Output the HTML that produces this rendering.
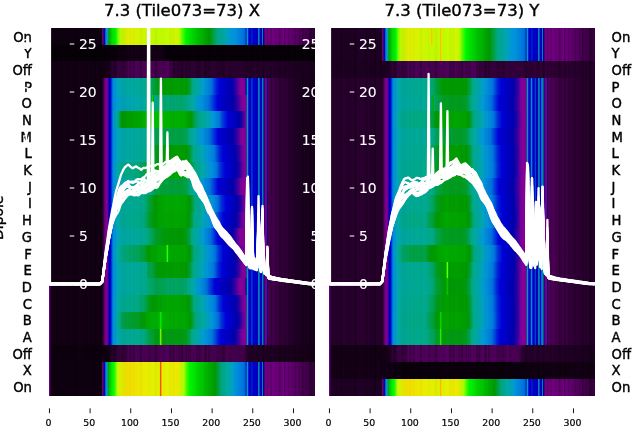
<!DOCTYPE html>
<html><head><meta charset="utf-8"><title>7.3 (Tile073=73)</title>
<style>
html,body{margin:0;padding:0;background:#fff;}
body{width:640px;height:440px;overflow:hidden;}
svg{display:block;will-change:transform;}
text{font-family:"DejaVu Sans","Liberation Sans",sans-serif;fill:#000;stroke:#000;stroke-width:.4px;}
text.w{fill:#fff;stroke:#fff;stroke-width:.1px;}
text.s{stroke-width:.2px;}
</style></head><body>
<svg width="640" height="440" viewBox="0 0 640 440">
<defs>
<linearGradient id="gL0"><stop offset=".0015" stop-color="#6c009c"/><stop offset=".0046" stop-color="#5f006d"/><stop offset=".0076" stop-color="#100012"/><stop offset=".1972" stop-color="#100012"/><stop offset=".2003" stop-color="#6b007a"/><stop offset=".2034" stop-color="#860097"/><stop offset=".2064" stop-color="#0900a9"/><stop offset=".2095" stop-color="#0000dd"/><stop offset=".2125" stop-color="#006fdd"/><stop offset=".2156" stop-color="#0092dd"/><stop offset=".2187" stop-color="#00a0c9"/><stop offset=".2217" stop-color="#00aa91"/><stop offset=".2248" stop-color="#009b12"/><stop offset=".2278" stop-color="#00b400"/><stop offset=".2401" stop-color="#00e400"/><stop offset=".2492" stop-color="#00f800"/><stop offset=".2523" stop-color="#06ff00"/><stop offset=".2584" stop-color="#5eff00"/><stop offset=".2676" stop-color="#b9ff00"/><stop offset=".2798" stop-color="#cff800"/><stop offset=".2982" stop-color="#e4f100"/><stop offset=".3746" stop-color="#c7fb00"/><stop offset=".4144" stop-color="#c0fd00"/><stop offset=".4541" stop-color="#c7fb00"/><stop offset=".4786" stop-color="#d4f700"/><stop offset=".4908" stop-color="#b9ff00"/><stop offset=".5122" stop-color="#04ff00"/><stop offset=".5153" stop-color="#00fb00"/><stop offset=".5398" stop-color="#00d600"/><stop offset=".6009" stop-color="#009c00"/><stop offset=".604" stop-color="#009a02"/><stop offset=".607" stop-color="#009b0e"/><stop offset=".6223" stop-color="#00a352"/><stop offset=".6315" stop-color="#00a980"/><stop offset=".6346" stop-color="#00aa8a"/><stop offset=".659" stop-color="#00aaa9"/><stop offset=".6835" stop-color="#009bd7"/><stop offset=".6896" stop-color="#0096dd"/><stop offset=".6927" stop-color="#0093dd"/><stop offset=".6957" stop-color="#0097dd"/><stop offset=".7324" stop-color="#0073dd"/><stop offset=".7355" stop-color="#006bdd"/><stop offset=".7416" stop-color="#0023dd"/><stop offset=".7446" stop-color="#00a0c9"/><stop offset=".7477" stop-color="#009fc9"/><stop offset=".7508" stop-color="#0000dc"/><stop offset=".7599" stop-color="#0000da"/><stop offset=".763" stop-color="#0040dd"/><stop offset=".7661" stop-color="#0000d9"/><stop offset=".7844" stop-color="#0000d6"/><stop offset=".7875" stop-color="#009ed0"/><stop offset=".7905" stop-color="#0079dd"/><stop offset=".7936" stop-color="#0000d5"/><stop offset=".7997" stop-color="#0000d4"/><stop offset=".8028" stop-color="#009cd2"/><stop offset=".8058" stop-color="#0000d3"/><stop offset=".8089" stop-color="#4200a2"/><stop offset=".8119" stop-color="#7b008c"/><stop offset=".8823" stop-color="#770088"/><stop offset=".9159" stop-color="#690078"/><stop offset=".9985" stop-color="#3a0043"/></linearGradient>
<linearGradient id="gL1"><stop offset=".0015" stop-color="#6c009c"/><stop offset=".0046" stop-color="#5f006d"/><stop offset=".0076" stop-color="#070008"/><stop offset=".2156" stop-color="#070008"/><stop offset=".292" stop-color="#150017"/><stop offset=".4266" stop-color="#150017"/><stop offset=".4388" stop-color="#070008"/><stop offset=".9985" stop-color="#070008"/></linearGradient>
<linearGradient id="gL2"><stop offset=".0015" stop-color="#6c009c"/><stop offset=".0046" stop-color="#5f006d"/><stop offset=".0076" stop-color="#150017"/><stop offset=".2156" stop-color="#150017"/><stop offset=".2339" stop-color="#29002f"/><stop offset=".2584" stop-color="#3e0048"/><stop offset=".292" stop-color="#51005c"/><stop offset=".4572" stop-color="#51005c"/><stop offset=".4694" stop-color="#33003a"/><stop offset=".8119" stop-color="#29002f"/><stop offset=".9985" stop-color="#1d0021"/></linearGradient>
<linearGradient id="gL3"><stop offset=".0015" stop-color="#6c009c"/><stop offset=".0046" stop-color="#5f006d"/><stop offset=".0076" stop-color="#150017"/><stop offset=".1972" stop-color="#150017"/><stop offset=".2003" stop-color="#18001b"/><stop offset=".2034" stop-color="#320038"/><stop offset=".2064" stop-color="#5f006d"/><stop offset=".2095" stop-color="#7a008b"/><stop offset=".2187" stop-color="#850099"/><stop offset=".2248" stop-color="#1b00a7"/><stop offset=".2278" stop-color="#0000b9"/><stop offset=".2309" stop-color="#0000d3"/><stop offset=".2339" stop-color="#0023dd"/><stop offset=".237" stop-color="#005fdd"/><stop offset=".2401" stop-color="#0081dd"/><stop offset=".2431" stop-color="#0091dd"/><stop offset=".2462" stop-color="#0098dd"/><stop offset=".2554" stop-color="#00a2c4"/><stop offset=".2768" stop-color="#00aaa9"/><stop offset=".3379" stop-color="#00aa9d"/><stop offset=".3593" stop-color="#00aa94"/><stop offset=".3716" stop-color="#00aa8a"/><stop offset=".3746" stop-color="#00aa85"/><stop offset=".3838" stop-color="#00a562"/><stop offset=".4083" stop-color="#009c18"/><stop offset=".4266" stop-color="#009a01"/><stop offset=".4908" stop-color="#00a000"/><stop offset=".5153" stop-color="#009c00"/><stop offset=".5183" stop-color="#009a02"/><stop offset=".5306" stop-color="#00a038"/><stop offset=".5398" stop-color="#00aa86"/><stop offset=".5612" stop-color="#00aaaa"/><stop offset=".5856" stop-color="#0099dc"/><stop offset=".6101" stop-color="#0076dd"/><stop offset=".6284" stop-color="#0023dd"/><stop offset=".6407" stop-color="#0002dd"/><stop offset=".6437" stop-color="#0000da"/><stop offset=".6896" stop-color="#0200ab"/><stop offset=".7018" stop-color="#2c00a4"/><stop offset=".7141" stop-color="#6f009c"/><stop offset=".7202" stop-color="#82009a"/><stop offset=".7263" stop-color="#860097"/><stop offset=".7355" stop-color="#830094"/><stop offset=".7385" stop-color="#4b00a0"/><stop offset=".7416" stop-color="#0000b4"/><stop offset=".7446" stop-color="#009dd1"/><stop offset=".7477" stop-color="#009dd1"/><stop offset=".7508" stop-color="#0000da"/><stop offset=".7599" stop-color="#0000da"/><stop offset=".763" stop-color="#0082dd"/><stop offset=".7661" stop-color="#0000da"/><stop offset=".7844" stop-color="#0000da"/><stop offset=".7875" stop-color="#009dd1"/><stop offset=".7905" stop-color="#0090dd"/><stop offset=".7936" stop-color="#0000da"/><stop offset=".7997" stop-color="#0000da"/><stop offset=".8028" stop-color="#009dd1"/><stop offset=".8058" stop-color="#007cdd"/><stop offset=".8089" stop-color="#1800a7"/><stop offset=".8119" stop-color="#830094"/><stop offset=".818" stop-color="#79008a"/><stop offset=".8211" stop-color="#0000b4"/><stop offset=".8242" stop-color="#4d0058"/><stop offset=".8272" stop-color="#4b0055"/><stop offset=".9343" stop-color="#220028"/><stop offset=".9985" stop-color="#19001c"/></linearGradient>
<linearGradient id="gL4"><stop offset=".0015" stop-color="#6c009c"/><stop offset=".0046" stop-color="#5f006d"/><stop offset=".0076" stop-color="#150017"/><stop offset=".1972" stop-color="#150017"/><stop offset=".2003" stop-color="#18001b"/><stop offset=".2034" stop-color="#320038"/><stop offset=".2064" stop-color="#5f006d"/><stop offset=".2095" stop-color="#7a008b"/><stop offset=".2187" stop-color="#850099"/><stop offset=".2248" stop-color="#1b00a7"/><stop offset=".2278" stop-color="#0000b9"/><stop offset=".2309" stop-color="#0000d3"/><stop offset=".2339" stop-color="#0023dd"/><stop offset=".237" stop-color="#005fdd"/><stop offset=".2401" stop-color="#0081dd"/><stop offset=".2431" stop-color="#0090dd"/><stop offset=".2462" stop-color="#0095dd"/><stop offset=".2492" stop-color="#009adb"/><stop offset=".2554" stop-color="#009fcd"/><stop offset=".2706" stop-color="#00a2c4"/><stop offset=".2768" stop-color="#00a4ba"/><stop offset=".3379" stop-color="#00aaaa"/><stop offset=".3838" stop-color="#00aa92"/><stop offset=".3869" stop-color="#00aa00"/><stop offset=".3899" stop-color="#00f200"/><stop offset=".393" stop-color="#009d1c"/><stop offset=".396" stop-color="#00aa8c"/><stop offset=".4021" stop-color="#00aa88"/><stop offset=".4083" stop-color="#00a97b"/><stop offset=".4388" stop-color="#00a66d"/><stop offset=".448" stop-color="#00a774"/><stop offset=".4908" stop-color="#00a66d"/><stop offset=".5153" stop-color="#00a87a"/><stop offset=".5183" stop-color="#00aa88"/><stop offset=".5306" stop-color="#00aa95"/><stop offset=".5398" stop-color="#00aaa6"/><stop offset=".5673" stop-color="#0098dd"/><stop offset=".5917" stop-color="#0080dd"/><stop offset=".6009" stop-color="#0073dd"/><stop offset=".6315" stop-color="#0006dd"/><stop offset=".6346" stop-color="#0000db"/><stop offset=".6621" stop-color="#0000c0"/><stop offset=".6927" stop-color="#0300aa"/><stop offset=".711" stop-color="#3900a3"/><stop offset=".7232" stop-color="#75009b"/><stop offset=".7324" stop-color="#860098"/><stop offset=".7416" stop-color="#830094"/><stop offset=".7446" stop-color="#009dd1"/><stop offset=".7477" stop-color="#009dd1"/><stop offset=".7508" stop-color="#0000da"/><stop offset=".7599" stop-color="#0000da"/><stop offset=".763" stop-color="#0082dd"/><stop offset=".7661" stop-color="#0000da"/><stop offset=".7844" stop-color="#0000da"/><stop offset=".7875" stop-color="#009dd1"/><stop offset=".7905" stop-color="#0090dd"/><stop offset=".7936" stop-color="#0000da"/><stop offset=".7997" stop-color="#0000da"/><stop offset=".8028" stop-color="#009dd1"/><stop offset=".8058" stop-color="#007cdd"/><stop offset=".8089" stop-color="#1800a7"/><stop offset=".8119" stop-color="#830094"/><stop offset=".818" stop-color="#79008a"/><stop offset=".8211" stop-color="#0000b4"/><stop offset=".8242" stop-color="#4d0058"/><stop offset=".8272" stop-color="#4b0055"/><stop offset=".9343" stop-color="#220028"/><stop offset=".9985" stop-color="#19001c"/></linearGradient>
<linearGradient id="gL5"><stop offset=".0015" stop-color="#6c009c"/><stop offset=".0046" stop-color="#5f006d"/><stop offset=".0076" stop-color="#150017"/><stop offset=".1972" stop-color="#150017"/><stop offset=".2003" stop-color="#18001b"/><stop offset=".2034" stop-color="#320038"/><stop offset=".2064" stop-color="#5f006d"/><stop offset=".2095" stop-color="#7a008b"/><stop offset=".2187" stop-color="#850099"/><stop offset=".2248" stop-color="#1b00a7"/><stop offset=".2278" stop-color="#0000b9"/><stop offset=".2309" stop-color="#0000d3"/><stop offset=".2339" stop-color="#0023dd"/><stop offset=".237" stop-color="#005fdd"/><stop offset=".2401" stop-color="#0081dd"/><stop offset=".2431" stop-color="#0098dd"/><stop offset=".2523" stop-color="#00aaa6"/><stop offset=".2615" stop-color="#00a982"/><stop offset=".2706" stop-color="#009b14"/><stop offset=".2768" stop-color="#009b00"/><stop offset=".3379" stop-color="#00a500"/><stop offset=".3593" stop-color="#00af00"/><stop offset=".3746" stop-color="#00be00"/><stop offset=".4083" stop-color="#00c100"/><stop offset=".448" stop-color="#00af00"/><stop offset=".4908" stop-color="#00b100"/><stop offset=".5153" stop-color="#00ad00"/><stop offset=".5336" stop-color="#009a00"/><stop offset=".5489" stop-color="#00a355"/><stop offset=".5612" stop-color="#00aa88"/><stop offset=".5948" stop-color="#00a9ac"/><stop offset=".6162" stop-color="#009ada"/><stop offset=".6193" stop-color="#0096dd"/><stop offset=".6407" stop-color="#0078dd"/><stop offset=".6529" stop-color="#003cdd"/><stop offset=".6713" stop-color="#0003dd"/><stop offset=".6743" stop-color="#0000da"/><stop offset=".7141" stop-color="#0000ad"/><stop offset=".7171" stop-color="#0400aa"/><stop offset=".7263" stop-color="#2700a5"/><stop offset=".7355" stop-color="#5c009f"/><stop offset=".7385" stop-color="#80009a"/><stop offset=".7416" stop-color="#850096"/><stop offset=".7446" stop-color="#009dd1"/><stop offset=".7477" stop-color="#009dd1"/><stop offset=".7508" stop-color="#0000da"/><stop offset=".7599" stop-color="#0000da"/><stop offset=".763" stop-color="#0082dd"/><stop offset=".7661" stop-color="#0000da"/><stop offset=".7844" stop-color="#0000da"/><stop offset=".7875" stop-color="#009dd1"/><stop offset=".7905" stop-color="#0090dd"/><stop offset=".7936" stop-color="#0000da"/><stop offset=".7997" stop-color="#0000da"/><stop offset=".8028" stop-color="#009dd1"/><stop offset=".8058" stop-color="#007cdd"/><stop offset=".8089" stop-color="#1800a7"/><stop offset=".8119" stop-color="#830094"/><stop offset=".818" stop-color="#79008a"/><stop offset=".8211" stop-color="#0000b4"/><stop offset=".8242" stop-color="#4d0058"/><stop offset=".8272" stop-color="#4b0055"/><stop offset=".9343" stop-color="#220028"/><stop offset=".9985" stop-color="#19001c"/></linearGradient>
<linearGradient id="gL6"><stop offset=".0015" stop-color="#6c009c"/><stop offset=".0046" stop-color="#5f006d"/><stop offset=".0076" stop-color="#150017"/><stop offset=".1972" stop-color="#150017"/><stop offset=".2003" stop-color="#18001b"/><stop offset=".2034" stop-color="#320038"/><stop offset=".2064" stop-color="#5f006d"/><stop offset=".2095" stop-color="#7a008b"/><stop offset=".2187" stop-color="#850099"/><stop offset=".2248" stop-color="#1b00a7"/><stop offset=".2278" stop-color="#0000b9"/><stop offset=".2309" stop-color="#0000d3"/><stop offset=".2339" stop-color="#0023dd"/><stop offset=".237" stop-color="#005fdd"/><stop offset=".2401" stop-color="#0081dd"/><stop offset=".2431" stop-color="#0091dd"/><stop offset=".2462" stop-color="#0098dd"/><stop offset=".2554" stop-color="#00a2c4"/><stop offset=".2768" stop-color="#00aaa9"/><stop offset=".3379" stop-color="#00aa9d"/><stop offset=".3746" stop-color="#00aa8b"/><stop offset=".3777" stop-color="#00aa89"/><stop offset=".4083" stop-color="#00a24b"/><stop offset=".4388" stop-color="#00a142"/><stop offset=".448" stop-color="#00a24b"/><stop offset=".4908" stop-color="#00a244"/><stop offset=".5153" stop-color="#00a352"/><stop offset=".5275" stop-color="#00aa88"/><stop offset=".5489" stop-color="#00a9ad"/><stop offset=".5703" stop-color="#009ad9"/><stop offset=".5826" stop-color="#008fdd"/><stop offset=".6009" stop-color="#0079dd"/><stop offset=".604" stop-color="#0071dd"/><stop offset=".6346" stop-color="#0000dc"/><stop offset=".6896" stop-color="#0100ac"/><stop offset=".6927" stop-color="#0600a9"/><stop offset=".708" stop-color="#3700a3"/><stop offset=".7202" stop-color="#74009b"/><stop offset=".7263" stop-color="#84009a"/><stop offset=".7294" stop-color="#870098"/><stop offset=".7416" stop-color="#830094"/><stop offset=".7446" stop-color="#009dd1"/><stop offset=".7477" stop-color="#009dd1"/><stop offset=".7508" stop-color="#0000da"/><stop offset=".7599" stop-color="#0000da"/><stop offset=".763" stop-color="#0082dd"/><stop offset=".7661" stop-color="#0000da"/><stop offset=".7844" stop-color="#0000da"/><stop offset=".7875" stop-color="#009dd1"/><stop offset=".7905" stop-color="#0090dd"/><stop offset=".7936" stop-color="#0000da"/><stop offset=".7997" stop-color="#0000da"/><stop offset=".8028" stop-color="#009dd1"/><stop offset=".8058" stop-color="#007cdd"/><stop offset=".8089" stop-color="#1800a7"/><stop offset=".8119" stop-color="#830094"/><stop offset=".818" stop-color="#79008a"/><stop offset=".8211" stop-color="#0000b4"/><stop offset=".8242" stop-color="#4d0058"/><stop offset=".8272" stop-color="#4b0055"/><stop offset=".9343" stop-color="#220028"/><stop offset=".9985" stop-color="#19001c"/></linearGradient>
<linearGradient id="gL7"><stop offset=".0015" stop-color="#6c009c"/><stop offset=".0046" stop-color="#5f006d"/><stop offset=".0076" stop-color="#150017"/><stop offset=".1972" stop-color="#150017"/><stop offset=".2003" stop-color="#18001b"/><stop offset=".2034" stop-color="#320038"/><stop offset=".2064" stop-color="#5f006d"/><stop offset=".2095" stop-color="#7a008b"/><stop offset=".2187" stop-color="#850099"/><stop offset=".2248" stop-color="#1b00a7"/><stop offset=".2278" stop-color="#0000b9"/><stop offset=".2309" stop-color="#0000d3"/><stop offset=".2339" stop-color="#0023dd"/><stop offset=".237" stop-color="#005fdd"/><stop offset=".2401" stop-color="#0081dd"/><stop offset=".2431" stop-color="#0092dd"/><stop offset=".2462" stop-color="#0098dd"/><stop offset=".2554" stop-color="#00a3c1"/><stop offset=".2737" stop-color="#00aaa8"/><stop offset=".3379" stop-color="#00aa9b"/><stop offset=".3685" stop-color="#00aa89"/><stop offset=".3838" stop-color="#00a457"/><stop offset=".4083" stop-color="#009b11"/><stop offset=".4235" stop-color="#009a01"/><stop offset=".4908" stop-color="#00a000"/><stop offset=".5153" stop-color="#009c00"/><stop offset=".5183" stop-color="#009a02"/><stop offset=".5306" stop-color="#009f35"/><stop offset=".5428" stop-color="#00aa89"/><stop offset=".5673" stop-color="#00aaaa"/><stop offset=".5979" stop-color="#0098dd"/><stop offset=".6223" stop-color="#0078dd"/><stop offset=".6407" stop-color="#0025dd"/><stop offset=".6529" stop-color="#0004dd"/><stop offset=".656" stop-color="#0000db"/><stop offset=".7018" stop-color="#0200ab"/><stop offset=".7141" stop-color="#2b00a4"/><stop offset=".7263" stop-color="#6e009c"/><stop offset=".7324" stop-color="#81009a"/><stop offset=".7385" stop-color="#860097"/><stop offset=".7416" stop-color="#840095"/><stop offset=".7446" stop-color="#009dd1"/><stop offset=".7477" stop-color="#009dd1"/><stop offset=".7508" stop-color="#0000da"/><stop offset=".7599" stop-color="#0000da"/><stop offset=".763" stop-color="#0082dd"/><stop offset=".7661" stop-color="#0000da"/><stop offset=".7844" stop-color="#0000da"/><stop offset=".7875" stop-color="#009dd1"/><stop offset=".7905" stop-color="#0090dd"/><stop offset=".7936" stop-color="#0000da"/><stop offset=".7997" stop-color="#0000da"/><stop offset=".8028" stop-color="#009dd1"/><stop offset=".8058" stop-color="#007cdd"/><stop offset=".8089" stop-color="#1800a7"/><stop offset=".8119" stop-color="#830094"/><stop offset=".818" stop-color="#79008a"/><stop offset=".8211" stop-color="#0000b4"/><stop offset=".8242" stop-color="#4d0058"/><stop offset=".8272" stop-color="#4b0055"/><stop offset=".9343" stop-color="#220028"/><stop offset=".9985" stop-color="#19001c"/></linearGradient>
<linearGradient id="gL8"><stop offset=".0015" stop-color="#6c009c"/><stop offset=".0046" stop-color="#5f006d"/><stop offset=".0076" stop-color="#150017"/><stop offset=".1972" stop-color="#150017"/><stop offset=".2003" stop-color="#18001b"/><stop offset=".2034" stop-color="#320038"/><stop offset=".2064" stop-color="#5f006d"/><stop offset=".2095" stop-color="#7a008b"/><stop offset=".2187" stop-color="#850099"/><stop offset=".2248" stop-color="#1b00a7"/><stop offset=".2278" stop-color="#0000b9"/><stop offset=".2309" stop-color="#0000d3"/><stop offset=".2339" stop-color="#0023dd"/><stop offset=".237" stop-color="#005fdd"/><stop offset=".2401" stop-color="#0081dd"/><stop offset=".2431" stop-color="#0094dd"/><stop offset=".2462" stop-color="#009bd7"/><stop offset=".2554" stop-color="#00a8af"/><stop offset=".2706" stop-color="#00aa94"/><stop offset=".2768" stop-color="#00aa8d"/><stop offset=".3012" stop-color="#00aa88"/><stop offset=".3379" stop-color="#00a773"/><stop offset=".3593" stop-color="#00a24c"/><stop offset=".3746" stop-color="#009b12"/><stop offset=".3807" stop-color="#009a03"/><stop offset=".4083" stop-color="#00a700"/><stop offset=".4388" stop-color="#00aa00"/><stop offset=".5153" stop-color="#00a700"/><stop offset=".5275" stop-color="#009a02"/><stop offset=".5306" stop-color="#009a0c"/><stop offset=".5459" stop-color="#00a771"/><stop offset=".552" stop-color="#00aa8a"/><stop offset=".5795" stop-color="#00aaab"/><stop offset=".607" stop-color="#0097dd"/><stop offset=".6284" stop-color="#0079dd"/><stop offset=".6315" stop-color="#0071dd"/><stop offset=".6437" stop-color="#0034dd"/><stop offset=".6621" stop-color="#0000dc"/><stop offset=".7018" stop-color="#0000b1"/><stop offset=".708" stop-color="#0500aa"/><stop offset=".7171" stop-color="#2800a5"/><stop offset=".7294" stop-color="#6c009c"/><stop offset=".7355" stop-color="#80009a"/><stop offset=".7385" stop-color="#860097"/><stop offset=".7416" stop-color="#840095"/><stop offset=".7446" stop-color="#009dd1"/><stop offset=".7477" stop-color="#009dd1"/><stop offset=".7508" stop-color="#0000da"/><stop offset=".7599" stop-color="#0000da"/><stop offset=".763" stop-color="#0082dd"/><stop offset=".7661" stop-color="#0000da"/><stop offset=".7844" stop-color="#0000da"/><stop offset=".7875" stop-color="#009dd1"/><stop offset=".7905" stop-color="#0090dd"/><stop offset=".7936" stop-color="#0000da"/><stop offset=".7997" stop-color="#0000da"/><stop offset=".8028" stop-color="#009dd1"/><stop offset=".8058" stop-color="#007cdd"/><stop offset=".8089" stop-color="#1800a7"/><stop offset=".8119" stop-color="#830094"/><stop offset=".818" stop-color="#79008a"/><stop offset=".8211" stop-color="#0000b4"/><stop offset=".8242" stop-color="#4d0058"/><stop offset=".8272" stop-color="#4b0055"/><stop offset=".9343" stop-color="#220028"/><stop offset=".9985" stop-color="#19001c"/></linearGradient>
<linearGradient id="gL9"><stop offset=".0015" stop-color="#6c009c"/><stop offset=".0046" stop-color="#5f006d"/><stop offset=".0076" stop-color="#150017"/><stop offset=".1972" stop-color="#150017"/><stop offset=".2003" stop-color="#18001b"/><stop offset=".2034" stop-color="#320038"/><stop offset=".2064" stop-color="#5f006d"/><stop offset=".2095" stop-color="#7a008b"/><stop offset=".2187" stop-color="#850099"/><stop offset=".2248" stop-color="#1b00a7"/><stop offset=".2278" stop-color="#0000b9"/><stop offset=".2309" stop-color="#0000d3"/><stop offset=".2339" stop-color="#0023dd"/><stop offset=".237" stop-color="#005fdd"/><stop offset=".2401" stop-color="#0081dd"/><stop offset=".2431" stop-color="#0091dd"/><stop offset=".2462" stop-color="#0098dd"/><stop offset=".2554" stop-color="#00a2c4"/><stop offset=".2768" stop-color="#00aaa9"/><stop offset=".3379" stop-color="#00aa9d"/><stop offset=".3746" stop-color="#00aa8a"/><stop offset=".3777" stop-color="#00aa88"/><stop offset=".3838" stop-color="#00a877"/><stop offset=".4083" stop-color="#00a243"/><stop offset=".4388" stop-color="#00a036"/><stop offset=".448" stop-color="#00a13d"/><stop offset=".4908" stop-color="#00a037"/><stop offset=".5153" stop-color="#00a244"/><stop offset=".5306" stop-color="#00aa88"/><stop offset=".5489" stop-color="#00aaa9"/><stop offset=".5734" stop-color="#009ad9"/><stop offset=".5856" stop-color="#008fdd"/><stop offset=".604" stop-color="#0078dd"/><stop offset=".6223" stop-color="#0034dd"/><stop offset=".6346" stop-color="#0002dd"/><stop offset=".6376" stop-color="#0000db"/><stop offset=".6865" stop-color="#0000af"/><stop offset=".6927" stop-color="#0300aa"/><stop offset=".708" stop-color="#3500a3"/><stop offset=".7202" stop-color="#73009b"/><stop offset=".7263" stop-color="#84009a"/><stop offset=".7294" stop-color="#870098"/><stop offset=".7416" stop-color="#830094"/><stop offset=".7446" stop-color="#009dd1"/><stop offset=".7477" stop-color="#009dd1"/><stop offset=".7508" stop-color="#0000da"/><stop offset=".7599" stop-color="#0000da"/><stop offset=".763" stop-color="#0082dd"/><stop offset=".7661" stop-color="#0000da"/><stop offset=".7844" stop-color="#0000da"/><stop offset=".7875" stop-color="#009dd1"/><stop offset=".7905" stop-color="#0090dd"/><stop offset=".7936" stop-color="#0000da"/><stop offset=".7997" stop-color="#0000da"/><stop offset=".8028" stop-color="#009dd1"/><stop offset=".8058" stop-color="#007cdd"/><stop offset=".8089" stop-color="#1800a7"/><stop offset=".8119" stop-color="#830094"/><stop offset=".818" stop-color="#79008a"/><stop offset=".8211" stop-color="#0000b4"/><stop offset=".8242" stop-color="#4d0058"/><stop offset=".8272" stop-color="#4b0055"/><stop offset=".9343" stop-color="#220028"/><stop offset=".9985" stop-color="#19001c"/></linearGradient>
<linearGradient id="gL10"><stop offset=".0015" stop-color="#6c009c"/><stop offset=".0046" stop-color="#5f006d"/><stop offset=".0076" stop-color="#150017"/><stop offset=".1972" stop-color="#150017"/><stop offset=".2003" stop-color="#18001b"/><stop offset=".2034" stop-color="#320038"/><stop offset=".2064" stop-color="#5f006d"/><stop offset=".2095" stop-color="#7a008b"/><stop offset=".2187" stop-color="#850099"/><stop offset=".2248" stop-color="#1b00a7"/><stop offset=".2278" stop-color="#0000b9"/><stop offset=".2309" stop-color="#0000d3"/><stop offset=".2339" stop-color="#0023dd"/><stop offset=".237" stop-color="#005fdd"/><stop offset=".2401" stop-color="#0081dd"/><stop offset=".2431" stop-color="#0093dd"/><stop offset=".2462" stop-color="#009adb"/><stop offset=".2554" stop-color="#00a5b9"/><stop offset=".2645" stop-color="#00aaa9"/><stop offset=".2768" stop-color="#00aa9b"/><stop offset=".3379" stop-color="#00aa90"/><stop offset=".3563" stop-color="#00aa88"/><stop offset=".3593" stop-color="#00a982"/><stop offset=".3838" stop-color="#009e29"/><stop offset=".3991" stop-color="#009a01"/><stop offset=".4388" stop-color="#00a900"/><stop offset=".4908" stop-color="#00aa00"/><stop offset=".5153" stop-color="#00a700"/><stop offset=".5275" stop-color="#009a02"/><stop offset=".5306" stop-color="#009a0b"/><stop offset=".5459" stop-color="#00a66c"/><stop offset=".552" stop-color="#00aa88"/><stop offset=".5826" stop-color="#00aaac"/><stop offset=".6101" stop-color="#0097dd"/><stop offset=".6315" stop-color="#0079dd"/><stop offset=".6346" stop-color="#0071dd"/><stop offset=".6468" stop-color="#0034dd"/><stop offset=".6651" stop-color="#0000dc"/><stop offset=".7049" stop-color="#0000b1"/><stop offset=".711" stop-color="#0600a9"/><stop offset=".7202" stop-color="#2800a5"/><stop offset=".7324" stop-color="#6c009c"/><stop offset=".7355" stop-color="#76009b"/><stop offset=".7385" stop-color="#870098"/><stop offset=".7416" stop-color="#850096"/><stop offset=".7446" stop-color="#009dd1"/><stop offset=".7477" stop-color="#009dd1"/><stop offset=".7508" stop-color="#0000da"/><stop offset=".7599" stop-color="#0000da"/><stop offset=".763" stop-color="#0082dd"/><stop offset=".7661" stop-color="#0000da"/><stop offset=".7844" stop-color="#0000da"/><stop offset=".7875" stop-color="#009dd1"/><stop offset=".7905" stop-color="#0090dd"/><stop offset=".7936" stop-color="#0000da"/><stop offset=".7997" stop-color="#0000da"/><stop offset=".8028" stop-color="#009dd1"/><stop offset=".8058" stop-color="#007cdd"/><stop offset=".8089" stop-color="#1800a7"/><stop offset=".8119" stop-color="#830094"/><stop offset=".818" stop-color="#79008a"/><stop offset=".8211" stop-color="#0000b4"/><stop offset=".8242" stop-color="#4d0058"/><stop offset=".8272" stop-color="#4b0055"/><stop offset=".9343" stop-color="#220028"/><stop offset=".9985" stop-color="#19001c"/></linearGradient>
<linearGradient id="gL11"><stop offset=".0015" stop-color="#6c009c"/><stop offset=".0046" stop-color="#5f006d"/><stop offset=".0076" stop-color="#150017"/><stop offset=".1972" stop-color="#150017"/><stop offset=".2003" stop-color="#18001b"/><stop offset=".2034" stop-color="#320038"/><stop offset=".2064" stop-color="#5f006d"/><stop offset=".2095" stop-color="#7a008b"/><stop offset=".2187" stop-color="#850099"/><stop offset=".2248" stop-color="#1b00a7"/><stop offset=".2278" stop-color="#0000b9"/><stop offset=".2309" stop-color="#0000d3"/><stop offset=".2339" stop-color="#0023dd"/><stop offset=".237" stop-color="#005fdd"/><stop offset=".2401" stop-color="#0081dd"/><stop offset=".2431" stop-color="#0093dd"/><stop offset=".2462" stop-color="#009ada"/><stop offset=".2554" stop-color="#00a6b6"/><stop offset=".2615" stop-color="#00aaaa"/><stop offset=".2768" stop-color="#00aa97"/><stop offset=".3471" stop-color="#00aa88"/><stop offset=".3593" stop-color="#00a773"/><stop offset=".3746" stop-color="#00a03a"/><stop offset=".3838" stop-color="#009d1e"/><stop offset=".393" stop-color="#009a08"/><stop offset=".3991" stop-color="#009b00"/><stop offset=".4083" stop-color="#00a000"/><stop offset=".4388" stop-color="#00a600"/><stop offset=".4908" stop-color="#00a700"/><stop offset=".5153" stop-color="#00a300"/><stop offset=".5214" stop-color="#009c00"/><stop offset=".5245" stop-color="#009a02"/><stop offset=".5306" stop-color="#009c1a"/><stop offset=".5459" stop-color="#00aa83"/><stop offset=".5489" stop-color="#00aa8b"/><stop offset=".5734" stop-color="#00aaaa"/><stop offset=".6009" stop-color="#0099dc"/><stop offset=".6254" stop-color="#0078dd"/><stop offset=".6407" stop-color="#0030dd"/><stop offset=".656" stop-color="#0003dd"/><stop offset=".659" stop-color="#0000da"/><stop offset=".7018" stop-color="#0100ac"/><stop offset=".7049" stop-color="#0700a9"/><stop offset=".7141" stop-color="#2900a5"/><stop offset=".7263" stop-color="#6c009c"/><stop offset=".7324" stop-color="#80009a"/><stop offset=".7385" stop-color="#860097"/><stop offset=".7416" stop-color="#840095"/><stop offset=".7446" stop-color="#009dd1"/><stop offset=".7477" stop-color="#009dd1"/><stop offset=".7508" stop-color="#0000da"/><stop offset=".7599" stop-color="#0000da"/><stop offset=".763" stop-color="#0082dd"/><stop offset=".7661" stop-color="#0000da"/><stop offset=".7844" stop-color="#0000da"/><stop offset=".7875" stop-color="#009dd1"/><stop offset=".7905" stop-color="#0090dd"/><stop offset=".7936" stop-color="#0000da"/><stop offset=".7997" stop-color="#0000da"/><stop offset=".8028" stop-color="#009dd1"/><stop offset=".8058" stop-color="#007cdd"/><stop offset=".8089" stop-color="#1800a7"/><stop offset=".8119" stop-color="#830094"/><stop offset=".818" stop-color="#79008a"/><stop offset=".8211" stop-color="#0000b4"/><stop offset=".8242" stop-color="#4d0058"/><stop offset=".8272" stop-color="#4b0055"/><stop offset=".9343" stop-color="#220028"/><stop offset=".9985" stop-color="#19001c"/></linearGradient>
<linearGradient id="gL12"><stop offset=".0015" stop-color="#6c009c"/><stop offset=".0046" stop-color="#5f006d"/><stop offset=".0076" stop-color="#150017"/><stop offset=".1972" stop-color="#150017"/><stop offset=".2003" stop-color="#18001b"/><stop offset=".2034" stop-color="#320038"/><stop offset=".2064" stop-color="#5f006d"/><stop offset=".2095" stop-color="#7a008b"/><stop offset=".2187" stop-color="#850099"/><stop offset=".2248" stop-color="#1b00a7"/><stop offset=".2278" stop-color="#0000b9"/><stop offset=".2309" stop-color="#0000d3"/><stop offset=".2339" stop-color="#0023dd"/><stop offset=".237" stop-color="#005fdd"/><stop offset=".2401" stop-color="#0081dd"/><stop offset=".2431" stop-color="#0092dd"/><stop offset=".2462" stop-color="#0098dd"/><stop offset=".2554" stop-color="#00a3c1"/><stop offset=".2737" stop-color="#00aaa8"/><stop offset=".3379" stop-color="#00aa9b"/><stop offset=".3593" stop-color="#00aa91"/><stop offset=".3716" stop-color="#00aa84"/><stop offset=".3838" stop-color="#00a55d"/><stop offset=".4083" stop-color="#009d1f"/><stop offset=".4388" stop-color="#009a05"/><stop offset=".4908" stop-color="#009a02"/><stop offset=".5153" stop-color="#009b0e"/><stop offset=".5306" stop-color="#00a354"/><stop offset=".5367" stop-color="#00aa87"/><stop offset=".5581" stop-color="#00a9ad"/><stop offset=".5826" stop-color="#0098dd"/><stop offset=".607" stop-color="#0073dd"/><stop offset=".6284" stop-color="#0017dd"/><stop offset=".6376" stop-color="#0000dd"/><stop offset=".6865" stop-color="#0100ac"/><stop offset=".6896" stop-color="#0600a9"/><stop offset=".7018" stop-color="#3000a4"/><stop offset=".7141" stop-color="#71009c"/><stop offset=".7202" stop-color="#83009a"/><stop offset=".7232" stop-color="#870098"/><stop offset=".7355" stop-color="#830094"/><stop offset=".7385" stop-color="#4b00a0"/><stop offset=".7416" stop-color="#0000b4"/><stop offset=".7446" stop-color="#009dd1"/><stop offset=".7477" stop-color="#009dd1"/><stop offset=".7508" stop-color="#0000da"/><stop offset=".7599" stop-color="#0000da"/><stop offset=".763" stop-color="#0082dd"/><stop offset=".7661" stop-color="#0000da"/><stop offset=".7844" stop-color="#0000da"/><stop offset=".7875" stop-color="#009dd1"/><stop offset=".7905" stop-color="#0090dd"/><stop offset=".7936" stop-color="#0000da"/><stop offset=".7997" stop-color="#0000da"/><stop offset=".8028" stop-color="#009dd1"/><stop offset=".8058" stop-color="#007cdd"/><stop offset=".8089" stop-color="#1800a7"/><stop offset=".8119" stop-color="#830094"/><stop offset=".818" stop-color="#79008a"/><stop offset=".8211" stop-color="#0000b4"/><stop offset=".8242" stop-color="#4d0058"/><stop offset=".8272" stop-color="#4b0055"/><stop offset=".9343" stop-color="#220028"/><stop offset=".9985" stop-color="#19001c"/></linearGradient>
<linearGradient id="gL13"><stop offset=".0015" stop-color="#6c009c"/><stop offset=".0046" stop-color="#5f006d"/><stop offset=".0076" stop-color="#150017"/><stop offset=".1972" stop-color="#150017"/><stop offset=".2003" stop-color="#18001b"/><stop offset=".2034" stop-color="#320038"/><stop offset=".2064" stop-color="#5f006d"/><stop offset=".2095" stop-color="#7a008b"/><stop offset=".2187" stop-color="#850099"/><stop offset=".2248" stop-color="#1b00a7"/><stop offset=".2278" stop-color="#0000b9"/><stop offset=".2309" stop-color="#0000d3"/><stop offset=".2339" stop-color="#0023dd"/><stop offset=".237" stop-color="#005fdd"/><stop offset=".2401" stop-color="#0081dd"/><stop offset=".2431" stop-color="#0095dd"/><stop offset=".2462" stop-color="#009cd5"/><stop offset=".2554" stop-color="#00aaaa"/><stop offset=".2706" stop-color="#00aa8d"/><stop offset=".2768" stop-color="#00a982"/><stop offset=".3073" stop-color="#00a667"/><stop offset=".3379" stop-color="#00a457"/><stop offset=".3593" stop-color="#009f31"/><stop offset=".3716" stop-color="#009a04"/><stop offset=".3746" stop-color="#009b00"/><stop offset=".4083" stop-color="#00ab00"/><stop offset=".4388" stop-color="#00ab00"/><stop offset=".4419" stop-color="#00d600"/><stop offset=".445" stop-color="#4aff00"/><stop offset=".448" stop-color="#00c200"/><stop offset=".4511" stop-color="#00a900"/><stop offset=".5153" stop-color="#00a700"/><stop offset=".5275" stop-color="#009a02"/><stop offset=".5306" stop-color="#009a0d"/><stop offset=".5428" stop-color="#00a668"/><stop offset=".5489" stop-color="#00aa89"/><stop offset=".5734" stop-color="#00aaa9"/><stop offset=".6009" stop-color="#0097dd"/><stop offset=".6223" stop-color="#0079dd"/><stop offset=".6254" stop-color="#0071dd"/><stop offset=".6376" stop-color="#0035dd"/><stop offset=".656" stop-color="#0000dc"/><stop offset=".6988" stop-color="#0000ad"/><stop offset=".7018" stop-color="#0500aa"/><stop offset=".711" stop-color="#2700a5"/><stop offset=".7232" stop-color="#6c009c"/><stop offset=".7294" stop-color="#80009a"/><stop offset=".7355" stop-color="#860097"/><stop offset=".7416" stop-color="#830094"/><stop offset=".7446" stop-color="#009dd1"/><stop offset=".7477" stop-color="#009dd1"/><stop offset=".7508" stop-color="#0000da"/><stop offset=".7599" stop-color="#0000da"/><stop offset=".763" stop-color="#0082dd"/><stop offset=".7661" stop-color="#0000da"/><stop offset=".7844" stop-color="#0000da"/><stop offset=".7875" stop-color="#009dd1"/><stop offset=".7905" stop-color="#0090dd"/><stop offset=".7936" stop-color="#0000da"/><stop offset=".7997" stop-color="#0000da"/><stop offset=".8028" stop-color="#009dd1"/><stop offset=".8058" stop-color="#007cdd"/><stop offset=".8089" stop-color="#1800a7"/><stop offset=".8119" stop-color="#830094"/><stop offset=".818" stop-color="#79008a"/><stop offset=".8211" stop-color="#0000b4"/><stop offset=".8242" stop-color="#4d0058"/><stop offset=".8272" stop-color="#4b0055"/><stop offset=".9343" stop-color="#220028"/><stop offset=".9985" stop-color="#19001c"/></linearGradient>
<linearGradient id="gL14"><stop offset=".0015" stop-color="#6c009c"/><stop offset=".0046" stop-color="#5f006d"/><stop offset=".0076" stop-color="#150017"/><stop offset=".1972" stop-color="#150017"/><stop offset=".2003" stop-color="#18001b"/><stop offset=".2034" stop-color="#320038"/><stop offset=".2064" stop-color="#5f006d"/><stop offset=".2095" stop-color="#7a008b"/><stop offset=".2187" stop-color="#850099"/><stop offset=".2248" stop-color="#1b00a7"/><stop offset=".2278" stop-color="#0000b9"/><stop offset=".2309" stop-color="#0000d3"/><stop offset=".2339" stop-color="#0023dd"/><stop offset=".237" stop-color="#005fdd"/><stop offset=".2401" stop-color="#0081dd"/><stop offset=".2431" stop-color="#0092dd"/><stop offset=".2462" stop-color="#0099dc"/><stop offset=".2554" stop-color="#00a3be"/><stop offset=".2706" stop-color="#00aaa8"/><stop offset=".2768" stop-color="#00aaa2"/><stop offset=".3379" stop-color="#00aa97"/><stop offset=".3654" stop-color="#00aa88"/><stop offset=".3685" stop-color="#00a97e"/><stop offset=".3746" stop-color="#00a037"/><stop offset=".3777" stop-color="#00a355"/><stop offset=".3807" stop-color="#00a355"/><stop offset=".4083" stop-color="#009a09"/><stop offset=".4174" stop-color="#009a02"/><stop offset=".4908" stop-color="#00a000"/><stop offset=".5153" stop-color="#009c00"/><stop offset=".5183" stop-color="#009a02"/><stop offset=".5306" stop-color="#00a036"/><stop offset=".5398" stop-color="#00a87a"/><stop offset=".5428" stop-color="#00aa8a"/><stop offset=".5673" stop-color="#00a9ad"/><stop offset=".5948" stop-color="#0098dd"/><stop offset=".6193" stop-color="#0077dd"/><stop offset=".6376" stop-color="#0025dd"/><stop offset=".6498" stop-color="#0003dd"/><stop offset=".6529" stop-color="#0000db"/><stop offset=".6988" stop-color="#0200ab"/><stop offset=".711" stop-color="#2b00a4"/><stop offset=".7232" stop-color="#6e009c"/><stop offset=".7294" stop-color="#81009a"/><stop offset=".7355" stop-color="#860097"/><stop offset=".7416" stop-color="#830094"/><stop offset=".7446" stop-color="#009dd1"/><stop offset=".7477" stop-color="#009dd1"/><stop offset=".7508" stop-color="#0000da"/><stop offset=".7599" stop-color="#0000da"/><stop offset=".763" stop-color="#0082dd"/><stop offset=".7661" stop-color="#0000da"/><stop offset=".7844" stop-color="#0000da"/><stop offset=".7875" stop-color="#009dd1"/><stop offset=".7905" stop-color="#0090dd"/><stop offset=".7936" stop-color="#0000da"/><stop offset=".7997" stop-color="#0000da"/><stop offset=".8028" stop-color="#009dd1"/><stop offset=".8058" stop-color="#007cdd"/><stop offset=".8089" stop-color="#1800a7"/><stop offset=".8119" stop-color="#830094"/><stop offset=".818" stop-color="#79008a"/><stop offset=".8211" stop-color="#0000b4"/><stop offset=".8242" stop-color="#4d0058"/><stop offset=".8272" stop-color="#4b0055"/><stop offset=".9343" stop-color="#220028"/><stop offset=".9985" stop-color="#19001c"/></linearGradient>
<linearGradient id="gL15"><stop offset=".0015" stop-color="#6c009c"/><stop offset=".0046" stop-color="#5f006d"/><stop offset=".0076" stop-color="#150017"/><stop offset=".1972" stop-color="#150017"/><stop offset=".2003" stop-color="#18001b"/><stop offset=".2034" stop-color="#320038"/><stop offset=".2064" stop-color="#5f006d"/><stop offset=".2095" stop-color="#7a008b"/><stop offset=".2187" stop-color="#850099"/><stop offset=".2248" stop-color="#1b00a7"/><stop offset=".2278" stop-color="#0000b9"/><stop offset=".2309" stop-color="#0000d3"/><stop offset=".2339" stop-color="#0023dd"/><stop offset=".237" stop-color="#005fdd"/><stop offset=".2401" stop-color="#0081dd"/><stop offset=".2431" stop-color="#0092dd"/><stop offset=".2462" stop-color="#0099dc"/><stop offset=".2554" stop-color="#00a3be"/><stop offset=".2706" stop-color="#00aaa8"/><stop offset=".2768" stop-color="#00aaa2"/><stop offset=".3379" stop-color="#00aa97"/><stop offset=".3654" stop-color="#00aa89"/><stop offset=".3838" stop-color="#00a669"/><stop offset=".4083" stop-color="#00a24b"/><stop offset=".4388" stop-color="#00a457"/><stop offset=".448" stop-color="#00a666"/><stop offset=".4908" stop-color="#00a55f"/><stop offset=".5153" stop-color="#00a66d"/><stop offset=".5214" stop-color="#00aa88"/><stop offset=".5306" stop-color="#00aa93"/><stop offset=".5428" stop-color="#00a9ad"/><stop offset=".5642" stop-color="#0099dc"/><stop offset=".5917" stop-color="#0074dd"/><stop offset=".5979" stop-color="#0059dd"/><stop offset=".6223" stop-color="#0002dd"/><stop offset=".6254" stop-color="#0000d9"/><stop offset=".6774" stop-color="#0000ad"/><stop offset=".6835" stop-color="#0500aa"/><stop offset=".7018" stop-color="#3e00a2"/><stop offset=".7141" stop-color="#7a009b"/><stop offset=".7171" stop-color="#82009a"/><stop offset=".7232" stop-color="#870098"/><stop offset=".7355" stop-color="#830094"/><stop offset=".7385" stop-color="#4b00a0"/><stop offset=".7416" stop-color="#0000b4"/><stop offset=".7446" stop-color="#009dd1"/><stop offset=".7477" stop-color="#009dd1"/><stop offset=".7508" stop-color="#0000da"/><stop offset=".7599" stop-color="#0000da"/><stop offset=".763" stop-color="#0082dd"/><stop offset=".7661" stop-color="#0000da"/><stop offset=".7844" stop-color="#0000da"/><stop offset=".7875" stop-color="#009dd1"/><stop offset=".7905" stop-color="#0090dd"/><stop offset=".7936" stop-color="#0000da"/><stop offset=".7997" stop-color="#0000da"/><stop offset=".8028" stop-color="#009dd1"/><stop offset=".8058" stop-color="#007cdd"/><stop offset=".8089" stop-color="#1800a7"/><stop offset=".8119" stop-color="#830094"/><stop offset=".818" stop-color="#79008a"/><stop offset=".8211" stop-color="#0000b4"/><stop offset=".8242" stop-color="#4d0058"/><stop offset=".8272" stop-color="#4b0055"/><stop offset=".9343" stop-color="#220028"/><stop offset=".9985" stop-color="#19001c"/></linearGradient>
<linearGradient id="gL16"><stop offset=".0015" stop-color="#6c009c"/><stop offset=".0046" stop-color="#5f006d"/><stop offset=".0076" stop-color="#150017"/><stop offset=".1972" stop-color="#150017"/><stop offset=".2003" stop-color="#18001b"/><stop offset=".2034" stop-color="#320038"/><stop offset=".2064" stop-color="#5f006d"/><stop offset=".2095" stop-color="#7a008b"/><stop offset=".2187" stop-color="#850099"/><stop offset=".2248" stop-color="#1b00a7"/><stop offset=".2278" stop-color="#0000b9"/><stop offset=".2309" stop-color="#0000d3"/><stop offset=".2339" stop-color="#0023dd"/><stop offset=".237" stop-color="#005fdd"/><stop offset=".2401" stop-color="#0081dd"/><stop offset=".2431" stop-color="#0094dd"/><stop offset=".2462" stop-color="#009bd8"/><stop offset=".2554" stop-color="#00a7b2"/><stop offset=".2584" stop-color="#00aaab"/><stop offset=".2768" stop-color="#00aa91"/><stop offset=".3226" stop-color="#00aa88"/><stop offset=".3379" stop-color="#00a980"/><stop offset=".3593" stop-color="#00a45a"/><stop offset=".3746" stop-color="#009d21"/><stop offset=".3838" stop-color="#009a09"/><stop offset=".3899" stop-color="#009a00"/><stop offset=".4144" stop-color="#00a400"/><stop offset=".4174" stop-color="#009c00"/><stop offset=".4205" stop-color="#009d1b"/><stop offset=".4235" stop-color="#00a100"/><stop offset=".4266" stop-color="#00a500"/><stop offset=".4388" stop-color="#00a700"/><stop offset=".4908" stop-color="#00a700"/><stop offset=".5153" stop-color="#00a300"/><stop offset=".5214" stop-color="#009c00"/><stop offset=".5245" stop-color="#009a02"/><stop offset=".5306" stop-color="#009c1a"/><stop offset=".5459" stop-color="#00aa83"/><stop offset=".5489" stop-color="#00aa8b"/><stop offset=".5734" stop-color="#00aaaa"/><stop offset=".6009" stop-color="#0099dc"/><stop offset=".6254" stop-color="#0078dd"/><stop offset=".6407" stop-color="#0030dd"/><stop offset=".656" stop-color="#0003dd"/><stop offset=".659" stop-color="#0000da"/><stop offset=".7018" stop-color="#0100ac"/><stop offset=".7049" stop-color="#0700a9"/><stop offset=".7141" stop-color="#2900a5"/><stop offset=".7263" stop-color="#6c009c"/><stop offset=".7324" stop-color="#80009a"/><stop offset=".7385" stop-color="#860097"/><stop offset=".7416" stop-color="#840095"/><stop offset=".7446" stop-color="#009dd1"/><stop offset=".7477" stop-color="#009dd1"/><stop offset=".7508" stop-color="#0000da"/><stop offset=".7599" stop-color="#0000da"/><stop offset=".763" stop-color="#0082dd"/><stop offset=".7661" stop-color="#0000da"/><stop offset=".7844" stop-color="#0000da"/><stop offset=".7875" stop-color="#009dd1"/><stop offset=".7905" stop-color="#0090dd"/><stop offset=".7936" stop-color="#0000da"/><stop offset=".7997" stop-color="#0000da"/><stop offset=".8028" stop-color="#009dd1"/><stop offset=".8058" stop-color="#007cdd"/><stop offset=".8089" stop-color="#1800a7"/><stop offset=".8119" stop-color="#830094"/><stop offset=".818" stop-color="#79008a"/><stop offset=".8211" stop-color="#0000b4"/><stop offset=".8242" stop-color="#4d0058"/><stop offset=".8272" stop-color="#4b0055"/><stop offset=".9343" stop-color="#220028"/><stop offset=".9985" stop-color="#19001c"/></linearGradient>
<linearGradient id="gL17"><stop offset=".0015" stop-color="#6c009c"/><stop offset=".0046" stop-color="#5f006d"/><stop offset=".0076" stop-color="#150017"/><stop offset=".1972" stop-color="#150017"/><stop offset=".2003" stop-color="#18001b"/><stop offset=".2034" stop-color="#320038"/><stop offset=".2064" stop-color="#5f006d"/><stop offset=".2095" stop-color="#7a008b"/><stop offset=".2187" stop-color="#850099"/><stop offset=".2248" stop-color="#1b00a7"/><stop offset=".2278" stop-color="#0000b9"/><stop offset=".2309" stop-color="#0000d3"/><stop offset=".2339" stop-color="#0023dd"/><stop offset=".237" stop-color="#005fdd"/><stop offset=".2401" stop-color="#0081dd"/><stop offset=".2431" stop-color="#0096dd"/><stop offset=".2554" stop-color="#00aaa3"/><stop offset=".2645" stop-color="#00aa8d"/><stop offset=".2676" stop-color="#00a982"/><stop offset=".2706" stop-color="#00a665"/><stop offset=".2768" stop-color="#00a24c"/><stop offset=".3073" stop-color="#009f31"/><stop offset=".3379" stop-color="#009d20"/><stop offset=".3532" stop-color="#009a06"/><stop offset=".3593" stop-color="#009b00"/><stop offset=".3746" stop-color="#00aa00"/><stop offset=".4144" stop-color="#00b300"/><stop offset=".4174" stop-color="#00d500"/><stop offset=".4205" stop-color="#00ff00"/><stop offset=".4235" stop-color="#00c500"/><stop offset=".4266" stop-color="#00b200"/><stop offset=".448" stop-color="#00ac00"/><stop offset=".5153" stop-color="#00aa00"/><stop offset=".5306" stop-color="#009a00"/><stop offset=".5336" stop-color="#009b10"/><stop offset=".5459" stop-color="#00a55e"/><stop offset=".555" stop-color="#00aa88"/><stop offset=".5856" stop-color="#00a9ac"/><stop offset=".5979" stop-color="#00a3c1"/><stop offset=".6101" stop-color="#0099dc"/><stop offset=".6131" stop-color="#0094dd"/><stop offset=".6346" stop-color="#0075dd"/><stop offset=".6468" stop-color="#0039dd"/><stop offset=".6651" stop-color="#0001dd"/><stop offset=".708" stop-color="#0000ad"/><stop offset=".711" stop-color="#0400aa"/><stop offset=".7202" stop-color="#2700a5"/><stop offset=".7324" stop-color="#6c009c"/><stop offset=".7355" stop-color="#76009b"/><stop offset=".7385" stop-color="#870098"/><stop offset=".7416" stop-color="#850096"/><stop offset=".7446" stop-color="#009dd1"/><stop offset=".7477" stop-color="#009dd1"/><stop offset=".7508" stop-color="#0000da"/><stop offset=".7599" stop-color="#0000da"/><stop offset=".763" stop-color="#0082dd"/><stop offset=".7661" stop-color="#0000da"/><stop offset=".7844" stop-color="#0000da"/><stop offset=".7875" stop-color="#009dd1"/><stop offset=".7905" stop-color="#0090dd"/><stop offset=".7936" stop-color="#0000da"/><stop offset=".7997" stop-color="#0000da"/><stop offset=".8028" stop-color="#009dd1"/><stop offset=".8058" stop-color="#007cdd"/><stop offset=".8089" stop-color="#1800a7"/><stop offset=".8119" stop-color="#830094"/><stop offset=".818" stop-color="#79008a"/><stop offset=".8211" stop-color="#0000b4"/><stop offset=".8242" stop-color="#4d0058"/><stop offset=".8272" stop-color="#4b0055"/><stop offset=".9343" stop-color="#220028"/><stop offset=".9985" stop-color="#19001c"/></linearGradient>
<linearGradient id="gL18"><stop offset=".0015" stop-color="#6c009c"/><stop offset=".0046" stop-color="#5f006d"/><stop offset=".0076" stop-color="#150017"/><stop offset=".1972" stop-color="#150017"/><stop offset=".2003" stop-color="#18001b"/><stop offset=".2034" stop-color="#320038"/><stop offset=".2064" stop-color="#5f006d"/><stop offset=".2095" stop-color="#7a008b"/><stop offset=".2187" stop-color="#850099"/><stop offset=".2248" stop-color="#1b00a7"/><stop offset=".2278" stop-color="#0000b9"/><stop offset=".2309" stop-color="#0000d3"/><stop offset=".2339" stop-color="#0023dd"/><stop offset=".237" stop-color="#005fdd"/><stop offset=".2401" stop-color="#0081dd"/><stop offset=".2431" stop-color="#0093dd"/><stop offset=".2462" stop-color="#009adb"/><stop offset=".2554" stop-color="#00a5b8"/><stop offset=".2645" stop-color="#00aaa8"/><stop offset=".2768" stop-color="#00aa9a"/><stop offset=".3379" stop-color="#00aa8f"/><stop offset=".3532" stop-color="#00aa88"/><stop offset=".3593" stop-color="#00a97d"/><stop offset=".3746" stop-color="#00a34f"/><stop offset=".3838" stop-color="#00a038"/><stop offset=".4083" stop-color="#009a0d"/><stop offset=".4144" stop-color="#009a0d"/><stop offset=".4174" stop-color="#00e400"/><stop offset=".4205" stop-color="#eeee00"/><stop offset=".4235" stop-color="#00c200"/><stop offset=".4266" stop-color="#009a0c"/><stop offset=".4388" stop-color="#009a0a"/><stop offset=".448" stop-color="#009b15"/><stop offset=".4908" stop-color="#009b0e"/><stop offset=".5153" stop-color="#009d1b"/><stop offset=".5306" stop-color="#00a55e"/><stop offset=".5367" stop-color="#00aa89"/><stop offset=".5581" stop-color="#00aaaa"/><stop offset=".5703" stop-color="#00a2c1"/><stop offset=".5887" stop-color="#0098dd"/><stop offset=".6131" stop-color="#0079dd"/><stop offset=".6254" stop-color="#004bdd"/><stop offset=".6376" stop-color="#0015dd"/><stop offset=".6468" stop-color="#0000dc"/><stop offset=".6957" stop-color="#0100ac"/><stop offset=".6988" stop-color="#0600a9"/><stop offset=".711" stop-color="#2f00a4"/><stop offset=".7232" stop-color="#70009c"/><stop offset=".7294" stop-color="#82009a"/><stop offset=".7355" stop-color="#860097"/><stop offset=".7416" stop-color="#830094"/><stop offset=".7446" stop-color="#009dd1"/><stop offset=".7477" stop-color="#009dd1"/><stop offset=".7508" stop-color="#0000da"/><stop offset=".7599" stop-color="#0000da"/><stop offset=".763" stop-color="#0082dd"/><stop offset=".7661" stop-color="#0000da"/><stop offset=".7844" stop-color="#0000da"/><stop offset=".7875" stop-color="#009dd1"/><stop offset=".7905" stop-color="#0090dd"/><stop offset=".7936" stop-color="#0000da"/><stop offset=".7997" stop-color="#0000da"/><stop offset=".8028" stop-color="#009dd1"/><stop offset=".8058" stop-color="#007cdd"/><stop offset=".8089" stop-color="#1800a7"/><stop offset=".8119" stop-color="#830094"/><stop offset=".818" stop-color="#79008a"/><stop offset=".8211" stop-color="#0000b4"/><stop offset=".8242" stop-color="#4d0058"/><stop offset=".8272" stop-color="#4b0055"/><stop offset=".9343" stop-color="#220028"/><stop offset=".9985" stop-color="#19001c"/></linearGradient>
<linearGradient id="gL19"><stop offset=".0015" stop-color="#6c009c"/><stop offset=".0046" stop-color="#5f006d"/><stop offset=".0076" stop-color="#0e0010"/><stop offset=".2156" stop-color="#0e0010"/><stop offset=".2339" stop-color="#24002a"/><stop offset=".2584" stop-color="#3b0044"/><stop offset=".292" stop-color="#4f005a"/><stop offset=".6131" stop-color="#4f005a"/><stop offset=".7385" stop-color="#460050"/><stop offset=".7508" stop-color="#27002d"/><stop offset=".9985" stop-color="#170019"/></linearGradient>
<linearGradient id="gL20"><stop offset=".0015" stop-color="#6c009c"/><stop offset=".0046" stop-color="#5f006d"/><stop offset=".0076" stop-color="#100012"/><stop offset=".1972" stop-color="#100012"/><stop offset=".2003" stop-color="#6b007a"/><stop offset=".2034" stop-color="#860097"/><stop offset=".2064" stop-color="#0900a9"/><stop offset=".2095" stop-color="#0000dd"/><stop offset=".2125" stop-color="#006fdd"/><stop offset=".2156" stop-color="#0092dd"/><stop offset=".2187" stop-color="#00aaa9"/><stop offset=".2217" stop-color="#00a355"/><stop offset=".2248" stop-color="#00aa00"/><stop offset=".2278" stop-color="#00ca00"/><stop offset=".2401" stop-color="#00fa00"/><stop offset=".2431" stop-color="#08ff00"/><stop offset=".2492" stop-color="#52ff00"/><stop offset=".2554" stop-color="#a9ff00"/><stop offset=".2584" stop-color="#c2fc00"/><stop offset=".2676" stop-color="#dcf400"/><stop offset=".2768" stop-color="#ebef00"/><stop offset=".2982" stop-color="#f5df00"/><stop offset=".3654" stop-color="#ecef00"/><stop offset=".4144" stop-color="#e1f300"/><stop offset=".4174" stop-color="#ffbd00"/><stop offset=".4205" stop-color="#f80000"/><stop offset=".4235" stop-color="#f9d800"/><stop offset=".4266" stop-color="#e3f200"/><stop offset=".4602" stop-color="#ebef00"/><stop offset=".4786" stop-color="#f0e900"/><stop offset=".4908" stop-color="#dcf400"/><stop offset=".5031" stop-color="#bffd00"/><stop offset=".5061" stop-color="#b0ff00"/><stop offset=".5214" stop-color="#2dff00"/><stop offset=".5275" stop-color="#00fe00"/><stop offset=".5398" stop-color="#00ec00"/><stop offset=".6223" stop-color="#009b00"/><stop offset=".6254" stop-color="#009a0a"/><stop offset=".6498" stop-color="#00aa86"/><stop offset=".6774" stop-color="#00aaab"/><stop offset=".6927" stop-color="#00a1c5"/><stop offset=".6957" stop-color="#0097dd"/><stop offset=".7324" stop-color="#0073dd"/><stop offset=".7355" stop-color="#006bdd"/><stop offset=".7416" stop-color="#0023dd"/><stop offset=".7446" stop-color="#00a0c9"/><stop offset=".7477" stop-color="#009fc9"/><stop offset=".7508" stop-color="#0000dc"/><stop offset=".7599" stop-color="#0000da"/><stop offset=".763" stop-color="#0040dd"/><stop offset=".7661" stop-color="#0000d9"/><stop offset=".7844" stop-color="#0000d6"/><stop offset=".7875" stop-color="#009ed0"/><stop offset=".7905" stop-color="#0079dd"/><stop offset=".7936" stop-color="#0000d5"/><stop offset=".7997" stop-color="#0000d4"/><stop offset=".8028" stop-color="#009cd2"/><stop offset=".8058" stop-color="#0000d3"/><stop offset=".8089" stop-color="#4200a2"/><stop offset=".8119" stop-color="#7b008c"/><stop offset=".8823" stop-color="#770088"/><stop offset=".9159" stop-color="#690078"/><stop offset=".9985" stop-color="#3a0043"/></linearGradient>
<linearGradient id="gL21"><stop offset=".0015" stop-color="#6c009c"/><stop offset=".0046" stop-color="#5f006d"/><stop offset=".0076" stop-color="#100012"/><stop offset=".1972" stop-color="#100012"/><stop offset=".2003" stop-color="#6b007a"/><stop offset=".2034" stop-color="#860097"/><stop offset=".2064" stop-color="#0900a9"/><stop offset=".2095" stop-color="#0000dd"/><stop offset=".2125" stop-color="#006fdd"/><stop offset=".2156" stop-color="#0092dd"/><stop offset=".2187" stop-color="#00aaa9"/><stop offset=".2217" stop-color="#00a355"/><stop offset=".2248" stop-color="#00aa00"/><stop offset=".2278" stop-color="#00ca00"/><stop offset=".2401" stop-color="#00fa00"/><stop offset=".2431" stop-color="#08ff00"/><stop offset=".2492" stop-color="#52ff00"/><stop offset=".2554" stop-color="#a9ff00"/><stop offset=".2584" stop-color="#c2fc00"/><stop offset=".2676" stop-color="#dcf400"/><stop offset=".2768" stop-color="#ebef00"/><stop offset=".2982" stop-color="#f5df00"/><stop offset=".3654" stop-color="#ecef00"/><stop offset=".4144" stop-color="#e1f300"/><stop offset=".4174" stop-color="#ffbd00"/><stop offset=".4205" stop-color="#f80000"/><stop offset=".4235" stop-color="#f9d800"/><stop offset=".4266" stop-color="#e3f200"/><stop offset=".4602" stop-color="#ebef00"/><stop offset=".4786" stop-color="#f0e900"/><stop offset=".4908" stop-color="#dcf400"/><stop offset=".5031" stop-color="#bffd00"/><stop offset=".5061" stop-color="#b0ff00"/><stop offset=".5214" stop-color="#2dff00"/><stop offset=".5275" stop-color="#00fe00"/><stop offset=".5398" stop-color="#00ec00"/><stop offset=".6223" stop-color="#009b00"/><stop offset=".6254" stop-color="#009a0a"/><stop offset=".6498" stop-color="#00aa86"/><stop offset=".6774" stop-color="#00aaab"/><stop offset=".6927" stop-color="#00a1c5"/><stop offset=".6957" stop-color="#0097dd"/><stop offset=".7324" stop-color="#0073dd"/><stop offset=".7355" stop-color="#006bdd"/><stop offset=".7416" stop-color="#0023dd"/><stop offset=".7446" stop-color="#00a0c9"/><stop offset=".7477" stop-color="#009fc9"/><stop offset=".7508" stop-color="#0000dc"/><stop offset=".7599" stop-color="#0000da"/><stop offset=".763" stop-color="#0040dd"/><stop offset=".7661" stop-color="#0000d9"/><stop offset=".7844" stop-color="#0000d6"/><stop offset=".7875" stop-color="#009ed0"/><stop offset=".7905" stop-color="#0079dd"/><stop offset=".7936" stop-color="#0000d5"/><stop offset=".7997" stop-color="#0000d4"/><stop offset=".8028" stop-color="#009cd2"/><stop offset=".8058" stop-color="#0000d3"/><stop offset=".8089" stop-color="#4200a2"/><stop offset=".8119" stop-color="#7b008c"/><stop offset=".8823" stop-color="#770088"/><stop offset=".9159" stop-color="#690078"/><stop offset=".9985" stop-color="#3a0043"/></linearGradient>
<linearGradient id="gR0"><stop offset=".0015" stop-color="#6c009c"/><stop offset=".0046" stop-color="#5f006d"/><stop offset=".0076" stop-color="#230029"/><stop offset=".1972" stop-color="#230029"/><stop offset=".2003" stop-color="#6b007a"/><stop offset=".2034" stop-color="#860097"/><stop offset=".2064" stop-color="#0900a9"/><stop offset=".2095" stop-color="#0000dd"/><stop offset=".2125" stop-color="#006fdd"/><stop offset=".2156" stop-color="#0092dd"/><stop offset=".2187" stop-color="#00a0c9"/><stop offset=".2217" stop-color="#00aa91"/><stop offset=".2248" stop-color="#009b12"/><stop offset=".2278" stop-color="#00b400"/><stop offset=".2401" stop-color="#00e400"/><stop offset=".2492" stop-color="#00f800"/><stop offset=".2523" stop-color="#06ff00"/><stop offset=".2584" stop-color="#5eff00"/><stop offset=".2645" stop-color="#9cff00"/><stop offset=".2676" stop-color="#b9ff00"/><stop offset=".2706" stop-color="#c0fd00"/><stop offset=".2798" stop-color="#cff800"/><stop offset=".2982" stop-color="#e4f100"/><stop offset=".3807" stop-color="#c6fb00"/><stop offset=".3838" stop-color="#f3e500"/><stop offset=".3869" stop-color="#ffad00"/><stop offset=".3899" stop-color="#e3f100"/><stop offset=".393" stop-color="#c4fc00"/><stop offset=".4144" stop-color="#c0fd00"/><stop offset=".4174" stop-color="#f2e600"/><stop offset=".4205" stop-color="#ffad00"/><stop offset=".4235" stop-color="#e1f200"/><stop offset=".4266" stop-color="#c2fc00"/><stop offset=".4541" stop-color="#c7fb00"/><stop offset=".4786" stop-color="#d4f700"/><stop offset=".4908" stop-color="#b9ff00"/><stop offset=".5122" stop-color="#04ff00"/><stop offset=".5153" stop-color="#00fb00"/><stop offset=".5398" stop-color="#00d600"/><stop offset=".604" stop-color="#009a02"/><stop offset=".6193" stop-color="#00a244"/><stop offset=".6315" stop-color="#00a980"/><stop offset=".6346" stop-color="#00aa8a"/><stop offset=".659" stop-color="#00aaa9"/><stop offset=".6835" stop-color="#009bd7"/><stop offset=".6896" stop-color="#0096dd"/><stop offset=".6927" stop-color="#0093dd"/><stop offset=".6957" stop-color="#0097dd"/><stop offset=".7324" stop-color="#0073dd"/><stop offset=".7355" stop-color="#006bdd"/><stop offset=".7416" stop-color="#0023dd"/><stop offset=".7446" stop-color="#00a0c9"/><stop offset=".7477" stop-color="#009fc9"/><stop offset=".7508" stop-color="#0000dc"/><stop offset=".7599" stop-color="#0000da"/><stop offset=".763" stop-color="#0040dd"/><stop offset=".7661" stop-color="#0000d9"/><stop offset=".7844" stop-color="#0000d6"/><stop offset=".7875" stop-color="#009ed0"/><stop offset=".7905" stop-color="#0079dd"/><stop offset=".7936" stop-color="#0000d5"/><stop offset=".7997" stop-color="#0000d4"/><stop offset=".8028" stop-color="#009cd2"/><stop offset=".8058" stop-color="#0000d3"/><stop offset=".8089" stop-color="#4200a2"/><stop offset=".8119" stop-color="#7b008c"/><stop offset=".8823" stop-color="#770088"/><stop offset=".9159" stop-color="#690078"/><stop offset=".9618" stop-color="#4d0058"/><stop offset=".9985" stop-color="#3b0044"/></linearGradient>
<linearGradient id="gR1"><stop offset=".0015" stop-color="#6c009c"/><stop offset=".0046" stop-color="#5f006d"/><stop offset=".0076" stop-color="#230029"/><stop offset=".1972" stop-color="#230029"/><stop offset=".2003" stop-color="#6b007a"/><stop offset=".2034" stop-color="#860097"/><stop offset=".2064" stop-color="#0900a9"/><stop offset=".2095" stop-color="#0000dd"/><stop offset=".2125" stop-color="#006fdd"/><stop offset=".2156" stop-color="#0092dd"/><stop offset=".2187" stop-color="#00a0c9"/><stop offset=".2217" stop-color="#00aa91"/><stop offset=".2248" stop-color="#009b12"/><stop offset=".2278" stop-color="#00b400"/><stop offset=".2401" stop-color="#00e400"/><stop offset=".2492" stop-color="#00f800"/><stop offset=".2523" stop-color="#06ff00"/><stop offset=".2584" stop-color="#5eff00"/><stop offset=".2676" stop-color="#b9ff00"/><stop offset=".2798" stop-color="#cff800"/><stop offset=".2982" stop-color="#e4f100"/><stop offset=".3746" stop-color="#c7fb00"/><stop offset=".4144" stop-color="#c0fd00"/><stop offset=".4174" stop-color="#f2e600"/><stop offset=".4205" stop-color="#ffad00"/><stop offset=".4235" stop-color="#e1f200"/><stop offset=".4266" stop-color="#c2fc00"/><stop offset=".4541" stop-color="#c7fb00"/><stop offset=".4786" stop-color="#d4f700"/><stop offset=".4878" stop-color="#c1fd00"/><stop offset=".4908" stop-color="#b9ff00"/><stop offset=".5122" stop-color="#04ff00"/><stop offset=".5153" stop-color="#00fb00"/><stop offset=".5398" stop-color="#00d600"/><stop offset=".604" stop-color="#009a02"/><stop offset=".6193" stop-color="#00a244"/><stop offset=".6315" stop-color="#00a980"/><stop offset=".6346" stop-color="#00aa8a"/><stop offset=".659" stop-color="#00aaa9"/><stop offset=".6835" stop-color="#009bd7"/><stop offset=".6896" stop-color="#0096dd"/><stop offset=".6927" stop-color="#0093dd"/><stop offset=".6957" stop-color="#0097dd"/><stop offset=".7324" stop-color="#0073dd"/><stop offset=".7355" stop-color="#006bdd"/><stop offset=".7416" stop-color="#0023dd"/><stop offset=".7446" stop-color="#00a0c9"/><stop offset=".7477" stop-color="#009fc9"/><stop offset=".7508" stop-color="#0000dc"/><stop offset=".7599" stop-color="#0000da"/><stop offset=".763" stop-color="#0040dd"/><stop offset=".7661" stop-color="#0000d9"/><stop offset=".7844" stop-color="#0000d6"/><stop offset=".7875" stop-color="#009ed0"/><stop offset=".7905" stop-color="#0079dd"/><stop offset=".7936" stop-color="#0000d5"/><stop offset=".7997" stop-color="#0000d4"/><stop offset=".8028" stop-color="#009cd2"/><stop offset=".8058" stop-color="#0000d3"/><stop offset=".8089" stop-color="#4200a2"/><stop offset=".8119" stop-color="#7b008c"/><stop offset=".8823" stop-color="#770088"/><stop offset=".9159" stop-color="#690078"/><stop offset=".9618" stop-color="#4d0058"/><stop offset=".9985" stop-color="#3b0044"/></linearGradient>
<linearGradient id="gR2"><stop offset=".0015" stop-color="#6c009c"/><stop offset=".0046" stop-color="#5f006d"/><stop offset=".0076" stop-color="#210026"/><stop offset=".2156" stop-color="#210026"/><stop offset=".2584" stop-color="#42004c"/><stop offset=".292" stop-color="#51005c"/><stop offset=".5612" stop-color="#51005c"/><stop offset=".5734" stop-color="#3b0044"/><stop offset=".8119" stop-color="#34003b"/><stop offset=".9985" stop-color="#29002f"/></linearGradient>
<linearGradient id="gR3"><stop offset=".0015" stop-color="#6c009c"/><stop offset=".0046" stop-color="#5f006d"/><stop offset=".0076" stop-color="#2c0032"/><stop offset=".2003" stop-color="#2d0033"/><stop offset=".2034" stop-color="#380040"/><stop offset=".2064" stop-color="#5f006d"/><stop offset=".2095" stop-color="#7a008b"/><stop offset=".2187" stop-color="#850099"/><stop offset=".2248" stop-color="#1b00a7"/><stop offset=".2278" stop-color="#0000b9"/><stop offset=".2309" stop-color="#0000d3"/><stop offset=".2339" stop-color="#0023dd"/><stop offset=".237" stop-color="#005fdd"/><stop offset=".2401" stop-color="#0081dd"/><stop offset=".2431" stop-color="#0092dd"/><stop offset=".2462" stop-color="#009adb"/><stop offset=".2554" stop-color="#00a4bb"/><stop offset=".2645" stop-color="#00aaab"/><stop offset=".2768" stop-color="#00aa9d"/><stop offset=".3318" stop-color="#00aa93"/><stop offset=".3593" stop-color="#00aa96"/><stop offset=".3777" stop-color="#00aa89"/><stop offset=".393" stop-color="#00a664"/><stop offset=".4083" stop-color="#009e2d"/><stop offset=".4266" stop-color="#009a08"/><stop offset=".4327" stop-color="#009a00"/><stop offset=".5153" stop-color="#009a02"/><stop offset=".5306" stop-color="#00a244"/><stop offset=".5398" stop-color="#00aa89"/><stop offset=".5612" stop-color="#00aaa9"/><stop offset=".5887" stop-color="#0099dc"/><stop offset=".5917" stop-color="#0095dd"/><stop offset=".6131" stop-color="#0079dd"/><stop offset=".6193" stop-color="#0064dd"/><stop offset=".6346" stop-color="#001fdd"/><stop offset=".6468" stop-color="#0000dc"/><stop offset=".6957" stop-color="#0300aa"/><stop offset=".708" stop-color="#2d00a4"/><stop offset=".7202" stop-color="#6f009c"/><stop offset=".7263" stop-color="#82009a"/><stop offset=".7324" stop-color="#860097"/><stop offset=".7416" stop-color="#830094"/><stop offset=".7446" stop-color="#009dd1"/><stop offset=".7477" stop-color="#009dd1"/><stop offset=".7508" stop-color="#0000da"/><stop offset=".7569" stop-color="#0000da"/><stop offset=".7599" stop-color="#0097dd"/><stop offset=".763" stop-color="#0097dd"/><stop offset=".7661" stop-color="#0000da"/><stop offset=".7722" stop-color="#0000da"/><stop offset=".7752" stop-color="#0070dd"/><stop offset=".7783" stop-color="#0000da"/><stop offset=".7844" stop-color="#0000da"/><stop offset=".7875" stop-color="#009dd1"/><stop offset=".7905" stop-color="#009dd1"/><stop offset=".7936" stop-color="#0000da"/><stop offset=".7966" stop-color="#0000da"/><stop offset=".7997" stop-color="#0097dd"/><stop offset=".8028" stop-color="#009dd1"/><stop offset=".8058" stop-color="#0097dd"/><stop offset=".8089" stop-color="#1800a7"/><stop offset=".8119" stop-color="#830094"/><stop offset=".818" stop-color="#79008a"/><stop offset=".8211" stop-color="#0000b4"/><stop offset=".8242" stop-color="#580064"/><stop offset=".8731" stop-color="#42004c"/><stop offset=".9343" stop-color="#320039"/><stop offset=".9985" stop-color="#28002e"/></linearGradient>
<linearGradient id="gR4"><stop offset=".0015" stop-color="#6c009c"/><stop offset=".0046" stop-color="#5f006d"/><stop offset=".0076" stop-color="#2c0032"/><stop offset=".2003" stop-color="#2d0033"/><stop offset=".2034" stop-color="#380040"/><stop offset=".2064" stop-color="#5f006d"/><stop offset=".2095" stop-color="#7a008b"/><stop offset=".2187" stop-color="#850099"/><stop offset=".2248" stop-color="#1b00a7"/><stop offset=".2278" stop-color="#0000b9"/><stop offset=".2309" stop-color="#0000d3"/><stop offset=".2339" stop-color="#0023dd"/><stop offset=".237" stop-color="#005fdd"/><stop offset=".2401" stop-color="#0081dd"/><stop offset=".2431" stop-color="#0092dd"/><stop offset=".2462" stop-color="#0099dc"/><stop offset=".2554" stop-color="#00a3bd"/><stop offset=".2768" stop-color="#00aaa1"/><stop offset=".3318" stop-color="#00aa96"/><stop offset=".3593" stop-color="#00aa9a"/><stop offset=".3838" stop-color="#00aa8a"/><stop offset=".3869" stop-color="#009b0f"/><stop offset=".3899" stop-color="#00bb00"/><stop offset=".393" stop-color="#00a13c"/><stop offset=".396" stop-color="#00a773"/><stop offset=".4083" stop-color="#00a24a"/><stop offset=".4358" stop-color="#009d1b"/><stop offset=".448" stop-color="#009d22"/><stop offset=".4939" stop-color="#009d1d"/><stop offset=".5153" stop-color="#009e29"/><stop offset=".5306" stop-color="#00a66d"/><stop offset=".5336" stop-color="#00aa84"/><stop offset=".5367" stop-color="#00aa8d"/><stop offset=".555" stop-color="#00aaab"/><stop offset=".5795" stop-color="#009ad9"/><stop offset=".5856" stop-color="#0095dd"/><stop offset=".6101" stop-color="#0072dd"/><stop offset=".6346" stop-color="#000edd"/><stop offset=".6407" stop-color="#0000dd"/><stop offset=".6927" stop-color="#0200ab"/><stop offset=".708" stop-color="#3200a4"/><stop offset=".7202" stop-color="#72009c"/><stop offset=".7263" stop-color="#83009a"/><stop offset=".7294" stop-color="#860098"/><stop offset=".7416" stop-color="#830094"/><stop offset=".7446" stop-color="#009dd1"/><stop offset=".7477" stop-color="#009dd1"/><stop offset=".7508" stop-color="#0000da"/><stop offset=".7569" stop-color="#0000da"/><stop offset=".7599" stop-color="#0097dd"/><stop offset=".763" stop-color="#0097dd"/><stop offset=".7661" stop-color="#0000da"/><stop offset=".7722" stop-color="#0000da"/><stop offset=".7752" stop-color="#0070dd"/><stop offset=".7783" stop-color="#0000da"/><stop offset=".7844" stop-color="#0000da"/><stop offset=".7875" stop-color="#009dd1"/><stop offset=".7905" stop-color="#009dd1"/><stop offset=".7936" stop-color="#0000da"/><stop offset=".7966" stop-color="#0000da"/><stop offset=".7997" stop-color="#0097dd"/><stop offset=".8028" stop-color="#009dd1"/><stop offset=".8058" stop-color="#0097dd"/><stop offset=".8089" stop-color="#1800a7"/><stop offset=".8119" stop-color="#830094"/><stop offset=".818" stop-color="#79008a"/><stop offset=".8211" stop-color="#0000b4"/><stop offset=".8242" stop-color="#580064"/><stop offset=".8731" stop-color="#42004c"/><stop offset=".9343" stop-color="#320039"/><stop offset=".9985" stop-color="#28002e"/></linearGradient>
<linearGradient id="gR5"><stop offset=".0015" stop-color="#6c009c"/><stop offset=".0046" stop-color="#5f006d"/><stop offset=".0076" stop-color="#2c0032"/><stop offset=".2003" stop-color="#2d0033"/><stop offset=".2034" stop-color="#380040"/><stop offset=".2064" stop-color="#5f006d"/><stop offset=".2095" stop-color="#7a008b"/><stop offset=".2187" stop-color="#850099"/><stop offset=".2248" stop-color="#1b00a7"/><stop offset=".2278" stop-color="#0000b9"/><stop offset=".2309" stop-color="#0000d3"/><stop offset=".2339" stop-color="#0023dd"/><stop offset=".237" stop-color="#005fdd"/><stop offset=".2401" stop-color="#0081dd"/><stop offset=".2431" stop-color="#0094dd"/><stop offset=".2462" stop-color="#009bd7"/><stop offset=".2554" stop-color="#00a8b1"/><stop offset=".2584" stop-color="#00aaaa"/><stop offset=".2768" stop-color="#00aa8f"/><stop offset=".3135" stop-color="#00aa87"/><stop offset=".3318" stop-color="#00a97d"/><stop offset=".3379" stop-color="#00aa86"/><stop offset=".3593" stop-color="#00aa89"/><stop offset=".3624" stop-color="#00aa85"/><stop offset=".3746" stop-color="#00a458"/><stop offset=".3838" stop-color="#00a13f"/><stop offset=".393" stop-color="#009e2d"/><stop offset=".4052" stop-color="#009a05"/><stop offset=".4083" stop-color="#009b00"/><stop offset=".4358" stop-color="#00a700"/><stop offset=".4908" stop-color="#00a700"/><stop offset=".5153" stop-color="#00a300"/><stop offset=".5245" stop-color="#009a02"/><stop offset=".5306" stop-color="#009d1b"/><stop offset=".5428" stop-color="#00a87a"/><stop offset=".5459" stop-color="#00aa89"/><stop offset=".5703" stop-color="#00aaab"/><stop offset=".5948" stop-color="#0099dc"/><stop offset=".5979" stop-color="#0094dd"/><stop offset=".6193" stop-color="#0078dd"/><stop offset=".6346" stop-color="#0030dd"/><stop offset=".6498" stop-color="#0003dd"/><stop offset=".6529" stop-color="#0000da"/><stop offset=".6957" stop-color="#0100ac"/><stop offset=".6988" stop-color="#0700a9"/><stop offset=".708" stop-color="#2900a5"/><stop offset=".7202" stop-color="#6c009c"/><stop offset=".7263" stop-color="#80009a"/><stop offset=".7324" stop-color="#860097"/><stop offset=".7416" stop-color="#830094"/><stop offset=".7446" stop-color="#009dd1"/><stop offset=".7477" stop-color="#009dd1"/><stop offset=".7508" stop-color="#0000da"/><stop offset=".7569" stop-color="#0000da"/><stop offset=".7599" stop-color="#0097dd"/><stop offset=".763" stop-color="#0097dd"/><stop offset=".7661" stop-color="#0000da"/><stop offset=".7722" stop-color="#0000da"/><stop offset=".7752" stop-color="#0070dd"/><stop offset=".7783" stop-color="#0000da"/><stop offset=".7844" stop-color="#0000da"/><stop offset=".7875" stop-color="#009dd1"/><stop offset=".7905" stop-color="#009dd1"/><stop offset=".7936" stop-color="#0000da"/><stop offset=".7966" stop-color="#0000da"/><stop offset=".7997" stop-color="#0097dd"/><stop offset=".8028" stop-color="#009dd1"/><stop offset=".8058" stop-color="#0097dd"/><stop offset=".8089" stop-color="#1800a7"/><stop offset=".8119" stop-color="#830094"/><stop offset=".818" stop-color="#79008a"/><stop offset=".8211" stop-color="#0000b4"/><stop offset=".8242" stop-color="#580064"/><stop offset=".8731" stop-color="#42004c"/><stop offset=".9343" stop-color="#320039"/><stop offset=".9985" stop-color="#28002e"/></linearGradient>
<linearGradient id="gR6"><stop offset=".0015" stop-color="#6c009c"/><stop offset=".0046" stop-color="#5f006d"/><stop offset=".0076" stop-color="#2c0032"/><stop offset=".2003" stop-color="#2d0033"/><stop offset=".2034" stop-color="#380040"/><stop offset=".2064" stop-color="#5f006d"/><stop offset=".2095" stop-color="#7a008b"/><stop offset=".2187" stop-color="#850099"/><stop offset=".2248" stop-color="#1b00a7"/><stop offset=".2278" stop-color="#0000b9"/><stop offset=".2309" stop-color="#0000d3"/><stop offset=".2339" stop-color="#0023dd"/><stop offset=".237" stop-color="#005fdd"/><stop offset=".2401" stop-color="#0081dd"/><stop offset=".2431" stop-color="#0092dd"/><stop offset=".2462" stop-color="#0099dc"/><stop offset=".2554" stop-color="#00a3bd"/><stop offset=".2676" stop-color="#00aaaa"/><stop offset=".2768" stop-color="#00aaa1"/><stop offset=".3073" stop-color="#00aa9a"/><stop offset=".3624" stop-color="#00aa98"/><stop offset=".3899" stop-color="#00aa88"/><stop offset=".393" stop-color="#00a982"/><stop offset=".4083" stop-color="#00a351"/><stop offset=".4358" stop-color="#009e26"/><stop offset=".448" stop-color="#009f30"/><stop offset=".4908" stop-color="#009e29"/><stop offset=".5153" stop-color="#00a036"/><stop offset=".5336" stop-color="#00aa8b"/><stop offset=".552" stop-color="#00aaaa"/><stop offset=".5703" stop-color="#009ecf"/><stop offset=".5795" stop-color="#0099dc"/><stop offset=".607" stop-color="#0075dd"/><stop offset=".6346" stop-color="#0008dd"/><stop offset=".6407" stop-color="#0000db"/><stop offset=".6927" stop-color="#0200ab"/><stop offset=".708" stop-color="#3300a3"/><stop offset=".7202" stop-color="#73009b"/><stop offset=".7263" stop-color="#83009a"/><stop offset=".7294" stop-color="#870098"/><stop offset=".7416" stop-color="#830094"/><stop offset=".7446" stop-color="#009dd1"/><stop offset=".7477" stop-color="#009dd1"/><stop offset=".7508" stop-color="#0000da"/><stop offset=".7569" stop-color="#0000da"/><stop offset=".7599" stop-color="#0097dd"/><stop offset=".763" stop-color="#0097dd"/><stop offset=".7661" stop-color="#0000da"/><stop offset=".7722" stop-color="#0000da"/><stop offset=".7752" stop-color="#0070dd"/><stop offset=".7783" stop-color="#0000da"/><stop offset=".7844" stop-color="#0000da"/><stop offset=".7875" stop-color="#009dd1"/><stop offset=".7905" stop-color="#009dd1"/><stop offset=".7936" stop-color="#0000da"/><stop offset=".7966" stop-color="#0000da"/><stop offset=".7997" stop-color="#0097dd"/><stop offset=".8028" stop-color="#009dd1"/><stop offset=".8058" stop-color="#0097dd"/><stop offset=".8089" stop-color="#1800a7"/><stop offset=".8119" stop-color="#830094"/><stop offset=".818" stop-color="#79008a"/><stop offset=".8211" stop-color="#0000b4"/><stop offset=".8242" stop-color="#580064"/><stop offset=".8731" stop-color="#42004c"/><stop offset=".9343" stop-color="#320039"/><stop offset=".9985" stop-color="#28002e"/></linearGradient>
<linearGradient id="gR7"><stop offset=".0015" stop-color="#6c009c"/><stop offset=".0046" stop-color="#5f006d"/><stop offset=".0076" stop-color="#2c0032"/><stop offset=".2003" stop-color="#2d0033"/><stop offset=".2034" stop-color="#380040"/><stop offset=".2064" stop-color="#5f006d"/><stop offset=".2095" stop-color="#7a008b"/><stop offset=".2187" stop-color="#850099"/><stop offset=".2248" stop-color="#1b00a7"/><stop offset=".2278" stop-color="#0000b9"/><stop offset=".2309" stop-color="#0000d3"/><stop offset=".2339" stop-color="#0023dd"/><stop offset=".237" stop-color="#005fdd"/><stop offset=".2401" stop-color="#0081dd"/><stop offset=".2431" stop-color="#0093dd"/><stop offset=".2462" stop-color="#009adb"/><stop offset=".2554" stop-color="#00a5b8"/><stop offset=".2645" stop-color="#00aaa8"/><stop offset=".2768" stop-color="#00aa9a"/><stop offset=".3318" stop-color="#00aa90"/><stop offset=".3593" stop-color="#00aa93"/><stop offset=".3716" stop-color="#00aa8a"/><stop offset=".393" stop-color="#00a456"/><stop offset=".4083" stop-color="#009d1e"/><stop offset=".4235" stop-color="#009a02"/><stop offset=".4388" stop-color="#00a000"/><stop offset=".5153" stop-color="#009c00"/><stop offset=".5183" stop-color="#009a02"/><stop offset=".5306" stop-color="#00a036"/><stop offset=".5398" stop-color="#00a97d"/><stop offset=".5428" stop-color="#00aa8c"/><stop offset=".5642" stop-color="#00aaaa"/><stop offset=".5917" stop-color="#0098dd"/><stop offset=".6162" stop-color="#0077dd"/><stop offset=".6346" stop-color="#0024dd"/><stop offset=".6468" stop-color="#0003dd"/><stop offset=".6498" stop-color="#0000db"/><stop offset=".6957" stop-color="#0200ab"/><stop offset=".708" stop-color="#2c00a4"/><stop offset=".7202" stop-color="#6e009c"/><stop offset=".7263" stop-color="#82009a"/><stop offset=".7324" stop-color="#860097"/><stop offset=".7416" stop-color="#830094"/><stop offset=".7446" stop-color="#009dd1"/><stop offset=".7477" stop-color="#009dd1"/><stop offset=".7508" stop-color="#0000da"/><stop offset=".7569" stop-color="#0000da"/><stop offset=".7599" stop-color="#0097dd"/><stop offset=".763" stop-color="#0097dd"/><stop offset=".7661" stop-color="#0000da"/><stop offset=".7722" stop-color="#0000da"/><stop offset=".7752" stop-color="#0070dd"/><stop offset=".7783" stop-color="#0000da"/><stop offset=".7844" stop-color="#0000da"/><stop offset=".7875" stop-color="#009dd1"/><stop offset=".7905" stop-color="#009dd1"/><stop offset=".7936" stop-color="#0000da"/><stop offset=".7966" stop-color="#0000da"/><stop offset=".7997" stop-color="#0097dd"/><stop offset=".8028" stop-color="#009dd1"/><stop offset=".8058" stop-color="#0097dd"/><stop offset=".8089" stop-color="#1800a7"/><stop offset=".8119" stop-color="#830094"/><stop offset=".818" stop-color="#79008a"/><stop offset=".8211" stop-color="#0000b4"/><stop offset=".8242" stop-color="#580064"/><stop offset=".8731" stop-color="#42004c"/><stop offset=".9343" stop-color="#320039"/><stop offset=".9985" stop-color="#28002e"/></linearGradient>
<linearGradient id="gR8"><stop offset=".0015" stop-color="#6c009c"/><stop offset=".0046" stop-color="#5f006d"/><stop offset=".0076" stop-color="#2c0032"/><stop offset=".2003" stop-color="#2d0033"/><stop offset=".2034" stop-color="#380040"/><stop offset=".2064" stop-color="#5f006d"/><stop offset=".2095" stop-color="#7a008b"/><stop offset=".2187" stop-color="#850099"/><stop offset=".2248" stop-color="#1b00a7"/><stop offset=".2278" stop-color="#0000b9"/><stop offset=".2309" stop-color="#0000d3"/><stop offset=".2339" stop-color="#0023dd"/><stop offset=".237" stop-color="#005fdd"/><stop offset=".2401" stop-color="#0081dd"/><stop offset=".2431" stop-color="#0093dd"/><stop offset=".2462" stop-color="#009ada"/><stop offset=".2554" stop-color="#00a6b6"/><stop offset=".2615" stop-color="#00aaa9"/><stop offset=".2768" stop-color="#00aa96"/><stop offset=".3318" stop-color="#00aa8c"/><stop offset=".3593" stop-color="#00aa8f"/><stop offset=".3685" stop-color="#00aa89"/><stop offset=".3838" stop-color="#00a55b"/><stop offset=".393" stop-color="#00a246"/><stop offset=".4083" stop-color="#009b0f"/><stop offset=".4174" stop-color="#009a00"/><stop offset=".4358" stop-color="#00a300"/><stop offset=".4908" stop-color="#00a300"/><stop offset=".5153" stop-color="#00a000"/><stop offset=".5214" stop-color="#009a02"/><stop offset=".5306" stop-color="#009e29"/><stop offset=".5428" stop-color="#00aa88"/><stop offset=".5673" stop-color="#00aaab"/><stop offset=".5948" stop-color="#0096dd"/><stop offset=".6162" stop-color="#0079dd"/><stop offset=".6193" stop-color="#0072dd"/><stop offset=".6346" stop-color="#002add"/><stop offset=".6498" stop-color="#0000dc"/><stop offset=".6957" stop-color="#0200ab"/><stop offset=".708" stop-color="#2a00a5"/><stop offset=".7202" stop-color="#6d009c"/><stop offset=".7263" stop-color="#81009a"/><stop offset=".7324" stop-color="#860097"/><stop offset=".7416" stop-color="#830094"/><stop offset=".7446" stop-color="#009dd1"/><stop offset=".7477" stop-color="#009dd1"/><stop offset=".7508" stop-color="#0000da"/><stop offset=".7569" stop-color="#0000da"/><stop offset=".7599" stop-color="#0097dd"/><stop offset=".763" stop-color="#0097dd"/><stop offset=".7661" stop-color="#0000da"/><stop offset=".7722" stop-color="#0000da"/><stop offset=".7752" stop-color="#0070dd"/><stop offset=".7783" stop-color="#0000da"/><stop offset=".7844" stop-color="#0000da"/><stop offset=".7875" stop-color="#009dd1"/><stop offset=".7905" stop-color="#009dd1"/><stop offset=".7936" stop-color="#0000da"/><stop offset=".7966" stop-color="#0000da"/><stop offset=".7997" stop-color="#0097dd"/><stop offset=".8028" stop-color="#009dd1"/><stop offset=".8058" stop-color="#0097dd"/><stop offset=".8089" stop-color="#1800a7"/><stop offset=".8119" stop-color="#830094"/><stop offset=".818" stop-color="#79008a"/><stop offset=".8211" stop-color="#0000b4"/><stop offset=".8242" stop-color="#580064"/><stop offset=".8731" stop-color="#42004c"/><stop offset=".9343" stop-color="#320039"/><stop offset=".9985" stop-color="#28002e"/></linearGradient>
<linearGradient id="gR9"><stop offset=".0015" stop-color="#6c009c"/><stop offset=".0046" stop-color="#5f006d"/><stop offset=".0076" stop-color="#2c0032"/><stop offset=".2003" stop-color="#2d0033"/><stop offset=".2034" stop-color="#380040"/><stop offset=".2064" stop-color="#5f006d"/><stop offset=".2095" stop-color="#7a008b"/><stop offset=".2187" stop-color="#850099"/><stop offset=".2248" stop-color="#1b00a7"/><stop offset=".2278" stop-color="#0000b9"/><stop offset=".2309" stop-color="#0000d3"/><stop offset=".2339" stop-color="#0023dd"/><stop offset=".237" stop-color="#005fdd"/><stop offset=".2401" stop-color="#0081dd"/><stop offset=".2431" stop-color="#0092dd"/><stop offset=".2462" stop-color="#0099dc"/><stop offset=".2554" stop-color="#00a3bd"/><stop offset=".2676" stop-color="#00aaaa"/><stop offset=".2768" stop-color="#00aaa1"/><stop offset=".3073" stop-color="#00aa9a"/><stop offset=".3624" stop-color="#00aa98"/><stop offset=".3899" stop-color="#00aa83"/><stop offset=".393" stop-color="#00a97d"/><stop offset=".4083" stop-color="#00a24a"/><stop offset=".4358" stop-color="#009d1b"/><stop offset=".448" stop-color="#009d22"/><stop offset=".4908" stop-color="#009d1b"/><stop offset=".5153" stop-color="#009e29"/><stop offset=".5306" stop-color="#00a66d"/><stop offset=".5336" stop-color="#00aa84"/><stop offset=".5367" stop-color="#00aa8d"/><stop offset=".555" stop-color="#00aaab"/><stop offset=".5703" stop-color="#009fca"/><stop offset=".5826" stop-color="#0098dd"/><stop offset=".6101" stop-color="#0072dd"/><stop offset=".6346" stop-color="#000edd"/><stop offset=".6407" stop-color="#0000dd"/><stop offset=".6927" stop-color="#0200ab"/><stop offset=".708" stop-color="#3200a4"/><stop offset=".7202" stop-color="#72009c"/><stop offset=".7263" stop-color="#83009a"/><stop offset=".7294" stop-color="#860098"/><stop offset=".7416" stop-color="#830094"/><stop offset=".7446" stop-color="#009dd1"/><stop offset=".7477" stop-color="#009dd1"/><stop offset=".7508" stop-color="#0000da"/><stop offset=".7569" stop-color="#0000da"/><stop offset=".7599" stop-color="#0097dd"/><stop offset=".763" stop-color="#0097dd"/><stop offset=".7661" stop-color="#0000da"/><stop offset=".7722" stop-color="#0000da"/><stop offset=".7752" stop-color="#0070dd"/><stop offset=".7783" stop-color="#0000da"/><stop offset=".7844" stop-color="#0000da"/><stop offset=".7875" stop-color="#009dd1"/><stop offset=".7905" stop-color="#009dd1"/><stop offset=".7936" stop-color="#0000da"/><stop offset=".7966" stop-color="#0000da"/><stop offset=".7997" stop-color="#0097dd"/><stop offset=".8028" stop-color="#009dd1"/><stop offset=".8058" stop-color="#0097dd"/><stop offset=".8089" stop-color="#1800a7"/><stop offset=".8119" stop-color="#830094"/><stop offset=".818" stop-color="#79008a"/><stop offset=".8211" stop-color="#0000b4"/><stop offset=".8242" stop-color="#580064"/><stop offset=".8731" stop-color="#42004c"/><stop offset=".9343" stop-color="#320039"/><stop offset=".9985" stop-color="#28002e"/></linearGradient>
<linearGradient id="gR10"><stop offset=".0015" stop-color="#6c009c"/><stop offset=".0046" stop-color="#5f006d"/><stop offset=".0076" stop-color="#2c0032"/><stop offset=".2003" stop-color="#2d0033"/><stop offset=".2034" stop-color="#380040"/><stop offset=".2064" stop-color="#5f006d"/><stop offset=".2095" stop-color="#7a008b"/><stop offset=".2187" stop-color="#850099"/><stop offset=".2248" stop-color="#1b00a7"/><stop offset=".2278" stop-color="#0000b9"/><stop offset=".2309" stop-color="#0000d3"/><stop offset=".2339" stop-color="#0023dd"/><stop offset=".237" stop-color="#005fdd"/><stop offset=".2401" stop-color="#0081dd"/><stop offset=".2431" stop-color="#0093dd"/><stop offset=".2462" stop-color="#009adb"/><stop offset=".2554" stop-color="#00a5b8"/><stop offset=".2645" stop-color="#00aaa8"/><stop offset=".2768" stop-color="#00aa9a"/><stop offset=".3318" stop-color="#00aa90"/><stop offset=".3593" stop-color="#00aa93"/><stop offset=".3716" stop-color="#00aa8a"/><stop offset=".393" stop-color="#00a456"/><stop offset=".4083" stop-color="#009d1e"/><stop offset=".4235" stop-color="#009a02"/><stop offset=".4388" stop-color="#00a000"/><stop offset=".5153" stop-color="#009c00"/><stop offset=".5183" stop-color="#009a02"/><stop offset=".5306" stop-color="#00a036"/><stop offset=".5398" stop-color="#00a97d"/><stop offset=".5428" stop-color="#00aa8c"/><stop offset=".5642" stop-color="#00aaaa"/><stop offset=".5917" stop-color="#0098dd"/><stop offset=".6162" stop-color="#0077dd"/><stop offset=".6346" stop-color="#0024dd"/><stop offset=".6468" stop-color="#0003dd"/><stop offset=".6498" stop-color="#0000db"/><stop offset=".6957" stop-color="#0200ab"/><stop offset=".708" stop-color="#2c00a4"/><stop offset=".7202" stop-color="#6e009c"/><stop offset=".7263" stop-color="#82009a"/><stop offset=".7324" stop-color="#860097"/><stop offset=".7416" stop-color="#830094"/><stop offset=".7446" stop-color="#009dd1"/><stop offset=".7477" stop-color="#009dd1"/><stop offset=".7508" stop-color="#0000da"/><stop offset=".7569" stop-color="#0000da"/><stop offset=".7599" stop-color="#0097dd"/><stop offset=".763" stop-color="#0097dd"/><stop offset=".7661" stop-color="#0000da"/><stop offset=".7722" stop-color="#0000da"/><stop offset=".7752" stop-color="#0070dd"/><stop offset=".7783" stop-color="#0000da"/><stop offset=".7844" stop-color="#0000da"/><stop offset=".7875" stop-color="#009dd1"/><stop offset=".7905" stop-color="#009dd1"/><stop offset=".7936" stop-color="#0000da"/><stop offset=".7966" stop-color="#0000da"/><stop offset=".7997" stop-color="#0097dd"/><stop offset=".8028" stop-color="#009dd1"/><stop offset=".8058" stop-color="#0097dd"/><stop offset=".8089" stop-color="#1800a7"/><stop offset=".8119" stop-color="#830094"/><stop offset=".818" stop-color="#79008a"/><stop offset=".8211" stop-color="#0000b4"/><stop offset=".8242" stop-color="#580064"/><stop offset=".8731" stop-color="#42004c"/><stop offset=".9343" stop-color="#320039"/><stop offset=".9985" stop-color="#28002e"/></linearGradient>
<linearGradient id="gR11"><stop offset=".0015" stop-color="#6c009c"/><stop offset=".0046" stop-color="#5f006d"/><stop offset=".0076" stop-color="#2c0032"/><stop offset=".2003" stop-color="#2d0033"/><stop offset=".2034" stop-color="#380040"/><stop offset=".2064" stop-color="#5f006d"/><stop offset=".2095" stop-color="#7a008b"/><stop offset=".2187" stop-color="#850099"/><stop offset=".2248" stop-color="#1b00a7"/><stop offset=".2278" stop-color="#0000b9"/><stop offset=".2309" stop-color="#0000d3"/><stop offset=".2339" stop-color="#0023dd"/><stop offset=".237" stop-color="#005fdd"/><stop offset=".2401" stop-color="#0081dd"/><stop offset=".2431" stop-color="#0094dd"/><stop offset=".2462" stop-color="#009bd8"/><stop offset=".2554" stop-color="#00a7b2"/><stop offset=".2584" stop-color="#00aaab"/><stop offset=".2768" stop-color="#00aa91"/><stop offset=".3318" stop-color="#00aa83"/><stop offset=".3379" stop-color="#00aa89"/><stop offset=".3624" stop-color="#00aa89"/><stop offset=".3746" stop-color="#00a55d"/><stop offset=".3838" stop-color="#00a244"/><stop offset=".393" stop-color="#009f32"/><stop offset=".4083" stop-color="#009a00"/><stop offset=".4388" stop-color="#00a700"/><stop offset=".5153" stop-color="#00a300"/><stop offset=".5245" stop-color="#009a02"/><stop offset=".5306" stop-color="#009d1b"/><stop offset=".5428" stop-color="#00a87a"/><stop offset=".5459" stop-color="#00aa89"/><stop offset=".5703" stop-color="#00aaab"/><stop offset=".5948" stop-color="#0099dc"/><stop offset=".5979" stop-color="#0094dd"/><stop offset=".6193" stop-color="#0078dd"/><stop offset=".6346" stop-color="#0030dd"/><stop offset=".6498" stop-color="#0003dd"/><stop offset=".6529" stop-color="#0000da"/><stop offset=".6957" stop-color="#0100ac"/><stop offset=".6988" stop-color="#0700a9"/><stop offset=".708" stop-color="#2900a5"/><stop offset=".7202" stop-color="#6c009c"/><stop offset=".7263" stop-color="#80009a"/><stop offset=".7324" stop-color="#860097"/><stop offset=".7416" stop-color="#830094"/><stop offset=".7446" stop-color="#009dd1"/><stop offset=".7477" stop-color="#009dd1"/><stop offset=".7508" stop-color="#0000da"/><stop offset=".7569" stop-color="#0000da"/><stop offset=".7599" stop-color="#0097dd"/><stop offset=".763" stop-color="#0097dd"/><stop offset=".7661" stop-color="#0000da"/><stop offset=".7722" stop-color="#0000da"/><stop offset=".7752" stop-color="#0070dd"/><stop offset=".7783" stop-color="#0000da"/><stop offset=".7844" stop-color="#0000da"/><stop offset=".7875" stop-color="#009dd1"/><stop offset=".7905" stop-color="#009dd1"/><stop offset=".7936" stop-color="#0000da"/><stop offset=".7966" stop-color="#0000da"/><stop offset=".7997" stop-color="#0097dd"/><stop offset=".8028" stop-color="#009dd1"/><stop offset=".8058" stop-color="#0097dd"/><stop offset=".8089" stop-color="#1800a7"/><stop offset=".8119" stop-color="#830094"/><stop offset=".818" stop-color="#79008a"/><stop offset=".8211" stop-color="#0000b4"/><stop offset=".8242" stop-color="#580064"/><stop offset=".8731" stop-color="#42004c"/><stop offset=".9343" stop-color="#320039"/><stop offset=".9985" stop-color="#28002e"/></linearGradient>
<linearGradient id="gR12"><stop offset=".0015" stop-color="#6c009c"/><stop offset=".0046" stop-color="#5f006d"/><stop offset=".0076" stop-color="#2c0032"/><stop offset=".2003" stop-color="#2d0033"/><stop offset=".2034" stop-color="#380040"/><stop offset=".2064" stop-color="#5f006d"/><stop offset=".2095" stop-color="#7a008b"/><stop offset=".2187" stop-color="#850099"/><stop offset=".2248" stop-color="#1b00a7"/><stop offset=".2278" stop-color="#0000b9"/><stop offset=".2309" stop-color="#0000d3"/><stop offset=".2339" stop-color="#0023dd"/><stop offset=".237" stop-color="#005fdd"/><stop offset=".2401" stop-color="#0081dd"/><stop offset=".2431" stop-color="#0092dd"/><stop offset=".2462" stop-color="#0099dc"/><stop offset=".2554" stop-color="#00a3bd"/><stop offset=".2676" stop-color="#00aaaa"/><stop offset=".2768" stop-color="#00aaa1"/><stop offset=".3073" stop-color="#00aa9a"/><stop offset=".3624" stop-color="#00aa98"/><stop offset=".3899" stop-color="#00aa83"/><stop offset=".393" stop-color="#00a97d"/><stop offset=".4083" stop-color="#00a24a"/><stop offset=".4358" stop-color="#009d1b"/><stop offset=".448" stop-color="#009d22"/><stop offset=".4908" stop-color="#009d1b"/><stop offset=".5153" stop-color="#009e29"/><stop offset=".5306" stop-color="#00a66d"/><stop offset=".5336" stop-color="#00aa84"/><stop offset=".5367" stop-color="#00aa8d"/><stop offset=".555" stop-color="#00aaab"/><stop offset=".5703" stop-color="#009fca"/><stop offset=".5826" stop-color="#0098dd"/><stop offset=".6101" stop-color="#0072dd"/><stop offset=".6346" stop-color="#000edd"/><stop offset=".6407" stop-color="#0000dd"/><stop offset=".6927" stop-color="#0200ab"/><stop offset=".708" stop-color="#3200a4"/><stop offset=".7202" stop-color="#72009c"/><stop offset=".7263" stop-color="#83009a"/><stop offset=".7294" stop-color="#860098"/><stop offset=".7416" stop-color="#830094"/><stop offset=".7446" stop-color="#009dd1"/><stop offset=".7477" stop-color="#009dd1"/><stop offset=".7508" stop-color="#0000da"/><stop offset=".7569" stop-color="#0000da"/><stop offset=".7599" stop-color="#0097dd"/><stop offset=".763" stop-color="#0097dd"/><stop offset=".7661" stop-color="#0000da"/><stop offset=".7722" stop-color="#0000da"/><stop offset=".7752" stop-color="#0070dd"/><stop offset=".7783" stop-color="#0000da"/><stop offset=".7844" stop-color="#0000da"/><stop offset=".7875" stop-color="#009dd1"/><stop offset=".7905" stop-color="#009dd1"/><stop offset=".7936" stop-color="#0000da"/><stop offset=".7966" stop-color="#0000da"/><stop offset=".7997" stop-color="#0097dd"/><stop offset=".8028" stop-color="#009dd1"/><stop offset=".8058" stop-color="#0097dd"/><stop offset=".8089" stop-color="#1800a7"/><stop offset=".8119" stop-color="#830094"/><stop offset=".818" stop-color="#79008a"/><stop offset=".8211" stop-color="#0000b4"/><stop offset=".8242" stop-color="#580064"/><stop offset=".8731" stop-color="#42004c"/><stop offset=".9343" stop-color="#320039"/><stop offset=".9985" stop-color="#28002e"/></linearGradient>
<linearGradient id="gR13"><stop offset=".0015" stop-color="#6c009c"/><stop offset=".0046" stop-color="#5f006d"/><stop offset=".0076" stop-color="#2c0032"/><stop offset=".2003" stop-color="#2d0033"/><stop offset=".2034" stop-color="#380040"/><stop offset=".2064" stop-color="#5f006d"/><stop offset=".2095" stop-color="#7a008b"/><stop offset=".2187" stop-color="#850099"/><stop offset=".2248" stop-color="#1b00a7"/><stop offset=".2278" stop-color="#0000b9"/><stop offset=".2309" stop-color="#0000d3"/><stop offset=".2339" stop-color="#0023dd"/><stop offset=".237" stop-color="#005fdd"/><stop offset=".2401" stop-color="#0081dd"/><stop offset=".2431" stop-color="#0096dd"/><stop offset=".2462" stop-color="#009cd3"/><stop offset=".2554" stop-color="#00aaa6"/><stop offset=".2676" stop-color="#00aa8c"/><stop offset=".2768" stop-color="#00a667"/><stop offset=".3073" stop-color="#00a24c"/><stop offset=".3318" stop-color="#00a13f"/><stop offset=".3379" stop-color="#00a248"/><stop offset=".3593" stop-color="#00a24c"/><stop offset=".3624" stop-color="#00a246"/><stop offset=".3746" stop-color="#009c18"/><stop offset=".3838" stop-color="#009a06"/><stop offset=".3899" stop-color="#009a00"/><stop offset=".4083" stop-color="#00a500"/><stop offset=".4358" stop-color="#00ac00"/><stop offset=".5153" stop-color="#00a700"/><stop offset=".5275" stop-color="#009a02"/><stop offset=".5306" stop-color="#009b0e"/><stop offset=".5428" stop-color="#00a66d"/><stop offset=".5489" stop-color="#00aa8a"/><stop offset=".5734" stop-color="#00a9ac"/><stop offset=".5979" stop-color="#0097dd"/><stop offset=".6193" stop-color="#0079dd"/><stop offset=".6223" stop-color="#0072dd"/><stop offset=".6346" stop-color="#0035dd"/><stop offset=".6529" stop-color="#0000dc"/><stop offset=".6957" stop-color="#0000ad"/><stop offset=".6988" stop-color="#0500aa"/><stop offset=".708" stop-color="#2700a5"/><stop offset=".7202" stop-color="#6c009c"/><stop offset=".7263" stop-color="#80009a"/><stop offset=".7324" stop-color="#860097"/><stop offset=".7416" stop-color="#830094"/><stop offset=".7446" stop-color="#009dd1"/><stop offset=".7477" stop-color="#009dd1"/><stop offset=".7508" stop-color="#0000da"/><stop offset=".7569" stop-color="#0000da"/><stop offset=".7599" stop-color="#0097dd"/><stop offset=".763" stop-color="#0097dd"/><stop offset=".7661" stop-color="#0000da"/><stop offset=".7722" stop-color="#0000da"/><stop offset=".7752" stop-color="#0070dd"/><stop offset=".7783" stop-color="#0000da"/><stop offset=".7844" stop-color="#0000da"/><stop offset=".7875" stop-color="#009dd1"/><stop offset=".7905" stop-color="#009dd1"/><stop offset=".7936" stop-color="#0000da"/><stop offset=".7966" stop-color="#0000da"/><stop offset=".7997" stop-color="#0097dd"/><stop offset=".8028" stop-color="#009dd1"/><stop offset=".8058" stop-color="#0097dd"/><stop offset=".8089" stop-color="#1800a7"/><stop offset=".8119" stop-color="#830094"/><stop offset=".818" stop-color="#79008a"/><stop offset=".8211" stop-color="#0000b4"/><stop offset=".8242" stop-color="#580064"/><stop offset=".8731" stop-color="#42004c"/><stop offset=".9343" stop-color="#320039"/><stop offset=".9985" stop-color="#28002e"/></linearGradient>
<linearGradient id="gR14"><stop offset=".0015" stop-color="#6c009c"/><stop offset=".0046" stop-color="#5f006d"/><stop offset=".0076" stop-color="#2c0032"/><stop offset=".2003" stop-color="#2d0033"/><stop offset=".2034" stop-color="#380040"/><stop offset=".2064" stop-color="#5f006d"/><stop offset=".2095" stop-color="#7a008b"/><stop offset=".2187" stop-color="#850099"/><stop offset=".2248" stop-color="#1b00a7"/><stop offset=".2278" stop-color="#0000b9"/><stop offset=".2309" stop-color="#0000d3"/><stop offset=".2339" stop-color="#0023dd"/><stop offset=".237" stop-color="#005fdd"/><stop offset=".2401" stop-color="#0081dd"/><stop offset=".2431" stop-color="#0093dd"/><stop offset=".2462" stop-color="#009adb"/><stop offset=".2554" stop-color="#00a5b8"/><stop offset=".2645" stop-color="#00aaa8"/><stop offset=".2768" stop-color="#00aa9a"/><stop offset=".3318" stop-color="#00aa90"/><stop offset=".3593" stop-color="#00aa93"/><stop offset=".3716" stop-color="#00aa8a"/><stop offset=".393" stop-color="#00a456"/><stop offset=".4083" stop-color="#009d1e"/><stop offset=".4235" stop-color="#009a02"/><stop offset=".4388" stop-color="#00a000"/><stop offset=".4419" stop-color="#00d600"/><stop offset=".445" stop-color="#96ff00"/><stop offset=".448" stop-color="#00bd00"/><stop offset=".4511" stop-color="#009e00"/><stop offset=".4908" stop-color="#00a000"/><stop offset=".5183" stop-color="#009a02"/><stop offset=".5306" stop-color="#00a036"/><stop offset=".5398" stop-color="#00a97d"/><stop offset=".5428" stop-color="#00aa8c"/><stop offset=".5642" stop-color="#00aaaa"/><stop offset=".5917" stop-color="#0098dd"/><stop offset=".6162" stop-color="#0077dd"/><stop offset=".6346" stop-color="#0024dd"/><stop offset=".6468" stop-color="#0003dd"/><stop offset=".6498" stop-color="#0000db"/><stop offset=".6957" stop-color="#0200ab"/><stop offset=".708" stop-color="#2c00a4"/><stop offset=".7202" stop-color="#6e009c"/><stop offset=".7263" stop-color="#82009a"/><stop offset=".7324" stop-color="#860097"/><stop offset=".7416" stop-color="#830094"/><stop offset=".7446" stop-color="#009dd1"/><stop offset=".7477" stop-color="#009dd1"/><stop offset=".7508" stop-color="#0000da"/><stop offset=".7569" stop-color="#0000da"/><stop offset=".7599" stop-color="#0097dd"/><stop offset=".763" stop-color="#0097dd"/><stop offset=".7661" stop-color="#0000da"/><stop offset=".7722" stop-color="#0000da"/><stop offset=".7752" stop-color="#0070dd"/><stop offset=".7783" stop-color="#0000da"/><stop offset=".7844" stop-color="#0000da"/><stop offset=".7875" stop-color="#009dd1"/><stop offset=".7905" stop-color="#009dd1"/><stop offset=".7936" stop-color="#0000da"/><stop offset=".7966" stop-color="#0000da"/><stop offset=".7997" stop-color="#0097dd"/><stop offset=".8028" stop-color="#009dd1"/><stop offset=".8058" stop-color="#0097dd"/><stop offset=".8089" stop-color="#1800a7"/><stop offset=".8119" stop-color="#830094"/><stop offset=".818" stop-color="#79008a"/><stop offset=".8211" stop-color="#0000b4"/><stop offset=".8242" stop-color="#580064"/><stop offset=".8731" stop-color="#42004c"/><stop offset=".9343" stop-color="#320039"/><stop offset=".9985" stop-color="#28002e"/></linearGradient>
<linearGradient id="gR15"><stop offset=".0015" stop-color="#6c009c"/><stop offset=".0046" stop-color="#5f006d"/><stop offset=".0076" stop-color="#2c0032"/><stop offset=".2003" stop-color="#2d0033"/><stop offset=".2034" stop-color="#380040"/><stop offset=".2064" stop-color="#5f006d"/><stop offset=".2095" stop-color="#7a008b"/><stop offset=".2187" stop-color="#850099"/><stop offset=".2248" stop-color="#1b00a7"/><stop offset=".2278" stop-color="#0000b9"/><stop offset=".2309" stop-color="#0000d3"/><stop offset=".2339" stop-color="#0023dd"/><stop offset=".237" stop-color="#005fdd"/><stop offset=".2401" stop-color="#0081dd"/><stop offset=".2431" stop-color="#0092dd"/><stop offset=".2462" stop-color="#009adb"/><stop offset=".2554" stop-color="#00a4bb"/><stop offset=".2645" stop-color="#00aaab"/><stop offset=".2768" stop-color="#00aa9d"/><stop offset=".3318" stop-color="#00aa93"/><stop offset=".3593" stop-color="#00aa96"/><stop offset=".3777" stop-color="#00aa8a"/><stop offset=".393" stop-color="#00a669"/><stop offset=".4083" stop-color="#009f34"/><stop offset=".4327" stop-color="#009a07"/><stop offset=".4388" stop-color="#009a02"/><stop offset=".4419" stop-color="#00ae00"/><stop offset=".445" stop-color="#00c900"/><stop offset=".448" stop-color="#00a300"/><stop offset=".4511" stop-color="#009a07"/><stop offset=".4908" stop-color="#009a02"/><stop offset=".5153" stop-color="#009b0e"/><stop offset=".5306" stop-color="#00a352"/><stop offset=".5367" stop-color="#00a981"/><stop offset=".5398" stop-color="#00aa8c"/><stop offset=".5581" stop-color="#00aaa8"/><stop offset=".5887" stop-color="#0097dd"/><stop offset=".6131" stop-color="#0075dd"/><stop offset=".6346" stop-color="#0019dd"/><stop offset=".6437" stop-color="#0002dd"/><stop offset=".6468" stop-color="#0000da"/><stop offset=".6896" stop-color="#0000b0"/><stop offset=".6957" stop-color="#0500aa"/><stop offset=".708" stop-color="#2f00a4"/><stop offset=".7202" stop-color="#70009c"/><stop offset=".7263" stop-color="#83009a"/><stop offset=".7324" stop-color="#860097"/><stop offset=".7416" stop-color="#830094"/><stop offset=".7446" stop-color="#009dd1"/><stop offset=".7477" stop-color="#009dd1"/><stop offset=".7508" stop-color="#0000da"/><stop offset=".7569" stop-color="#0000da"/><stop offset=".7599" stop-color="#0097dd"/><stop offset=".763" stop-color="#0097dd"/><stop offset=".7661" stop-color="#0000da"/><stop offset=".7722" stop-color="#0000da"/><stop offset=".7752" stop-color="#0070dd"/><stop offset=".7783" stop-color="#0000da"/><stop offset=".7844" stop-color="#0000da"/><stop offset=".7875" stop-color="#009dd1"/><stop offset=".7905" stop-color="#009dd1"/><stop offset=".7936" stop-color="#0000da"/><stop offset=".7966" stop-color="#0000da"/><stop offset=".7997" stop-color="#0097dd"/><stop offset=".8028" stop-color="#009dd1"/><stop offset=".8058" stop-color="#0097dd"/><stop offset=".8089" stop-color="#1800a7"/><stop offset=".8119" stop-color="#830094"/><stop offset=".818" stop-color="#79008a"/><stop offset=".8211" stop-color="#0000b4"/><stop offset=".8242" stop-color="#580064"/><stop offset=".8731" stop-color="#42004c"/><stop offset=".9343" stop-color="#320039"/><stop offset=".9985" stop-color="#28002e"/></linearGradient>
<linearGradient id="gR16"><stop offset=".0015" stop-color="#6c009c"/><stop offset=".0046" stop-color="#5f006d"/><stop offset=".0076" stop-color="#2c0032"/><stop offset=".2003" stop-color="#2d0033"/><stop offset=".2034" stop-color="#380040"/><stop offset=".2064" stop-color="#5f006d"/><stop offset=".2095" stop-color="#7a008b"/><stop offset=".2187" stop-color="#850099"/><stop offset=".2248" stop-color="#1b00a7"/><stop offset=".2278" stop-color="#0000b9"/><stop offset=".2309" stop-color="#0000d3"/><stop offset=".2339" stop-color="#0023dd"/><stop offset=".237" stop-color="#005fdd"/><stop offset=".2401" stop-color="#0081dd"/><stop offset=".2431" stop-color="#0093dd"/><stop offset=".2462" stop-color="#009ada"/><stop offset=".2554" stop-color="#00a6b6"/><stop offset=".2615" stop-color="#00aaa9"/><stop offset=".2768" stop-color="#00aa96"/><stop offset=".3318" stop-color="#00aa8c"/><stop offset=".3593" stop-color="#00aa8f"/><stop offset=".3685" stop-color="#00aa89"/><stop offset=".3838" stop-color="#00a55e"/><stop offset=".393" stop-color="#00a24b"/><stop offset=".4083" stop-color="#009c17"/><stop offset=".4144" stop-color="#009a0c"/><stop offset=".4174" stop-color="#009b10"/><stop offset=".4205" stop-color="#009d1b"/><stop offset=".4235" stop-color="#009a04"/><stop offset=".4266" stop-color="#009b00"/><stop offset=".4388" stop-color="#00a000"/><stop offset=".5153" stop-color="#009c00"/><stop offset=".5183" stop-color="#009a02"/><stop offset=".5306" stop-color="#00a036"/><stop offset=".5398" stop-color="#00a97d"/><stop offset=".5428" stop-color="#00aa8c"/><stop offset=".5642" stop-color="#00aaaa"/><stop offset=".5917" stop-color="#0098dd"/><stop offset=".6162" stop-color="#0077dd"/><stop offset=".6346" stop-color="#0024dd"/><stop offset=".6468" stop-color="#0003dd"/><stop offset=".6498" stop-color="#0000db"/><stop offset=".6957" stop-color="#0200ab"/><stop offset=".708" stop-color="#2c00a4"/><stop offset=".7202" stop-color="#6e009c"/><stop offset=".7263" stop-color="#82009a"/><stop offset=".7324" stop-color="#860097"/><stop offset=".7416" stop-color="#830094"/><stop offset=".7446" stop-color="#009dd1"/><stop offset=".7477" stop-color="#009dd1"/><stop offset=".7508" stop-color="#0000da"/><stop offset=".7569" stop-color="#0000da"/><stop offset=".7599" stop-color="#0097dd"/><stop offset=".763" stop-color="#0097dd"/><stop offset=".7661" stop-color="#0000da"/><stop offset=".7722" stop-color="#0000da"/><stop offset=".7752" stop-color="#0070dd"/><stop offset=".7783" stop-color="#0000da"/><stop offset=".7844" stop-color="#0000da"/><stop offset=".7875" stop-color="#009dd1"/><stop offset=".7905" stop-color="#009dd1"/><stop offset=".7936" stop-color="#0000da"/><stop offset=".7966" stop-color="#0000da"/><stop offset=".7997" stop-color="#0097dd"/><stop offset=".8028" stop-color="#009dd1"/><stop offset=".8058" stop-color="#0097dd"/><stop offset=".8089" stop-color="#1800a7"/><stop offset=".8119" stop-color="#830094"/><stop offset=".818" stop-color="#79008a"/><stop offset=".8211" stop-color="#0000b4"/><stop offset=".8242" stop-color="#580064"/><stop offset=".8731" stop-color="#42004c"/><stop offset=".9343" stop-color="#320039"/><stop offset=".9985" stop-color="#28002e"/></linearGradient>
<linearGradient id="gR17"><stop offset=".0015" stop-color="#6c009c"/><stop offset=".0046" stop-color="#5f006d"/><stop offset=".0076" stop-color="#2c0032"/><stop offset=".2003" stop-color="#2d0033"/><stop offset=".2034" stop-color="#380040"/><stop offset=".2064" stop-color="#5f006d"/><stop offset=".2095" stop-color="#7a008b"/><stop offset=".2187" stop-color="#850099"/><stop offset=".2248" stop-color="#1b00a7"/><stop offset=".2278" stop-color="#0000b9"/><stop offset=".2309" stop-color="#0000d3"/><stop offset=".2339" stop-color="#0023dd"/><stop offset=".237" stop-color="#005fdd"/><stop offset=".2401" stop-color="#0081dd"/><stop offset=".2431" stop-color="#0094dd"/><stop offset=".2462" stop-color="#009bd8"/><stop offset=".2554" stop-color="#00a7b2"/><stop offset=".2584" stop-color="#00aaab"/><stop offset=".2768" stop-color="#00aa91"/><stop offset=".3318" stop-color="#00aa83"/><stop offset=".3379" stop-color="#00aa89"/><stop offset=".3624" stop-color="#00aa89"/><stop offset=".3746" stop-color="#00a55f"/><stop offset=".393" stop-color="#00a036"/><stop offset=".4083" stop-color="#009a05"/><stop offset=".4144" stop-color="#009b00"/><stop offset=".4174" stop-color="#00bf00"/><stop offset=".4205" stop-color="#00eb00"/><stop offset=".4235" stop-color="#00b200"/><stop offset=".4266" stop-color="#00a000"/><stop offset=".4358" stop-color="#00a300"/><stop offset=".4908" stop-color="#00a300"/><stop offset=".5153" stop-color="#00a000"/><stop offset=".5214" stop-color="#009a02"/><stop offset=".5306" stop-color="#009e29"/><stop offset=".5428" stop-color="#00aa88"/><stop offset=".5673" stop-color="#00aaab"/><stop offset=".5948" stop-color="#0096dd"/><stop offset=".6162" stop-color="#0079dd"/><stop offset=".6193" stop-color="#0072dd"/><stop offset=".6346" stop-color="#002add"/><stop offset=".6498" stop-color="#0000dc"/><stop offset=".6957" stop-color="#0200ab"/><stop offset=".708" stop-color="#2a00a5"/><stop offset=".7202" stop-color="#6d009c"/><stop offset=".7263" stop-color="#81009a"/><stop offset=".7324" stop-color="#860097"/><stop offset=".7416" stop-color="#830094"/><stop offset=".7446" stop-color="#009dd1"/><stop offset=".7477" stop-color="#009dd1"/><stop offset=".7508" stop-color="#0000da"/><stop offset=".7569" stop-color="#0000da"/><stop offset=".7599" stop-color="#0097dd"/><stop offset=".763" stop-color="#0097dd"/><stop offset=".7661" stop-color="#0000da"/><stop offset=".7722" stop-color="#0000da"/><stop offset=".7752" stop-color="#0070dd"/><stop offset=".7783" stop-color="#0000da"/><stop offset=".7844" stop-color="#0000da"/><stop offset=".7875" stop-color="#009dd1"/><stop offset=".7905" stop-color="#009dd1"/><stop offset=".7936" stop-color="#0000da"/><stop offset=".7966" stop-color="#0000da"/><stop offset=".7997" stop-color="#0097dd"/><stop offset=".8028" stop-color="#009dd1"/><stop offset=".8058" stop-color="#0097dd"/><stop offset=".8089" stop-color="#1800a7"/><stop offset=".8119" stop-color="#830094"/><stop offset=".818" stop-color="#79008a"/><stop offset=".8211" stop-color="#0000b4"/><stop offset=".8242" stop-color="#580064"/><stop offset=".8731" stop-color="#42004c"/><stop offset=".9343" stop-color="#320039"/><stop offset=".9985" stop-color="#28002e"/></linearGradient>
<linearGradient id="gR18"><stop offset=".0015" stop-color="#6c009c"/><stop offset=".0046" stop-color="#5f006d"/><stop offset=".0076" stop-color="#2c0032"/><stop offset=".2003" stop-color="#2d0033"/><stop offset=".2034" stop-color="#380040"/><stop offset=".2064" stop-color="#5f006d"/><stop offset=".2095" stop-color="#7a008b"/><stop offset=".2187" stop-color="#850099"/><stop offset=".2248" stop-color="#1b00a7"/><stop offset=".2278" stop-color="#0000b9"/><stop offset=".2309" stop-color="#0000d3"/><stop offset=".2339" stop-color="#0023dd"/><stop offset=".237" stop-color="#005fdd"/><stop offset=".2401" stop-color="#0081dd"/><stop offset=".2431" stop-color="#0093dd"/><stop offset=".2462" stop-color="#009bd9"/><stop offset=".2554" stop-color="#00a7b4"/><stop offset=".2584" stop-color="#00a9ad"/><stop offset=".2768" stop-color="#00aa94"/><stop offset=".3073" stop-color="#00aa8d"/><stop offset=".3654" stop-color="#00aa8a"/><stop offset=".3685" stop-color="#00aa86"/><stop offset=".3838" stop-color="#00a561"/><stop offset=".393" stop-color="#00a354"/><stop offset=".4083" stop-color="#009e28"/><stop offset=".4144" stop-color="#009d20"/><stop offset=".4174" stop-color="#00c900"/><stop offset=".4205" stop-color="#4aff00"/><stop offset=".4235" stop-color="#00b200"/><stop offset=".4266" stop-color="#009b12"/><stop offset=".4358" stop-color="#009a07"/><stop offset=".448" stop-color="#009b15"/><stop offset=".4908" stop-color="#009b0e"/><stop offset=".5153" stop-color="#009d1b"/><stop offset=".5306" stop-color="#00a55f"/><stop offset=".5367" stop-color="#00aa8a"/><stop offset=".5581" stop-color="#00a9ac"/><stop offset=".5703" stop-color="#00a1c5"/><stop offset=".5856" stop-color="#0098dd"/><stop offset=".6101" stop-color="#0078dd"/><stop offset=".6223" stop-color="#0049dd"/><stop offset=".6346" stop-color="#0014dd"/><stop offset=".6437" stop-color="#0000dc"/><stop offset=".6927" stop-color="#0100ac"/><stop offset=".6957" stop-color="#0700a9"/><stop offset=".708" stop-color="#3000a4"/><stop offset=".7202" stop-color="#71009c"/><stop offset=".7263" stop-color="#83009a"/><stop offset=".7324" stop-color="#860097"/><stop offset=".7416" stop-color="#830094"/><stop offset=".7446" stop-color="#009dd1"/><stop offset=".7477" stop-color="#009dd1"/><stop offset=".7508" stop-color="#0000da"/><stop offset=".7569" stop-color="#0000da"/><stop offset=".7599" stop-color="#0097dd"/><stop offset=".763" stop-color="#0097dd"/><stop offset=".7661" stop-color="#0000da"/><stop offset=".7722" stop-color="#0000da"/><stop offset=".7752" stop-color="#0070dd"/><stop offset=".7783" stop-color="#0000da"/><stop offset=".7844" stop-color="#0000da"/><stop offset=".7875" stop-color="#009dd1"/><stop offset=".7905" stop-color="#009dd1"/><stop offset=".7936" stop-color="#0000da"/><stop offset=".7966" stop-color="#0000da"/><stop offset=".7997" stop-color="#0097dd"/><stop offset=".8028" stop-color="#009dd1"/><stop offset=".8058" stop-color="#0097dd"/><stop offset=".8089" stop-color="#1800a7"/><stop offset=".8119" stop-color="#830094"/><stop offset=".818" stop-color="#79008a"/><stop offset=".8211" stop-color="#0000b4"/><stop offset=".8242" stop-color="#580064"/><stop offset=".8731" stop-color="#42004c"/><stop offset=".9343" stop-color="#320039"/><stop offset=".9985" stop-color="#28002e"/></linearGradient>
<linearGradient id="gR19"><stop offset=".0015" stop-color="#6c009c"/><stop offset=".0046" stop-color="#5f006d"/><stop offset=".0076" stop-color="#160018"/><stop offset=".2156" stop-color="#160018"/><stop offset=".2339" stop-color="#2c0032"/><stop offset=".2584" stop-color="#42004c"/><stop offset=".292" stop-color="#560062"/><stop offset=".6131" stop-color="#560062"/><stop offset=".7141" stop-color="#4f005a"/><stop offset=".7263" stop-color="#2f0035"/><stop offset=".9985" stop-color="#1d0022"/></linearGradient>
<linearGradient id="gR20"><stop offset=".0015" stop-color="#6c009c"/><stop offset=".0046" stop-color="#5f006d"/><stop offset=".0076" stop-color="#17001a"/><stop offset=".2156" stop-color="#17001a"/><stop offset=".292" stop-color="#0a000c"/><stop offset=".7294" stop-color="#0c000e"/><stop offset=".7416" stop-color="#110013"/><stop offset=".9985" stop-color="#150017"/></linearGradient>
<linearGradient id="gR21"><stop offset=".0015" stop-color="#6c009c"/><stop offset=".0046" stop-color="#5f006d"/><stop offset=".0076" stop-color="#230029"/><stop offset=".1972" stop-color="#230029"/><stop offset=".2003" stop-color="#6b007a"/><stop offset=".2034" stop-color="#860097"/><stop offset=".2064" stop-color="#0900a9"/><stop offset=".2095" stop-color="#0000dd"/><stop offset=".2125" stop-color="#006fdd"/><stop offset=".2156" stop-color="#0092dd"/><stop offset=".2187" stop-color="#00aaaa"/><stop offset=".2217" stop-color="#00a45a"/><stop offset=".2248" stop-color="#00a900"/><stop offset=".2278" stop-color="#00c900"/><stop offset=".2401" stop-color="#00f800"/><stop offset=".2431" stop-color="#00ff00"/><stop offset=".2492" stop-color="#4aff00"/><stop offset=".2554" stop-color="#a2ff00"/><stop offset=".2584" stop-color="#c0fd00"/><stop offset=".2676" stop-color="#daf500"/><stop offset=".2798" stop-color="#eeee00"/><stop offset=".2982" stop-color="#f5e000"/><stop offset=".3593" stop-color="#ecef00"/><stop offset=".4144" stop-color="#dff300"/><stop offset=".4174" stop-color="#f9d800"/><stop offset=".4205" stop-color="#ffa300"/><stop offset=".4235" stop-color="#f2e600"/><stop offset=".4266" stop-color="#e1f300"/><stop offset=".4786" stop-color="#f0eb00"/><stop offset=".4847" stop-color="#e6f000"/><stop offset=".5031" stop-color="#bdfe00"/><stop offset=".5061" stop-color="#a8ff00"/><stop offset=".5245" stop-color="#0dff00"/><stop offset=".5275" stop-color="#00fc00"/><stop offset=".5459" stop-color="#00e400"/><stop offset=".6223" stop-color="#009a02"/><stop offset=".6498" stop-color="#00aa89"/><stop offset=".6743" stop-color="#00aaa8"/><stop offset=".6927" stop-color="#00a0c7"/><stop offset=".6957" stop-color="#0097dd"/><stop offset=".7324" stop-color="#0073dd"/><stop offset=".7355" stop-color="#006bdd"/><stop offset=".7416" stop-color="#0023dd"/><stop offset=".7446" stop-color="#00a0c9"/><stop offset=".7477" stop-color="#009fc9"/><stop offset=".7508" stop-color="#0000dc"/><stop offset=".7599" stop-color="#0000da"/><stop offset=".763" stop-color="#0040dd"/><stop offset=".7661" stop-color="#0000d9"/><stop offset=".7844" stop-color="#0000d6"/><stop offset=".7875" stop-color="#009ed0"/><stop offset=".7905" stop-color="#0079dd"/><stop offset=".7936" stop-color="#0000d5"/><stop offset=".7997" stop-color="#0000d4"/><stop offset=".8028" stop-color="#009cd2"/><stop offset=".8058" stop-color="#0000d3"/><stop offset=".8089" stop-color="#4200a2"/><stop offset=".8119" stop-color="#7b008c"/><stop offset=".8823" stop-color="#770088"/><stop offset=".9159" stop-color="#690078"/><stop offset=".9618" stop-color="#4d0058"/><stop offset=".9985" stop-color="#3b0044"/></linearGradient>
<linearGradient id="nA"><stop offset=".0015" stop-opacity="0.11"/><stop offset=".0046" stop-opacity="0.24"/><stop offset=".0076" stop-opacity="0.17"/><stop offset=".0107" stop-opacity="0.24"/><stop offset=".0138" stop-opacity="0.17"/><stop offset=".0168" stop-opacity="0.13"/><stop offset=".0199" stop-opacity="0.11"/><stop offset=".0229" stop-opacity="0.08"/><stop offset=".026" stop-opacity="0.39"/><stop offset=".0291" stop-opacity="0.26"/><stop offset=".0321" stop-opacity="0.14"/><stop offset=".0352" stop-opacity="0.16"/><stop offset=".0382" stop-opacity="0.11"/><stop offset=".0413" stop-opacity="0.25"/><stop offset=".0443" stop-opacity="0.33"/><stop offset=".0474" stop-opacity="0.24"/><stop offset=".0505" stop-opacity="0.11"/><stop offset=".0535" stop-opacity="0.10"/><stop offset=".0566" stop-opacity="0.18"/><stop offset=".0596" stop-opacity="0.15"/><stop offset=".0627" stop-opacity="0.11"/><stop offset=".0657" stop-opacity="0.22"/><stop offset=".0688" stop-opacity="0.17"/><stop offset=".0719" stop-opacity="0.16"/><stop offset=".0749" stop-opacity="0.26"/><stop offset=".078" stop-opacity="0.17"/><stop offset=".081" stop-opacity="0.23"/><stop offset=".0841" stop-opacity="0.17"/><stop offset=".0872" stop-opacity="0.08"/><stop offset=".0902" stop-opacity="0.15"/><stop offset=".0933" stop-opacity="0.21"/><stop offset=".0963" stop-opacity="0.18"/><stop offset=".0994" stop-opacity="0.42"/><stop offset=".1024" stop-opacity="0.30"/><stop offset=".1055" stop-opacity="0.09"/><stop offset=".1086" stop-opacity="0.09"/><stop offset=".1116" stop-opacity="0.09"/><stop offset=".1147" stop-opacity="0.08"/><stop offset=".1177" stop-opacity="0.08"/><stop offset=".1208" stop-opacity="0.08"/><stop offset=".1239" stop-opacity="0.09"/><stop offset=".1269" stop-opacity="0.08"/><stop offset=".13" stop-opacity="0.11"/><stop offset=".133" stop-opacity="0.09"/><stop offset=".1361" stop-opacity="0.11"/><stop offset=".1391" stop-opacity="0.38"/><stop offset=".1422" stop-opacity="0.25"/><stop offset=".1453" stop-opacity="0.14"/><stop offset=".1483" stop-opacity="0.13"/><stop offset=".1514" stop-opacity="0.12"/><stop offset=".1544" stop-opacity="0.07"/><stop offset=".1575" stop-opacity="0.40"/><stop offset=".1606" stop-opacity="0.27"/><stop offset=".1636" stop-opacity="0.13"/><stop offset=".1667" stop-opacity="0.23"/><stop offset=".1697" stop-opacity="0.18"/><stop offset=".1728" stop-opacity="0.49"/><stop offset=".1758" stop-opacity="0.34"/><stop offset=".1789" stop-opacity="0.12"/><stop offset=".182" stop-opacity="0.17"/><stop offset=".185" stop-opacity="0.12"/><stop offset=".1881" stop-opacity="0.15"/><stop offset=".1911" stop-opacity="0.13"/><stop offset=".1942" stop-opacity="0.39"/><stop offset=".1972" stop-opacity="0.29"/><stop offset=".2003" stop-opacity="0.13"/><stop offset=".2034" stop-opacity="0.10"/><stop offset=".2064" stop-opacity="0.22"/><stop offset=".2095" stop-opacity="0.12"/><stop offset=".2125" stop-opacity="0.07"/><stop offset=".2156" stop-opacity="0.03"/><stop offset=".2187" stop-opacity="0.01"/><stop offset=".2217" stop-opacity="0.04"/><stop offset=".2248" stop-opacity="0.03"/><stop offset=".2278" stop-opacity="0.03"/><stop offset=".2309" stop-opacity="0.02"/><stop offset=".2339" stop-opacity="0.01"/><stop offset=".237" stop-opacity="0.01"/><stop offset=".2401" stop-opacity="0.01"/><stop offset=".2431" stop-opacity="0.02"/><stop offset=".2462" stop-opacity="0.04"/><stop offset=".2492" stop-opacity="0.05"/><stop offset=".2523" stop-opacity="0.03"/><stop offset=".2554" stop-opacity="0.01"/><stop offset=".2584" stop-opacity="0.01"/><stop offset=".2615" stop-opacity="0.01"/><stop offset=".2645" stop-opacity="0.02"/><stop offset=".2676" stop-opacity="0.02"/><stop offset=".2706" stop-opacity="0.02"/><stop offset=".2737" stop-opacity="0.04"/><stop offset=".2768" stop-opacity="0.04"/><stop offset=".2798" stop-opacity="0.04"/><stop offset=".2829" stop-opacity="0.04"/><stop offset=".2859" stop-opacity="0.04"/><stop offset=".289" stop-opacity="0.03"/><stop offset=".292" stop-opacity="0.03"/><stop offset=".2951" stop-opacity="0.02"/><stop offset=".2982" stop-opacity="0.01"/><stop offset=".3012" stop-opacity="0.01"/><stop offset=".3043" stop-opacity="0.04"/><stop offset=".3073" stop-opacity="0.03"/><stop offset=".3104" stop-opacity="0.01"/><stop offset=".3135" stop-opacity="0.01"/><stop offset=".3165" stop-opacity="0.03"/><stop offset=".3196" stop-opacity="0.02"/><stop offset=".3226" stop-opacity="0.02"/><stop offset=".3257" stop-opacity="0.01"/><stop offset=".3287" stop-opacity="0.01"/><stop offset=".3318" stop-opacity="0.01"/><stop offset=".3349" stop-opacity="0.01"/><stop offset=".3379" stop-opacity="0.01"/><stop offset=".341" stop-opacity="0.01"/><stop offset=".344" stop-opacity="0.04"/><stop offset=".3471" stop-opacity="0.03"/><stop offset=".3502" stop-opacity="0.02"/><stop offset=".3532" stop-opacity="0.01"/><stop offset=".3563" stop-opacity="0.01"/><stop offset=".3593" stop-opacity="0.01"/><stop offset=".3624" stop-opacity="0.01"/><stop offset=".3654" stop-opacity="0.01"/><stop offset=".3685" stop-opacity="0.01"/><stop offset=".3716" stop-opacity="0.01"/><stop offset=".3746" stop-opacity="0.03"/><stop offset=".3777" stop-opacity="0.02"/><stop offset=".3807" stop-opacity="0.01"/><stop offset=".3838" stop-opacity="0.01"/><stop offset=".3869" stop-opacity="0.01"/><stop offset=".3899" stop-opacity="0.01"/><stop offset=".393" stop-opacity="0.01"/><stop offset=".396" stop-opacity="0.01"/><stop offset=".3991" stop-opacity="0.05"/><stop offset=".4021" stop-opacity="0.03"/><stop offset=".4052" stop-opacity="0.03"/><stop offset=".4083" stop-opacity="0.02"/><stop offset=".4113" stop-opacity="0.01"/><stop offset=".4144" stop-opacity="0.01"/><stop offset=".4174" stop-opacity="0.01"/><stop offset=".4205" stop-opacity="0.01"/><stop offset=".4235" stop-opacity="0.01"/><stop offset=".4266" stop-opacity="0.01"/><stop offset=".4297" stop-opacity="0.02"/><stop offset=".4327" stop-opacity="0.01"/><stop offset=".4358" stop-opacity="0.01"/><stop offset=".4388" stop-opacity="0.01"/><stop offset=".4419" stop-opacity="0.00"/><stop offset=".445" stop-opacity="0.00"/><stop offset=".448" stop-opacity="0.00"/><stop offset=".4511" stop-opacity="0.00"/><stop offset=".4541" stop-opacity="0.04"/><stop offset=".4572" stop-opacity="0.03"/><stop offset=".4602" stop-opacity="0.02"/><stop offset=".4633" stop-opacity="0.01"/><stop offset=".4664" stop-opacity="0.04"/><stop offset=".4694" stop-opacity="0.03"/><stop offset=".4725" stop-opacity="0.01"/><stop offset=".4755" stop-opacity="0.01"/><stop offset=".4786" stop-opacity="0.01"/><stop offset=".4817" stop-opacity="0.01"/><stop offset=".4847" stop-opacity="0.02"/><stop offset=".4878" stop-opacity="0.01"/><stop offset=".4908" stop-opacity="0.03"/><stop offset=".4939" stop-opacity="0.02"/><stop offset=".4969" stop-opacity="0.02"/><stop offset=".5" stop-opacity="0.05"/><stop offset=".5031" stop-opacity="0.03"/><stop offset=".5061" stop-opacity="0.01"/><stop offset=".5092" stop-opacity="0.01"/><stop offset=".5122" stop-opacity="0.01"/><stop offset=".5153" stop-opacity="0.04"/><stop offset=".5183" stop-opacity="0.03"/><stop offset=".5214" stop-opacity="0.01"/><stop offset=".5245" stop-opacity="0.03"/><stop offset=".5275" stop-opacity="0.02"/><stop offset=".5306" stop-opacity="0.02"/><stop offset=".5336" stop-opacity="0.02"/><stop offset=".5367" stop-opacity="0.01"/><stop offset=".5398" stop-opacity="0.01"/><stop offset=".5428" stop-opacity="0.01"/><stop offset=".5459" stop-opacity="0.01"/><stop offset=".5489" stop-opacity="0.01"/><stop offset=".552" stop-opacity="0.01"/><stop offset=".555" stop-opacity="0.04"/><stop offset=".5581" stop-opacity="0.03"/><stop offset=".5612" stop-opacity="0.02"/><stop offset=".5642" stop-opacity="0.04"/><stop offset=".5673" stop-opacity="0.03"/><stop offset=".5703" stop-opacity="0.02"/><stop offset=".5734" stop-opacity="0.01"/><stop offset=".5765" stop-opacity="0.01"/><stop offset=".5795" stop-opacity="0.01"/><stop offset=".5826" stop-opacity="0.00"/><stop offset=".5856" stop-opacity="0.04"/><stop offset=".5887" stop-opacity="0.04"/><stop offset=".5917" stop-opacity="0.03"/><stop offset=".5948" stop-opacity="0.01"/><stop offset=".5979" stop-opacity="0.02"/><stop offset=".6009" stop-opacity="0.04"/><stop offset=".604" stop-opacity="0.03"/><stop offset=".607" stop-opacity="0.01"/><stop offset=".6101" stop-opacity="0.01"/><stop offset=".6131" stop-opacity="0.01"/><stop offset=".6162" stop-opacity="0.01"/><stop offset=".6193" stop-opacity="0.01"/><stop offset=".6223" stop-opacity="0.01"/><stop offset=".6254" stop-opacity="0.01"/><stop offset=".6284" stop-opacity="0.02"/><stop offset=".6315" stop-opacity="0.02"/><stop offset=".6346" stop-opacity="0.03"/><stop offset=".6376" stop-opacity="0.02"/><stop offset=".6407" stop-opacity="0.01"/><stop offset=".6437" stop-opacity="0.03"/><stop offset=".6468" stop-opacity="0.03"/><stop offset=".6498" stop-opacity="0.01"/><stop offset=".6529" stop-opacity="0.04"/><stop offset=".656" stop-opacity="0.03"/><stop offset=".659" stop-opacity="0.03"/><stop offset=".6621" stop-opacity="0.02"/><stop offset=".6651" stop-opacity="0.01"/><stop offset=".6682" stop-opacity="0.01"/><stop offset=".6713" stop-opacity="0.01"/><stop offset=".6743" stop-opacity="0.01"/><stop offset=".6774" stop-opacity="0.01"/><stop offset=".6804" stop-opacity="0.03"/><stop offset=".6835" stop-opacity="0.02"/><stop offset=".6865" stop-opacity="0.01"/><stop offset=".6896" stop-opacity="0.01"/><stop offset=".6927" stop-opacity="0.01"/><stop offset=".6957" stop-opacity="0.01"/><stop offset=".6988" stop-opacity="0.01"/><stop offset=".7018" stop-opacity="0.01"/><stop offset=".7049" stop-opacity="0.01"/><stop offset=".708" stop-opacity="0.01"/><stop offset=".711" stop-opacity="0.01"/><stop offset=".7141" stop-opacity="0.01"/><stop offset=".7171" stop-opacity="0.01"/><stop offset=".7202" stop-opacity="0.01"/><stop offset=".7232" stop-opacity="0.01"/><stop offset=".7263" stop-opacity="0.01"/><stop offset=".7294" stop-opacity="0.01"/><stop offset=".7324" stop-opacity="0.01"/><stop offset=".7355" stop-opacity="0.04"/><stop offset=".7385" stop-opacity="0.03"/><stop offset=".7416" stop-opacity="0.09"/><stop offset=".7446" stop-opacity="0.07"/><stop offset=".7477" stop-opacity="0.02"/><stop offset=".7508" stop-opacity="0.05"/><stop offset=".7538" stop-opacity="0.06"/><stop offset=".7569" stop-opacity="0.11"/><stop offset=".7599" stop-opacity="0.08"/><stop offset=".763" stop-opacity="0.08"/><stop offset=".7661" stop-opacity="0.12"/><stop offset=".7691" stop-opacity="0.08"/><stop offset=".7722" stop-opacity="0.05"/><stop offset=".7752" stop-opacity="0.07"/><stop offset=".7783" stop-opacity="0.07"/><stop offset=".7813" stop-opacity="0.20"/><stop offset=".7844" stop-opacity="0.14"/><stop offset=".7875" stop-opacity="0.18"/><stop offset=".7905" stop-opacity="0.13"/><stop offset=".7936" stop-opacity="0.06"/><stop offset=".7966" stop-opacity="0.06"/><stop offset=".7997" stop-opacity="0.05"/><stop offset=".8028" stop-opacity="0.13"/><stop offset=".8058" stop-opacity="0.37"/><stop offset=".8089" stop-opacity="0.26"/><stop offset=".8119" stop-opacity="0.09"/><stop offset=".815" stop-opacity="0.08"/><stop offset=".818" stop-opacity="0.07"/><stop offset=".8211" stop-opacity="0.22"/><stop offset=".8242" stop-opacity="0.15"/><stop offset=".8272" stop-opacity="0.07"/><stop offset=".8303" stop-opacity="0.07"/><stop offset=".8333" stop-opacity="0.25"/><stop offset=".8364" stop-opacity="0.18"/><stop offset=".8394" stop-opacity="0.07"/><stop offset=".8425" stop-opacity="0.08"/><stop offset=".8456" stop-opacity="0.10"/><stop offset=".8486" stop-opacity="0.10"/><stop offset=".8517" stop-opacity="0.18"/><stop offset=".8547" stop-opacity="0.16"/><stop offset=".8578" stop-opacity="0.12"/><stop offset=".8609" stop-opacity="0.12"/><stop offset=".8639" stop-opacity="0.22"/><stop offset=".867" stop-opacity="0.32"/><stop offset=".87" stop-opacity="0.23"/><stop offset=".8731" stop-opacity="0.19"/><stop offset=".8761" stop-opacity="0.12"/><stop offset=".8792" stop-opacity="0.08"/><stop offset=".8823" stop-opacity="0.04"/><stop offset=".8853" stop-opacity="0.34"/><stop offset=".8884" stop-opacity="0.22"/><stop offset=".8914" stop-opacity="0.07"/><stop offset=".8945" stop-opacity="0.10"/><stop offset=".8976" stop-opacity="0.08"/><stop offset=".9006" stop-opacity="0.23"/><stop offset=".9037" stop-opacity="0.17"/><stop offset=".9067" stop-opacity="0.09"/><stop offset=".9098" stop-opacity="0.12"/><stop offset=".9128" stop-opacity="0.13"/><stop offset=".9159" stop-opacity="0.14"/><stop offset=".919" stop-opacity="0.15"/><stop offset=".922" stop-opacity="0.15"/><stop offset=".9251" stop-opacity="0.29"/><stop offset=".9281" stop-opacity="0.23"/><stop offset=".9312" stop-opacity="0.10"/><stop offset=".9343" stop-opacity="0.11"/><stop offset=".9373" stop-opacity="0.13"/><stop offset=".9404" stop-opacity="0.14"/><stop offset=".9434" stop-opacity="0.21"/><stop offset=".9465" stop-opacity="0.17"/><stop offset=".9495" stop-opacity="0.11"/><stop offset=".9526" stop-opacity="0.39"/><stop offset=".9557" stop-opacity="0.27"/><stop offset=".9587" stop-opacity="0.17"/><stop offset=".9618" stop-opacity="0.08"/><stop offset=".9648" stop-opacity="0.22"/><stop offset=".9679" stop-opacity="0.18"/><stop offset=".9709" stop-opacity="0.11"/><stop offset=".974" stop-opacity="0.11"/><stop offset=".9771" stop-opacity="0.27"/><stop offset=".9801" stop-opacity="0.19"/><stop offset=".9832" stop-opacity="0.46"/><stop offset=".9862" stop-opacity="0.29"/><stop offset=".9893" stop-opacity="0.09"/><stop offset=".9924" stop-opacity="0.19"/><stop offset=".9954" stop-opacity="0.16"/><stop offset=".9985" stop-opacity="0.09"/></linearGradient>
<linearGradient id="nB"><stop offset=".0015" stop-opacity="0.00"/><stop offset=".0046" stop-opacity="0.00"/><stop offset=".0076" stop-opacity="0.00"/><stop offset=".0107" stop-opacity="0.00"/><stop offset=".0138" stop-opacity="0.00"/><stop offset=".0168" stop-opacity="0.00"/><stop offset=".0199" stop-opacity="0.00"/><stop offset=".0229" stop-opacity="0.00"/><stop offset=".026" stop-opacity="0.00"/><stop offset=".0291" stop-opacity="0.00"/><stop offset=".0321" stop-opacity="0.00"/><stop offset=".0352" stop-opacity="0.00"/><stop offset=".0382" stop-opacity="0.00"/><stop offset=".0413" stop-opacity="0.00"/><stop offset=".0443" stop-opacity="0.00"/><stop offset=".0474" stop-opacity="0.00"/><stop offset=".0505" stop-opacity="0.00"/><stop offset=".0535" stop-opacity="0.00"/><stop offset=".0566" stop-opacity="0.00"/><stop offset=".0596" stop-opacity="0.00"/><stop offset=".0627" stop-opacity="0.00"/><stop offset=".0657" stop-opacity="0.00"/><stop offset=".0688" stop-opacity="0.00"/><stop offset=".0719" stop-opacity="0.00"/><stop offset=".0749" stop-opacity="0.00"/><stop offset=".078" stop-opacity="0.00"/><stop offset=".081" stop-opacity="0.00"/><stop offset=".0841" stop-opacity="0.00"/><stop offset=".0872" stop-opacity="0.00"/><stop offset=".0902" stop-opacity="0.00"/><stop offset=".0933" stop-opacity="0.00"/><stop offset=".0963" stop-opacity="0.00"/><stop offset=".0994" stop-opacity="0.00"/><stop offset=".1024" stop-opacity="0.00"/><stop offset=".1055" stop-opacity="0.00"/><stop offset=".1086" stop-opacity="0.00"/><stop offset=".1116" stop-opacity="0.00"/><stop offset=".1147" stop-opacity="0.00"/><stop offset=".1177" stop-opacity="0.00"/><stop offset=".1208" stop-opacity="0.00"/><stop offset=".1239" stop-opacity="0.00"/><stop offset=".1269" stop-opacity="0.00"/><stop offset=".13" stop-opacity="0.00"/><stop offset=".133" stop-opacity="0.00"/><stop offset=".1361" stop-opacity="0.00"/><stop offset=".1391" stop-opacity="0.00"/><stop offset=".1422" stop-opacity="0.00"/><stop offset=".1453" stop-opacity="0.00"/><stop offset=".1483" stop-opacity="0.00"/><stop offset=".1514" stop-opacity="0.00"/><stop offset=".1544" stop-opacity="0.00"/><stop offset=".1575" stop-opacity="0.00"/><stop offset=".1606" stop-opacity="0.00"/><stop offset=".1636" stop-opacity="0.00"/><stop offset=".1667" stop-opacity="0.00"/><stop offset=".1697" stop-opacity="0.00"/><stop offset=".1728" stop-opacity="0.00"/><stop offset=".1758" stop-opacity="0.00"/><stop offset=".1789" stop-opacity="0.00"/><stop offset=".182" stop-opacity="0.00"/><stop offset=".185" stop-opacity="0.00"/><stop offset=".1881" stop-opacity="0.00"/><stop offset=".1911" stop-opacity="0.00"/><stop offset=".1942" stop-opacity="0.00"/><stop offset=".1972" stop-opacity="0.00"/><stop offset=".2003" stop-opacity="0.02"/><stop offset=".2034" stop-opacity="0.03"/><stop offset=".2064" stop-opacity="0.15"/><stop offset=".2095" stop-opacity="0.12"/><stop offset=".2125" stop-opacity="0.10"/><stop offset=".2156" stop-opacity="0.06"/><stop offset=".2187" stop-opacity="0.05"/><stop offset=".2217" stop-opacity="0.40"/><stop offset=".2248" stop-opacity="0.26"/><stop offset=".2278" stop-opacity="0.26"/><stop offset=".2309" stop-opacity="0.21"/><stop offset=".2339" stop-opacity="0.14"/><stop offset=".237" stop-opacity="0.05"/><stop offset=".2401" stop-opacity="0.08"/><stop offset=".2431" stop-opacity="0.20"/><stop offset=".2462" stop-opacity="0.37"/><stop offset=".2492" stop-opacity="0.46"/><stop offset=".2523" stop-opacity="0.32"/><stop offset=".2554" stop-opacity="0.12"/><stop offset=".2584" stop-opacity="0.12"/><stop offset=".2615" stop-opacity="0.13"/><stop offset=".2645" stop-opacity="0.17"/><stop offset=".2676" stop-opacity="0.14"/><stop offset=".2706" stop-opacity="0.16"/><stop offset=".2737" stop-opacity="0.35"/><stop offset=".2768" stop-opacity="0.33"/><stop offset=".2798" stop-opacity="0.37"/><stop offset=".2829" stop-opacity="0.33"/><stop offset=".2859" stop-opacity="0.40"/><stop offset=".289" stop-opacity="0.26"/><stop offset=".292" stop-opacity="0.32"/><stop offset=".2951" stop-opacity="0.21"/><stop offset=".2982" stop-opacity="0.07"/><stop offset=".3012" stop-opacity="0.07"/><stop offset=".3043" stop-opacity="0.38"/><stop offset=".3073" stop-opacity="0.26"/><stop offset=".3104" stop-opacity="0.12"/><stop offset=".3135" stop-opacity="0.12"/><stop offset=".3165" stop-opacity="0.32"/><stop offset=".3196" stop-opacity="0.23"/><stop offset=".3226" stop-opacity="0.17"/><stop offset=".3257" stop-opacity="0.06"/><stop offset=".3287" stop-opacity="0.06"/><stop offset=".3318" stop-opacity="0.05"/><stop offset=".3349" stop-opacity="0.10"/><stop offset=".3379" stop-opacity="0.10"/><stop offset=".341" stop-opacity="0.10"/><stop offset=".344" stop-opacity="0.36"/><stop offset=".3471" stop-opacity="0.25"/><stop offset=".3502" stop-opacity="0.17"/><stop offset=".3532" stop-opacity="0.06"/><stop offset=".3563" stop-opacity="0.05"/><stop offset=".3593" stop-opacity="0.09"/><stop offset=".3624" stop-opacity="0.09"/><stop offset=".3654" stop-opacity="0.07"/><stop offset=".3685" stop-opacity="0.07"/><stop offset=".3716" stop-opacity="0.08"/><stop offset=".3746" stop-opacity="0.26"/><stop offset=".3777" stop-opacity="0.22"/><stop offset=".3807" stop-opacity="0.13"/><stop offset=".3838" stop-opacity="0.13"/><stop offset=".3869" stop-opacity="0.14"/><stop offset=".3899" stop-opacity="0.12"/><stop offset=".393" stop-opacity="0.10"/><stop offset=".396" stop-opacity="0.08"/><stop offset=".3991" stop-opacity="0.44"/><stop offset=".4021" stop-opacity="0.32"/><stop offset=".4052" stop-opacity="0.23"/><stop offset=".4083" stop-opacity="0.16"/><stop offset=".4113" stop-opacity="0.11"/><stop offset=".4144" stop-opacity="0.11"/><stop offset=".4174" stop-opacity="0.09"/><stop offset=".4205" stop-opacity="0.06"/><stop offset=".4235" stop-opacity="0.06"/><stop offset=".4266" stop-opacity="0.07"/><stop offset=".4297" stop-opacity="0.16"/><stop offset=".4327" stop-opacity="0.09"/><stop offset=".4358" stop-opacity="0.09"/><stop offset=".4388" stop-opacity="0.07"/><stop offset=".4419" stop-opacity="0.03"/><stop offset=".445" stop-opacity="0.00"/><stop offset=".448" stop-opacity="0.02"/><stop offset=".4511" stop-opacity="0.04"/><stop offset=".4541" stop-opacity="0.35"/><stop offset=".4572" stop-opacity="0.26"/><stop offset=".4602" stop-opacity="0.18"/><stop offset=".4633" stop-opacity="0.07"/><stop offset=".4664" stop-opacity="0.39"/><stop offset=".4694" stop-opacity="0.28"/><stop offset=".4725" stop-opacity="0.10"/><stop offset=".4755" stop-opacity="0.09"/><stop offset=".4786" stop-opacity="0.10"/><stop offset=".4817" stop-opacity="0.13"/><stop offset=".4847" stop-opacity="0.17"/><stop offset=".4878" stop-opacity="0.13"/><stop offset=".4908" stop-opacity="0.24"/><stop offset=".4939" stop-opacity="0.21"/><stop offset=".4969" stop-opacity="0.16"/><stop offset=".5" stop-opacity="0.46"/><stop offset=".5031" stop-opacity="0.30"/><stop offset=".5061" stop-opacity="0.09"/><stop offset=".5092" stop-opacity="0.09"/><stop offset=".5122" stop-opacity="0.08"/><stop offset=".5153" stop-opacity="0.35"/><stop offset=".5183" stop-opacity="0.24"/><stop offset=".5214" stop-opacity="0.06"/><stop offset=".5245" stop-opacity="0.27"/><stop offset=".5275" stop-opacity="0.19"/><stop offset=".5306" stop-opacity="0.22"/><stop offset=".5336" stop-opacity="0.16"/><stop offset=".5367" stop-opacity="0.05"/><stop offset=".5398" stop-opacity="0.07"/><stop offset=".5428" stop-opacity="0.08"/><stop offset=".5459" stop-opacity="0.06"/><stop offset=".5489" stop-opacity="0.06"/><stop offset=".552" stop-opacity="0.06"/><stop offset=".555" stop-opacity="0.35"/><stop offset=".5581" stop-opacity="0.29"/><stop offset=".5612" stop-opacity="0.20"/><stop offset=".5642" stop-opacity="0.34"/><stop offset=".5673" stop-opacity="0.25"/><stop offset=".5703" stop-opacity="0.18"/><stop offset=".5734" stop-opacity="0.07"/><stop offset=".5765" stop-opacity="0.10"/><stop offset=".5795" stop-opacity="0.07"/><stop offset=".5826" stop-opacity="0.04"/><stop offset=".5856" stop-opacity="0.41"/><stop offset=".5887" stop-opacity="0.39"/><stop offset=".5917" stop-opacity="0.28"/><stop offset=".5948" stop-opacity="0.12"/><stop offset=".5979" stop-opacity="0.15"/><stop offset=".6009" stop-opacity="0.35"/><stop offset=".604" stop-opacity="0.24"/><stop offset=".607" stop-opacity="0.13"/><stop offset=".6101" stop-opacity="0.12"/><stop offset=".6131" stop-opacity="0.09"/><stop offset=".6162" stop-opacity="0.10"/><stop offset=".6193" stop-opacity="0.12"/><stop offset=".6223" stop-opacity="0.11"/><stop offset=".6254" stop-opacity="0.08"/><stop offset=".6284" stop-opacity="0.18"/><stop offset=".6315" stop-opacity="0.17"/><stop offset=".6346" stop-opacity="0.29"/><stop offset=".6376" stop-opacity="0.21"/><stop offset=".6407" stop-opacity="0.13"/><stop offset=".6437" stop-opacity="0.32"/><stop offset=".6468" stop-opacity="0.23"/><stop offset=".6498" stop-opacity="0.09"/><stop offset=".6529" stop-opacity="0.34"/><stop offset=".656" stop-opacity="0.32"/><stop offset=".659" stop-opacity="0.24"/><stop offset=".6621" stop-opacity="0.18"/><stop offset=".6651" stop-opacity="0.13"/><stop offset=".6682" stop-opacity="0.05"/><stop offset=".6713" stop-opacity="0.06"/><stop offset=".6743" stop-opacity="0.07"/><stop offset=".6774" stop-opacity="0.07"/><stop offset=".6804" stop-opacity="0.30"/><stop offset=".6835" stop-opacity="0.21"/><stop offset=".6865" stop-opacity="0.09"/><stop offset=".6896" stop-opacity="0.08"/><stop offset=".6927" stop-opacity="0.08"/><stop offset=".6957" stop-opacity="0.09"/><stop offset=".6988" stop-opacity="0.09"/><stop offset=".7018" stop-opacity="0.10"/><stop offset=".7049" stop-opacity="0.09"/><stop offset=".708" stop-opacity="0.08"/><stop offset=".711" stop-opacity="0.08"/><stop offset=".7141" stop-opacity="0.12"/><stop offset=".7171" stop-opacity="0.11"/><stop offset=".7202" stop-opacity="0.08"/><stop offset=".7232" stop-opacity="0.09"/><stop offset=".7263" stop-opacity="0.10"/><stop offset=".7294" stop-opacity="0.11"/><stop offset=".7324" stop-opacity="0.09"/><stop offset=".7355" stop-opacity="0.20"/><stop offset=".7385" stop-opacity="0.14"/><stop offset=".7416" stop-opacity="0.36"/><stop offset=".7446" stop-opacity="0.23"/><stop offset=".7477" stop-opacity="0.06"/><stop offset=".7508" stop-opacity="0.13"/><stop offset=".7538" stop-opacity="0.12"/><stop offset=".7569" stop-opacity="0.22"/><stop offset=".7599" stop-opacity="0.14"/><stop offset=".763" stop-opacity="0.11"/><stop offset=".7661" stop-opacity="0.16"/><stop offset=".7691" stop-opacity="0.10"/><stop offset=".7722" stop-opacity="0.05"/><stop offset=".7752" stop-opacity="0.06"/><stop offset=".7783" stop-opacity="0.05"/><stop offset=".7813" stop-opacity="0.16"/><stop offset=".7844" stop-opacity="0.09"/><stop offset=".7875" stop-opacity="0.11"/><stop offset=".7905" stop-opacity="0.07"/><stop offset=".7936" stop-opacity="0.02"/><stop offset=".7966" stop-opacity="0.02"/><stop offset=".7997" stop-opacity="0.02"/><stop offset=".8028" stop-opacity="0.03"/><stop offset=".8058" stop-opacity="0.10"/><stop offset=".8089" stop-opacity="0.05"/><stop offset=".8119" stop-opacity="0.01"/><stop offset=".815" stop-opacity="0.01"/><stop offset=".818" stop-opacity="0.00"/><stop offset=".8211" stop-opacity="0.00"/><stop offset=".8242" stop-opacity="0.00"/><stop offset=".8272" stop-opacity="0.00"/><stop offset=".8303" stop-opacity="0.00"/><stop offset=".8333" stop-opacity="0.00"/><stop offset=".8364" stop-opacity="0.00"/><stop offset=".8394" stop-opacity="0.00"/><stop offset=".8425" stop-opacity="0.00"/><stop offset=".8456" stop-opacity="0.00"/><stop offset=".8486" stop-opacity="0.00"/><stop offset=".8517" stop-opacity="0.00"/><stop offset=".8547" stop-opacity="0.00"/><stop offset=".8578" stop-opacity="0.00"/><stop offset=".8609" stop-opacity="0.00"/><stop offset=".8639" stop-opacity="0.00"/><stop offset=".867" stop-opacity="0.00"/><stop offset=".87" stop-opacity="0.00"/><stop offset=".8731" stop-opacity="0.00"/><stop offset=".8761" stop-opacity="0.00"/><stop offset=".8792" stop-opacity="0.00"/><stop offset=".8823" stop-opacity="0.00"/><stop offset=".8853" stop-opacity="0.00"/><stop offset=".8884" stop-opacity="0.00"/><stop offset=".8914" stop-opacity="0.00"/><stop offset=".8945" stop-opacity="0.00"/><stop offset=".8976" stop-opacity="0.00"/><stop offset=".9006" stop-opacity="0.00"/><stop offset=".9037" stop-opacity="0.00"/><stop offset=".9067" stop-opacity="0.00"/><stop offset=".9098" stop-opacity="0.00"/><stop offset=".9128" stop-opacity="0.00"/><stop offset=".9159" stop-opacity="0.00"/><stop offset=".919" stop-opacity="0.00"/><stop offset=".922" stop-opacity="0.00"/><stop offset=".9251" stop-opacity="0.00"/><stop offset=".9281" stop-opacity="0.00"/><stop offset=".9312" stop-opacity="0.00"/><stop offset=".9343" stop-opacity="0.00"/><stop offset=".9373" stop-opacity="0.00"/><stop offset=".9404" stop-opacity="0.00"/><stop offset=".9434" stop-opacity="0.00"/><stop offset=".9465" stop-opacity="0.00"/><stop offset=".9495" stop-opacity="0.00"/><stop offset=".9526" stop-opacity="0.00"/><stop offset=".9557" stop-opacity="0.00"/><stop offset=".9587" stop-opacity="0.00"/><stop offset=".9618" stop-opacity="0.00"/><stop offset=".9648" stop-opacity="0.00"/><stop offset=".9679" stop-opacity="0.00"/><stop offset=".9709" stop-opacity="0.00"/><stop offset=".974" stop-opacity="0.00"/><stop offset=".9771" stop-opacity="0.00"/><stop offset=".9801" stop-opacity="0.00"/><stop offset=".9832" stop-opacity="0.00"/><stop offset=".9862" stop-opacity="0.00"/><stop offset=".9893" stop-opacity="0.00"/><stop offset=".9924" stop-opacity="0.00"/><stop offset=".9954" stop-opacity="0.00"/><stop offset=".9985" stop-opacity="0.00"/></linearGradient>
<clipPath id="cL"><rect x="46" y="0" width="269" height="395.6"/></clipPath>
<clipPath id="cR"><rect x="326" y="0" width="269" height="395.6"/></clipPath>
</defs>
<rect width="640" height="440" fill="#fff"/>
<g shape-rendering="crispEdges">
<rect x="49" y="27.85" width="266" height="17.01" fill="url(#gL0)"/>
<rect x="49" y="44.56" width="266" height="17.01" fill="url(#gL1)"/>
<rect x="49" y="61.27" width="266" height="17.01" fill="url(#gL2)"/>
<rect x="49" y="77.98" width="266" height="17.01" fill="url(#gL3)"/>
<rect x="49" y="94.69" width="266" height="17.01" fill="url(#gL4)"/>
<rect x="49" y="111.40" width="266" height="17.01" fill="url(#gL5)"/>
<rect x="49" y="128.10" width="266" height="17.01" fill="url(#gL6)"/>
<rect x="49" y="144.81" width="266" height="17.01" fill="url(#gL7)"/>
<rect x="49" y="161.52" width="266" height="17.01" fill="url(#gL8)"/>
<rect x="49" y="178.23" width="266" height="17.01" fill="url(#gL9)"/>
<rect x="49" y="194.94" width="266" height="17.01" fill="url(#gL10)"/>
<rect x="49" y="211.65" width="266" height="17.01" fill="url(#gL11)"/>
<rect x="49" y="228.36" width="266" height="17.01" fill="url(#gL12)"/>
<rect x="49" y="245.07" width="266" height="17.01" fill="url(#gL13)"/>
<rect x="49" y="261.78" width="266" height="17.01" fill="url(#gL14)"/>
<rect x="49" y="278.49" width="266" height="17.01" fill="url(#gL15)"/>
<rect x="49" y="295.20" width="266" height="17.01" fill="url(#gL16)"/>
<rect x="49" y="311.90" width="266" height="17.01" fill="url(#gL17)"/>
<rect x="49" y="328.61" width="266" height="17.01" fill="url(#gL18)"/>
<rect x="49" y="345.32" width="266" height="17.01" fill="url(#gL19)"/>
<rect x="49" y="362.03" width="266" height="17.01" fill="url(#gL20)"/>
<rect x="49" y="378.74" width="266" height="17.01" fill="url(#gL21)"/>
<rect x="329" y="27.85" width="266" height="17.01" fill="url(#gR0)"/>
<rect x="329" y="44.56" width="266" height="17.01" fill="url(#gR1)"/>
<rect x="329" y="61.27" width="266" height="17.01" fill="url(#gR2)"/>
<rect x="329" y="77.98" width="266" height="17.01" fill="url(#gR3)"/>
<rect x="329" y="94.69" width="266" height="17.01" fill="url(#gR4)"/>
<rect x="329" y="111.40" width="266" height="17.01" fill="url(#gR5)"/>
<rect x="329" y="128.10" width="266" height="17.01" fill="url(#gR6)"/>
<rect x="329" y="144.81" width="266" height="17.01" fill="url(#gR7)"/>
<rect x="329" y="161.52" width="266" height="17.01" fill="url(#gR8)"/>
<rect x="329" y="178.23" width="266" height="17.01" fill="url(#gR9)"/>
<rect x="329" y="194.94" width="266" height="17.01" fill="url(#gR10)"/>
<rect x="329" y="211.65" width="266" height="17.01" fill="url(#gR11)"/>
<rect x="329" y="228.36" width="266" height="17.01" fill="url(#gR12)"/>
<rect x="329" y="245.07" width="266" height="17.01" fill="url(#gR13)"/>
<rect x="329" y="261.78" width="266" height="17.01" fill="url(#gR14)"/>
<rect x="329" y="278.49" width="266" height="17.01" fill="url(#gR15)"/>
<rect x="329" y="295.20" width="266" height="17.01" fill="url(#gR16)"/>
<rect x="329" y="311.90" width="266" height="17.01" fill="url(#gR17)"/>
<rect x="329" y="328.61" width="266" height="17.01" fill="url(#gR18)"/>
<rect x="329" y="345.32" width="266" height="17.01" fill="url(#gR19)"/>
<rect x="329" y="362.03" width="266" height="17.01" fill="url(#gR20)"/>
<rect x="329" y="378.74" width="266" height="17.01" fill="url(#gR21)"/>
<rect x="49" y="28" width="266" height="367.6" fill="url(#nA)"/>
<rect x="49" y="44.71" width="266" height="16.71" fill="url(#nB)"/>
<rect x="49" y="61.42" width="266" height="16.71" fill="url(#nB)"/>
<rect x="49" y="345.47" width="266" height="16.71" fill="url(#nB)"/>
<rect x="329" y="28" width="266" height="367.6" fill="url(#nA)"/>
<rect x="329" y="61.42" width="266" height="16.71" fill="url(#nB)"/>
<rect x="329" y="345.47" width="266" height="16.71" fill="url(#nB)"/>
<rect x="329" y="362.18" width="266" height="16.71" fill="url(#nB)"/>
</g>
<g clip-path="url(#cL)" fill="none" stroke="#fff" stroke-width="2.3" stroke-linejoin="round">
<path d="M49.4 284.0L50.2 284.0L51.0 284.0L51.8 283.9L52.7 283.9L53.5 284.0L54.3 284.1L55.1 284.0L55.9 284.0L56.7 284.0L57.5 284.0L58.4 284.0L59.2 283.9L60.0 283.9L60.8 283.9L61.6 284.0L62.4 284.0L63.2 284.1L64.0 284.0L64.9 284.0L65.7 283.9L66.5 283.9L67.3 283.9L68.1 284.0L68.9 284.0L69.7 283.9L70.6 284.0L71.4 283.9L72.2 283.9L73.0 283.9L73.8 283.9L74.6 283.9L75.4 284.0L76.3 283.9L77.1 284.0L77.9 283.9L78.7 283.9L79.5 283.9L80.3 284.0L81.1 284.1L81.9 284.0L82.8 284.0L83.6 284.0L84.4 284.0L85.2 284.0L86.0 284.0L86.8 284.0L87.6 284.0L88.5 284.0L89.3 284.0L90.1 284.0L90.9 284.0L91.7 284.1L92.5 284.0L93.3 283.9L94.1 283.9L95.0 283.9L95.8 283.9L96.6 284.0L97.4 284.0L98.2 284.0L99.0 283.9L99.8 283.9L100.7 283.1L101.5 282.3L102.3 281.4L103.1 275.5L103.9 269.8L104.7 264.1L105.5 258.4L106.3 253.7L107.2 249.0L108.0 244.4L108.8 239.7L109.6 235.9L110.4 232.1L111.2 228.2L112.0 224.5L112.9 222.1L113.7 219.9L114.5 218.0L115.3 216.5L116.1 214.8L116.9 213.9L117.7 212.5L118.6 210.8L119.4 208.4L120.2 205.9L121.0 204.0L121.8 202.5L122.6 201.0L123.4 199.7L124.2 198.6L125.1 197.6L125.9 196.6L126.7 196.0L127.5 195.5L128.3 194.8L129.1 194.5L129.9 194.2L130.8 194.3L131.6 194.3L132.4 194.6L133.2 194.7L134.0 194.7L134.8 194.5L135.6 193.9L136.4 193.6L137.3 192.9L138.1 192.4L138.9 192.1L139.7 192.0L140.5 192.1L141.3 192.5L142.1 192.7L143.0 193.1L143.8 193.2L144.6 193.2L145.4 193.0L146.2 192.6L147.0 191.8L147.8 190.9L148.6 190.0L149.5 189.6L150.3 188.7L151.1 187.8L151.9 187.0L152.7 186.7L153.5 186.8L154.3 187.2L155.2 187.6L156.0 187.8L156.8 187.6L157.6 187.0L158.4 185.8L159.2 184.4L160.0 183.1L160.9 182.1L161.7 180.9L162.5 180.0L163.3 179.0L164.1 178.3L164.9 177.5L165.7 177.1L166.5 177.0L167.4 176.5L168.2 175.7L169.0 175.2L169.8 174.7L170.6 174.0L171.4 173.2L172.2 172.2L173.1 171.8L173.9 171.5L174.7 171.1L175.5 170.5L176.3 169.9L177.1 169.4L177.9 170.6L178.7 171.2L179.6 172.3L180.4 173.1L181.2 174.5L182.0 174.5L182.8 174.5L183.6 174.9L184.4 175.3L185.3 175.9L186.1 176.0L186.9 176.8L187.7 177.1L188.5 177.0L189.3 176.7L190.1 177.2L190.9 178.1L191.8 180.2L192.6 182.7L193.4 185.6L194.2 187.8L195.0 189.2L195.8 190.2L196.6 191.3L197.5 192.2L198.3 193.6L199.1 195.3L199.9 197.0L200.7 197.8L201.5 198.6L202.3 199.7L203.1 200.7L204.0 201.8L204.8 203.1L205.6 205.0L206.4 207.4L207.2 209.4L208.0 211.0L208.8 212.0L209.7 213.1L210.5 214.6L211.3 216.8L212.1 219.2L212.9 221.3L213.7 223.4L214.5 225.4L215.4 227.3L216.2 228.2L217.0 229.2L217.8 230.4L218.6 231.8L219.4 233.2L220.2 234.6L221.0 235.7L221.9 236.6L222.7 237.4L223.5 238.1L224.3 239.0L225.1 239.9L225.9 240.9L226.7 241.7L227.6 242.8L228.4 243.7L229.2 244.7L230.0 245.4L230.8 246.2L231.6 246.9L232.4 247.6L233.2 248.2L234.1 249.0L234.9 250.0L235.7 251.3L236.5 252.5L237.3 253.5L238.1 254.3L238.9 255.3L239.8 256.4L240.6 257.4L241.4 258.3L242.2 259.2L243.0 260.3L243.8 261.5L244.6 262.7L245.4 263.7L246.3 265.0L247.1 210.3L247.9 184.1L248.7 265.2L249.5 267.8L250.3 268.3L251.1 268.4L252.0 215.3L252.8 266.7L253.6 269.1L254.4 261.7L255.2 269.6L256.0 266.4L256.8 270.2L257.7 252.2L258.5 214.2L259.3 235.3L260.1 259.2L260.9 272.2L261.7 256.5L262.5 208.5L263.3 263.0L264.2 273.6L265.0 273.9L265.8 274.1L266.6 275.2L267.4 254.7L268.2 277.6L269.0 278.7L269.9 278.8L270.7 279.0L271.5 279.1L272.3 279.2L273.1 279.3L273.9 279.4L274.7 279.5L275.5 279.6L276.4 279.7L277.2 279.9L278.0 280.1L278.8 280.2L279.6 280.3L280.4 280.4L281.2 280.6L282.1 280.7L282.9 280.9L283.7 281.0L284.5 281.1L285.3 281.1L286.1 281.2L286.9 281.3L287.7 281.4L288.6 281.5L289.4 281.5L290.2 281.6L291.0 281.8L291.8 281.9L292.6 282.0L293.4 282.0L294.3 282.1L295.1 282.3L295.9 282.4L296.7 282.5L297.5 282.6L298.3 282.8L299.1 282.8L300.0 282.9L300.8 283.0L301.6 283.1L302.4 283.2L303.2 283.3L304.0 283.3L304.8 283.5L305.6 283.6L306.5 283.7L307.3 283.9L308.1 283.9L308.9 284.0L309.7 284.0L310.5 284.1L311.3 284.1L312.2 284.1L313.0 284.1L313.8 284.2L314.6 284.2"/>
<path d="M49.4 283.7L50.2 283.7L51.0 283.6L51.8 283.6L52.7 283.6L53.5 283.6L54.3 283.7L55.1 283.7L55.9 283.7L56.7 283.7L57.5 283.7L58.4 283.7L59.2 283.6L60.0 283.7L60.8 283.7L61.6 283.7L62.4 283.7L63.2 283.6L64.0 283.7L64.9 283.7L65.7 283.7L66.5 283.6L67.3 283.7L68.1 283.6L68.9 283.7L69.7 283.7L70.6 283.8L71.4 283.7L72.2 283.7L73.0 283.7L73.8 283.7L74.6 283.7L75.4 283.6L76.3 283.6L77.1 283.6L77.9 283.7L78.7 283.8L79.5 283.7L80.3 283.7L81.1 283.6L81.9 283.7L82.8 283.7L83.6 283.7L84.4 283.6L85.2 283.7L86.0 283.6L86.8 283.7L87.6 283.7L88.5 283.7L89.3 283.7L90.1 283.7L90.9 283.7L91.7 283.7L92.5 283.6L93.3 283.6L94.1 283.6L95.0 283.6L95.8 283.6L96.6 283.7L97.4 283.7L98.2 283.7L99.0 283.7L99.8 283.7L100.7 282.9L101.5 282.2L102.3 281.4L103.1 275.8L103.9 270.2L104.7 264.6L105.5 259.0L106.3 254.2L107.2 249.6L108.0 244.8L108.8 239.9L109.6 235.8L110.4 231.8L111.2 227.6L112.0 223.3L112.9 220.4L113.7 217.5L114.5 214.8L115.3 212.1L116.1 209.9L116.9 209.0L117.7 208.1L118.6 206.9L119.4 205.7L120.2 204.2L121.0 203.2L121.8 202.4L122.6 202.0L123.4 200.9L124.2 199.7L125.1 198.3L125.9 197.0L126.7 195.7L127.5 194.1L128.3 193.2L129.1 193.1L129.9 193.5L130.8 194.0L131.6 194.2L132.4 194.2L133.2 194.5L134.0 194.7L134.8 194.9L135.6 194.8L136.4 194.8L137.3 195.3L138.1 195.3L138.9 195.1L139.7 194.2L140.5 193.4L141.3 192.5L142.1 191.5L143.0 190.8L143.8 190.1L144.6 190.1L145.4 190.5L146.2 191.2L147.0 191.6L147.8 191.3L148.6 191.3L149.5 191.1L150.3 190.9L151.1 190.3L151.9 189.7L152.7 189.1L153.5 188.1L154.3 187.1L155.2 186.3L156.0 185.5L156.8 184.9L157.6 184.2L158.4 183.6L159.2 182.8L160.0 182.0L160.9 181.0L161.7 180.0L162.5 179.4L163.3 178.8L164.1 178.5L164.9 177.6L165.7 176.9L166.5 175.8L167.4 175.2L168.2 174.3L169.0 173.9L169.8 173.0L170.6 171.9L171.4 171.0L172.2 170.6L173.1 170.1L173.9 169.3L174.7 168.8L175.5 168.7L176.3 168.8L177.1 169.1L177.9 170.5L178.7 172.1L179.6 173.6L180.4 175.1L181.2 175.6L182.0 175.0L182.8 174.4L183.6 174.4L184.4 173.7L185.3 173.1L186.1 172.4L186.9 173.1L187.7 174.0L188.5 174.8L189.3 175.9L190.1 177.0L190.9 178.3L191.8 179.2L192.6 180.1L193.4 181.4L194.2 182.9L195.0 184.9L195.8 186.7L196.6 188.7L197.5 190.3L198.3 191.5L199.1 192.4L199.9 193.7L200.7 194.9L201.5 196.7L202.3 198.5L203.1 200.4L204.0 202.0L204.8 203.4L205.6 205.1L206.4 206.9L207.2 208.6L208.0 210.1L208.8 211.5L209.7 213.2L210.5 215.0L211.3 217.2L212.1 219.4L212.9 221.4L213.7 223.7L214.5 225.5L215.4 227.1L216.2 227.6L217.0 228.4L217.8 229.6L218.6 230.6L219.4 231.8L220.2 232.9L221.0 233.8L221.9 234.5L222.7 235.2L223.5 236.0L224.3 236.7L225.1 237.6L225.9 238.5L226.7 239.5L227.6 240.4L228.4 241.5L229.2 242.6L230.0 243.5L230.8 244.5L231.6 245.5L232.4 246.5L233.2 247.4L234.1 248.2L234.9 249.3L235.7 250.4L236.5 251.4L237.3 252.5L238.1 253.6L238.9 255.1L239.8 256.5L240.6 257.6L241.4 258.8L242.2 259.8L243.0 260.9L243.8 261.8L244.6 262.9L245.4 263.8L246.3 264.9L247.1 214.6L247.9 184.4L248.7 251.9L249.5 262.9L250.3 267.5L251.1 267.8L252.0 235.4L252.8 253.1L253.6 268.8L254.4 262.8L255.2 269.4L256.0 260.9L256.8 270.0L257.7 264.7L258.5 220.9L259.3 226.3L260.1 259.8L260.9 271.9L261.7 258.5L262.5 220.9L263.3 265.5L264.2 272.8L265.0 273.2L265.8 273.6L266.6 274.8L267.4 249.2L268.2 277.3L269.0 278.4L269.9 278.5L270.7 278.6L271.5 278.7L272.3 278.9L273.1 279.1L273.9 279.3L274.7 279.4L275.5 279.4L276.4 279.6L277.2 279.7L278.0 279.8L278.8 279.9L279.6 280.0L280.4 280.1L281.2 280.2L282.1 280.4L282.9 280.5L283.7 280.6L284.5 280.8L285.3 280.8L286.1 280.9L286.9 281.0L287.7 281.0L288.6 281.1L289.4 281.2L290.2 281.3L291.0 281.4L291.8 281.5L292.6 281.7L293.4 281.8L294.3 281.9L295.1 282.0L295.9 282.0L296.7 282.1L297.5 282.2L298.3 282.3L299.1 282.4L300.0 282.5L300.8 282.6L301.6 282.6L302.4 282.8L303.2 282.8L304.0 283.0L304.8 283.1L305.6 283.3L306.5 283.4L307.3 283.5L308.1 283.6L308.9 283.6L309.7 283.7L310.5 283.7L311.3 283.7L312.2 283.7L313.0 283.9L313.8 283.9L314.6 283.9"/>
<path d="M49.4 284.0L50.2 284.0L51.0 284.0L51.8 284.0L52.7 284.0L53.5 284.0L54.3 284.0L55.1 284.0L55.9 284.0L56.7 284.0L57.5 284.0L58.4 284.0L59.2 283.9L60.0 283.9L60.8 283.9L61.6 284.0L62.4 284.0L63.2 284.0L64.0 284.1L64.9 284.0L65.7 284.0L66.5 284.0L67.3 284.0L68.1 284.0L68.9 284.0L69.7 283.9L70.6 283.9L71.4 283.8L72.2 283.9L73.0 284.0L73.8 283.9L74.6 284.0L75.4 284.0L76.3 284.0L77.1 284.0L77.9 284.0L78.7 284.0L79.5 284.0L80.3 284.0L81.1 283.9L81.9 283.9L82.8 283.9L83.6 284.0L84.4 284.0L85.2 284.0L86.0 284.0L86.8 284.1L87.6 284.0L88.5 284.0L89.3 284.0L90.1 284.0L90.9 284.0L91.7 284.0L92.5 283.9L93.3 283.9L94.1 283.9L95.0 284.0L95.8 284.0L96.6 284.0L97.4 284.0L98.2 283.9L99.0 284.0L99.8 283.9L100.7 283.1L101.5 282.3L102.3 281.6L103.1 275.9L103.9 270.3L104.7 264.6L105.5 258.9L106.3 254.0L107.2 249.1L108.0 244.0L108.8 238.9L109.6 235.1L110.4 231.4L111.2 228.0L112.0 224.4L112.9 221.5L113.7 218.6L114.5 215.3L115.3 212.2L116.1 208.8L116.9 206.6L117.7 204.3L118.6 202.3L119.4 200.4L120.2 198.7L121.0 197.1L121.8 196.3L122.6 195.3L123.4 194.9L124.2 194.6L125.1 194.8L125.9 195.1L126.7 195.4L127.5 195.4L128.3 194.8L129.1 194.5L129.9 194.1L130.8 193.5L131.6 193.5L132.4 194.0L133.2 194.8L134.0 195.3L134.8 195.3L135.6 195.0L136.4 194.0L137.3 193.1L138.1 192.2L138.9 191.9L139.7 192.1L140.5 192.5L141.3 193.0L142.1 192.7L143.0 192.7L143.8 192.3L144.6 191.6L145.4 190.6L146.2 189.9L147.0 189.2L147.8 188.7L148.6 188.0L149.5 187.7L150.3 186.9L151.1 186.4L151.9 185.8L152.7 185.4L153.5 184.8L154.3 184.6L155.2 184.3L156.0 184.2L156.8 183.9L157.6 184.1L158.4 183.6L159.2 182.7L160.0 181.6L160.9 180.3L161.7 179.4L162.5 178.4L163.3 177.8L164.1 177.2L164.9 176.6L165.7 176.2L166.5 175.4L167.4 174.5L168.2 173.3L169.0 172.0L169.8 170.7L170.6 169.6L171.4 168.7L172.2 168.4L173.1 167.9L173.9 167.8L174.7 167.6L175.5 167.7L176.3 167.7L177.1 167.3L177.9 168.5L178.7 169.7L179.6 171.3L180.4 172.6L181.2 173.7L182.0 173.5L182.8 173.2L183.6 173.2L184.4 173.3L185.3 173.6L186.1 174.0L186.9 174.7L187.7 175.6L188.5 175.6L189.3 176.0L190.1 176.2L190.9 176.9L191.8 178.1L192.6 179.4L193.4 181.1L194.2 182.4L195.0 183.8L195.8 185.1L196.6 186.4L197.5 187.6L198.3 188.7L199.1 190.3L199.9 191.9L200.7 193.8L201.5 195.5L202.3 197.2L203.1 198.3L204.0 200.2L204.8 202.3L205.6 204.7L206.4 207.2L207.2 209.6L208.0 211.6L208.8 213.2L209.7 214.0L210.5 215.4L211.3 216.5L212.1 218.3L212.9 220.4L213.7 222.7L214.5 225.1L215.4 227.1L216.2 228.3L217.0 229.2L217.8 230.1L218.6 231.1L219.4 231.9L220.2 232.8L221.0 233.6L221.9 234.8L222.7 236.0L223.5 237.1L224.3 238.0L225.1 238.7L225.9 239.4L226.7 240.5L227.6 241.4L228.4 242.4L229.2 243.0L230.0 243.7L230.8 244.6L231.6 245.5L232.4 246.3L233.2 247.2L234.1 248.1L234.9 249.3L235.7 250.4L236.5 251.5L237.3 252.4L238.1 253.4L238.9 254.4L239.8 255.4L240.6 256.3L241.4 257.4L242.2 258.6L243.0 260.1L243.8 261.4L244.6 262.6L245.4 263.5L246.3 264.5L247.1 220.0L247.9 220.7L248.7 262.8L249.5 266.4L250.3 267.4L251.1 267.8L252.0 228.2L252.8 258.0L253.6 268.8L254.4 265.4L255.2 269.2L256.0 260.2L256.8 269.9L257.7 251.6L258.5 216.4L259.3 223.2L260.1 252.8L260.9 271.6L261.7 265.8L262.5 238.2L263.3 253.5L264.2 273.2L265.0 273.5L265.8 273.9L266.6 275.0L267.4 250.4L268.2 277.1L269.0 278.2L269.9 278.3L270.7 278.5L271.5 278.6L272.3 278.9L273.1 279.0L273.9 279.2L274.7 279.3L275.5 279.5L276.4 279.7L277.2 279.8L278.0 279.9L278.8 280.0L279.6 280.0L280.4 280.1L281.2 280.2L282.1 280.3L282.9 280.4L283.7 280.5L284.5 280.7L285.3 280.8L286.1 281.0L286.9 281.1L287.7 281.2L288.6 281.3L289.4 281.4L290.2 281.5L291.0 281.6L291.8 281.8L292.6 281.9L293.4 281.9L294.3 281.9L295.1 282.0L295.9 282.1L296.7 282.2L297.5 282.4L298.3 282.6L299.1 282.6L300.0 282.7L300.8 282.8L301.6 282.9L302.4 283.0L303.2 283.2L304.0 283.3L304.8 283.4L305.6 283.5L306.5 283.6L307.3 283.8L308.1 283.9L308.9 283.9L309.7 283.9L310.5 284.0L311.3 284.0L312.2 284.1L313.0 284.1L313.8 284.2L314.6 284.3"/>
<path d="M49.4 284.3L50.2 284.3L51.0 284.3L51.8 284.3L52.7 284.3L53.5 284.2L54.3 284.2L55.1 284.3L55.9 284.3L56.7 284.3L57.5 284.3L58.4 284.3L59.2 284.2L60.0 284.2L60.8 284.1L61.6 284.2L62.4 284.2L63.2 284.2L64.0 284.3L64.9 284.3L65.7 284.2L66.5 284.2L67.3 284.3L68.1 284.3L68.9 284.2L69.7 284.2L70.6 284.2L71.4 284.2L72.2 284.2L73.0 284.2L73.8 284.3L74.6 284.2L75.4 284.2L76.3 284.2L77.1 284.2L77.9 284.2L78.7 284.2L79.5 284.2L80.3 284.2L81.1 284.2L81.9 284.3L82.8 284.3L83.6 284.3L84.4 284.3L85.2 284.2L86.0 284.2L86.8 284.2L87.6 284.2L88.5 284.2L89.3 284.3L90.1 284.3L90.9 284.3L91.7 284.2L92.5 284.2L93.3 284.2L94.1 284.3L95.0 284.3L95.8 284.3L96.6 284.2L97.4 284.2L98.2 284.2L99.0 284.2L99.8 284.2L100.7 283.3L101.5 282.5L102.3 281.7L103.1 276.0L103.9 270.3L104.7 264.7L105.5 259.1L106.3 254.5L107.2 250.1L108.0 245.3L108.8 240.2L109.6 235.9L110.4 231.7L111.2 227.6L112.0 223.2L112.9 220.0L113.7 216.9L114.5 213.6L115.3 210.1L116.1 206.9L116.9 205.6L117.7 204.4L118.6 203.3L119.4 202.5L120.2 201.9L121.0 200.9L121.8 200.3L122.6 199.8L123.4 199.2L124.2 198.7L125.1 197.9L125.9 197.5L126.7 196.3L127.5 195.2L128.3 193.8L129.1 193.1L129.9 192.4L130.8 192.1L131.6 192.2L132.4 192.5L133.2 192.4L134.0 192.0L134.8 190.8L135.6 189.5L136.4 188.5L137.3 187.9L138.1 188.1L138.9 188.4L139.7 189.2L140.5 189.2L141.3 189.4L142.1 188.7L143.0 188.4L143.8 188.0L144.6 187.5L145.4 186.9L146.2 186.1L147.0 185.8L147.8 185.7L148.6 -292.0L149.5 185.8L150.3 185.4L151.1 185.0L151.9 183.8L152.7 183.2L153.5 182.2L154.3 181.5L155.2 180.9L156.0 180.7L156.8 180.5L157.6 180.1L158.4 179.5L159.2 179.2L160.0 178.8L160.9 178.0L161.7 176.8L162.5 175.9L163.3 175.6L164.1 175.2L164.9 175.1L165.7 174.8L166.5 174.4L167.4 173.5L168.2 172.4L169.0 171.2L169.8 170.2L170.6 169.2L171.4 168.3L172.2 167.9L173.1 167.3L173.9 167.4L174.7 167.2L175.5 167.1L176.3 166.4L177.1 166.2L177.9 167.4L178.7 169.0L179.6 170.3L180.4 171.6L181.2 172.7L182.0 172.6L182.8 172.3L183.6 172.0L184.4 172.0L185.3 172.3L186.1 172.4L186.9 173.3L187.7 174.0L188.5 175.0L189.3 175.7L190.1 176.6L190.9 177.7L191.8 179.0L192.6 180.5L193.4 181.8L194.2 182.8L195.0 183.9L195.8 185.2L196.6 186.8L197.5 188.7L198.3 190.2L199.1 192.2L199.9 193.8L200.7 195.7L201.5 197.7L202.3 199.5L203.1 200.8L204.0 201.5L204.8 202.1L205.6 202.6L206.4 203.7L207.2 205.2L208.0 207.1L208.8 209.1L209.7 211.0L210.5 212.8L211.3 215.0L212.1 217.2L212.9 219.3L213.7 221.6L214.5 223.7L215.4 225.9L216.2 227.2L217.0 228.5L217.8 229.6L218.6 230.4L219.4 231.1L220.2 232.1L221.0 232.8L221.9 234.0L222.7 235.0L223.5 236.1L224.3 237.1L225.1 238.0L225.9 239.1L226.7 239.9L227.6 240.8L228.4 241.5L229.2 242.2L230.0 243.1L230.8 244.0L231.6 245.5L232.4 246.7L233.2 248.1L234.1 249.1L234.9 250.0L235.7 250.8L236.5 251.6L237.3 252.4L238.1 253.1L238.9 254.0L239.8 254.9L240.6 256.0L241.4 257.0L242.2 258.1L243.0 259.2L243.8 260.5L244.6 261.7L245.4 262.6L246.3 263.7L247.1 193.8L247.9 209.3L248.7 243.0L249.5 260.2L250.3 266.9L251.1 267.3L252.0 233.1L252.8 266.5L253.6 268.3L254.4 260.3L255.2 268.9L256.0 263.2L256.8 269.6L257.7 263.3L258.5 214.1L259.3 245.9L260.1 258.5L260.9 271.7L261.7 263.8L262.5 217.0L263.3 267.7L264.2 272.8L265.0 273.2L265.8 273.5L266.6 274.8L267.4 256.6L268.2 277.2L269.0 278.3L269.9 278.4L270.7 278.6L271.5 278.8L272.3 279.1L273.1 279.2L273.9 279.4L274.7 279.4L275.5 279.6L276.4 279.7L277.2 279.8L278.0 279.8L278.8 280.0L279.6 280.2L280.4 280.4L281.2 280.5L282.1 280.6L282.9 280.7L283.7 280.8L284.5 280.8L285.3 280.9L286.1 281.0L286.9 281.1L287.7 281.3L288.6 281.4L289.4 281.5L290.2 281.5L291.0 281.6L291.8 281.7L292.6 281.8L293.4 282.0L294.3 282.1L295.1 282.2L295.9 282.3L296.7 282.5L297.5 282.5L298.3 282.7L299.1 282.8L300.0 283.0L300.8 283.1L301.6 283.2L302.4 283.3L303.2 283.5L304.0 283.5L304.8 283.7L305.6 283.7L306.5 283.8L307.3 283.9L308.1 284.0L308.9 284.1L309.7 284.1L310.5 284.2L311.3 284.1L312.2 284.2L313.0 284.3L313.8 284.4L314.6 284.5"/>
<path d="M49.4 284.4L50.2 284.4L51.0 284.4L51.8 284.4L52.7 284.4L53.5 284.4L54.3 284.4L55.1 284.4L55.9 284.3L56.7 284.4L57.5 284.4L58.4 284.4L59.2 284.4L60.0 284.4L60.8 284.4L61.6 284.4L62.4 284.4L63.2 284.5L64.0 284.4L64.9 284.4L65.7 284.4L66.5 284.4L67.3 284.4L68.1 284.4L68.9 284.4L69.7 284.4L70.6 284.5L71.4 284.4L72.2 284.4L73.0 284.4L73.8 284.4L74.6 284.4L75.4 284.4L76.3 284.4L77.1 284.5L77.9 284.4L78.7 284.4L79.5 284.4L80.3 284.5L81.1 284.4L81.9 284.4L82.8 284.4L83.6 284.3L84.4 284.3L85.2 284.3L86.0 284.3L86.8 284.4L87.6 284.4L88.5 284.4L89.3 284.3L90.1 284.4L90.9 284.4L91.7 284.4L92.5 284.3L93.3 284.3L94.1 284.3L95.0 284.4L95.8 284.4L96.6 284.5L97.4 284.5L98.2 284.5L99.0 284.4L99.8 284.4L100.7 283.6L101.5 282.8L102.3 282.0L103.1 276.1L103.9 270.2L104.7 264.3L105.5 258.3L106.3 253.0L107.2 247.6L108.0 242.3L108.8 237.1L109.6 233.1L110.4 229.1L111.2 225.0L112.0 221.2L112.9 218.7L113.7 216.3L114.5 214.0L115.3 211.6L116.1 208.5L116.9 206.3L117.7 203.9L118.6 201.5L119.4 199.6L120.2 198.2L121.0 197.4L121.8 197.2L122.6 196.8L123.4 196.1L124.2 195.0L125.1 193.3L125.9 192.1L126.7 191.1L127.5 190.5L128.3 190.1L129.1 189.9L129.9 190.4L130.8 191.4L131.6 192.8L132.4 193.4L133.2 193.5L134.0 193.0L134.8 192.2L135.6 191.2L136.4 190.3L137.3 189.9L138.1 189.4L138.9 189.1L139.7 188.9L140.5 188.9L141.3 189.4L142.1 189.8L143.0 189.9L143.8 190.2L144.6 190.1L145.4 190.1L146.2 189.4L147.0 189.1L147.8 188.6L148.6 188.5L149.5 188.2L150.3 188.1L151.1 187.9L151.9 187.8L152.7 187.1L153.5 186.0L154.3 184.5L155.2 183.2L156.0 181.4L156.8 179.9L157.6 178.7L158.4 177.8L159.2 177.2L160.0 176.3L160.9 175.2L161.7 174.2L162.5 173.4L163.3 173.6L164.1 173.2L164.9 173.5L165.7 173.2L166.5 173.2L167.4 172.2L168.2 171.4L169.0 170.4L169.8 169.8L170.6 168.9L171.4 168.5L172.2 167.7L173.1 167.2L173.9 166.6L174.7 166.8L175.5 167.0L176.3 167.3L177.1 167.2L177.9 168.8L178.7 170.2L179.6 171.6L180.4 172.1L181.2 172.7L182.0 171.4L182.8 170.4L183.6 169.4L184.4 169.0L185.3 168.4L186.1 168.4L186.9 169.3L187.7 170.7L188.5 171.7L189.3 173.0L190.1 174.7L190.9 176.6L191.8 178.2L192.6 179.8L193.4 181.0L194.2 182.4L195.0 183.4L195.8 184.3L196.6 184.9L197.5 185.7L198.3 186.6L199.1 188.4L199.9 190.1L200.7 192.2L201.5 193.7L202.3 195.5L203.1 197.1L204.0 198.7L204.8 200.5L205.6 201.9L206.4 204.4L207.2 206.6L208.0 208.7L208.8 210.8L209.7 212.8L210.5 214.8L211.3 216.5L212.1 218.0L212.9 219.9L213.7 221.3L214.5 223.0L215.4 224.7L216.2 225.7L217.0 226.9L217.8 227.8L218.6 228.7L219.4 229.4L220.2 230.4L221.0 231.3L221.9 232.2L222.7 233.1L223.5 234.2L224.3 235.0L225.1 235.9L225.9 237.1L226.7 238.5L227.6 239.8L228.4 240.9L229.2 242.2L230.0 243.3L230.8 244.3L231.6 245.4L232.4 246.6L233.2 247.5L234.1 248.5L234.9 249.5L235.7 250.7L236.5 251.3L237.3 252.1L238.1 252.6L238.9 253.7L239.8 254.8L240.6 256.1L241.4 257.3L242.2 258.4L243.0 259.5L243.8 260.7L244.6 261.8L245.4 262.8L246.3 264.1L247.1 215.6L247.9 191.7L248.7 262.0L249.5 261.9L250.3 267.6L251.1 267.7L252.0 231.0L252.8 262.9L253.6 268.3L254.4 264.4L255.2 268.7L256.0 265.3L256.8 269.3L257.7 266.0L258.5 216.3L259.3 230.8L260.1 255.9L260.9 271.2L261.7 252.0L262.5 206.0L263.3 261.9L264.2 272.5L265.0 272.9L265.8 273.4L266.6 274.6L267.4 253.7L268.2 277.0L269.0 278.2L269.9 278.4L270.7 278.5L271.5 278.7L272.3 278.8L273.1 279.1L273.9 279.2L274.7 279.5L275.5 279.6L276.4 279.8L277.2 279.9L278.0 279.9L278.8 280.0L279.6 280.1L280.4 280.2L281.2 280.4L282.1 280.5L282.9 280.7L283.7 280.8L284.5 280.9L285.3 281.0L286.1 281.1L286.9 281.2L287.7 281.2L288.6 281.3L289.4 281.4L290.2 281.5L291.0 281.7L291.8 281.8L292.6 281.9L293.4 282.0L294.3 282.2L295.1 282.3L295.9 282.4L296.7 282.5L297.5 282.6L298.3 282.8L299.1 282.8L300.0 283.0L300.8 283.1L301.6 283.2L302.4 283.3L303.2 283.4L304.0 283.5L304.8 283.5L305.6 283.7L306.5 283.8L307.3 283.9L308.1 284.0L308.9 284.0L309.7 284.2L310.5 284.3L311.3 284.4L312.2 284.4L313.0 284.4L313.8 284.5L314.6 284.5"/>
<path d="M49.4 283.7L50.2 283.7L51.0 283.7L51.8 283.7L52.7 283.6L53.5 283.7L54.3 283.7L55.1 283.6L55.9 283.6L56.7 283.6L57.5 283.6L58.4 283.7L59.2 283.7L60.0 283.7L60.8 283.7L61.6 283.6L62.4 283.6L63.2 283.7L64.0 283.7L64.9 283.7L65.7 283.7L66.5 283.7L67.3 283.7L68.1 283.7L68.9 283.7L69.7 283.6L70.6 283.7L71.4 283.6L72.2 283.7L73.0 283.7L73.8 283.7L74.6 283.7L75.4 283.7L76.3 283.7L77.1 283.7L77.9 283.7L78.7 283.7L79.5 283.7L80.3 283.7L81.1 283.8L81.9 283.7L82.8 283.7L83.6 283.7L84.4 283.6L85.2 283.7L86.0 283.7L86.8 283.8L87.6 283.7L88.5 283.7L89.3 283.7L90.1 283.7L90.9 283.7L91.7 283.7L92.5 283.7L93.3 283.7L94.1 283.7L95.0 283.7L95.8 283.7L96.6 283.7L97.4 283.7L98.2 283.7L99.0 283.7L99.8 283.7L100.7 282.9L101.5 282.1L102.3 281.2L103.1 275.3L103.9 269.3L104.7 263.3L105.5 257.4L106.3 252.6L107.2 248.0L108.0 243.5L108.8 238.5L109.6 234.7L110.4 230.5L111.2 226.6L112.0 222.4L112.9 219.3L113.7 216.5L114.5 213.8L115.3 211.3L116.1 208.8L116.9 207.7L117.7 206.3L118.6 205.1L119.4 203.3L120.2 201.2L121.0 198.2L121.8 196.1L122.6 193.9L123.4 193.0L124.2 192.1L125.1 191.9L125.9 191.6L126.7 192.0L127.5 191.8L128.3 191.9L129.1 192.0L129.9 192.0L130.8 191.8L131.6 191.1L132.4 190.5L133.2 189.2L134.0 188.3L134.8 187.2L135.6 186.4L136.4 185.9L137.3 185.8L138.1 186.2L138.9 186.4L139.7 187.0L140.5 187.1L141.3 187.4L142.1 187.1L143.0 186.9L143.8 186.6L144.6 187.2L145.4 187.9L146.2 188.4L147.0 188.4L147.8 188.3L148.6 187.6L149.5 186.9L150.3 185.9L151.1 185.3L151.9 184.2L152.7 102.6L153.5 182.1L154.3 181.5L155.2 180.5L156.0 179.6L156.8 178.7L157.6 177.7L158.4 176.8L159.2 175.5L160.0 174.7L160.9 173.7L161.7 173.1L162.5 172.6L163.3 172.9L164.1 172.9L164.9 173.1L165.7 173.0L166.5 172.8L167.4 172.4L168.2 171.7L169.0 171.0L169.8 169.7L170.6 168.6L171.4 168.0L172.2 167.9L173.1 167.4L173.9 167.0L174.7 166.3L175.5 165.6L176.3 164.7L177.1 163.7L177.9 164.3L178.7 165.0L179.6 166.1L180.4 167.2L181.2 168.2L182.0 167.7L182.8 167.1L183.6 166.6L184.4 166.4L185.3 166.6L186.1 166.8L186.9 168.2L187.7 169.6L188.5 171.5L189.3 173.4L190.1 175.5L190.9 177.1L191.8 178.4L192.6 179.2L193.4 179.9L194.2 180.2L195.0 181.0L195.8 181.9L196.6 183.2L197.5 184.8L198.3 187.0L199.1 189.1L199.9 191.1L200.7 192.8L201.5 195.0L202.3 197.4L203.1 199.1L204.0 201.0L204.8 201.9L205.6 203.5L206.4 204.5L207.2 206.2L208.0 207.7L208.8 209.6L209.7 211.3L210.5 213.2L211.3 215.1L212.1 217.1L212.9 218.8L213.7 220.3L214.5 222.2L215.4 223.7L216.2 224.7L217.0 225.3L217.8 226.7L218.6 228.1L219.4 229.7L220.2 231.2L221.0 232.2L221.9 233.0L222.7 233.4L223.5 234.0L224.3 234.4L225.1 235.1L225.9 236.1L226.7 237.3L227.6 238.5L228.4 239.4L229.2 240.2L230.0 240.8L230.8 241.7L231.6 242.8L232.4 244.1L233.2 245.3L234.1 246.6L234.9 248.1L235.7 249.2L236.5 250.1L237.3 250.6L238.1 251.3L238.9 252.1L239.8 253.0L240.6 254.3L241.4 255.7L242.2 257.0L243.0 258.4L243.8 259.6L244.6 261.0L245.4 262.2L246.3 263.2L247.1 197.0L247.9 210.2L248.7 258.9L249.5 258.4L250.3 266.2L251.1 266.7L252.0 208.4L252.8 266.7L253.6 267.5L254.4 267.0L255.2 267.9L256.0 262.2L256.8 268.3L257.7 253.0L258.5 220.2L259.3 231.5L260.1 247.4L260.9 270.3L261.7 253.8L262.5 231.1L263.3 260.0L264.2 271.8L265.0 272.3L265.8 272.7L266.6 273.9L267.4 250.4L268.2 276.3L269.0 277.4L269.9 277.5L270.7 277.6L271.5 277.8L272.3 277.9L273.1 278.1L273.9 278.3L274.7 278.6L275.5 278.9L276.4 279.1L277.2 279.2L278.0 279.3L278.8 279.3L279.6 279.4L280.4 279.5L281.2 279.6L282.1 279.8L282.9 279.9L283.7 280.0L284.5 280.1L285.3 280.3L286.1 280.3L286.9 280.4L287.7 280.4L288.6 280.6L289.4 280.7L290.2 280.9L291.0 281.0L291.8 281.1L292.6 281.1L293.4 281.3L294.3 281.4L295.1 281.6L295.9 281.7L296.7 281.8L297.5 281.9L298.3 281.9L299.1 282.0L300.0 282.1L300.8 282.3L301.6 282.4L302.4 282.5L303.2 282.6L304.0 282.7L304.8 282.8L305.6 282.9L306.5 283.0L307.3 283.1L308.1 283.2L308.9 283.3L309.7 283.4L310.5 283.4L311.3 283.5L312.2 283.6L313.0 283.7L313.8 283.7L314.6 283.8"/>
<path d="M49.4 283.7L50.2 283.7L51.0 283.7L51.8 283.7L52.7 283.8L53.5 283.7L54.3 283.8L55.1 283.8L55.9 283.7L56.7 283.7L57.5 283.7L58.4 283.7L59.2 283.8L60.0 283.8L60.8 283.8L61.6 283.8L62.4 283.8L63.2 283.7L64.0 283.7L64.9 283.8L65.7 283.8L66.5 283.8L67.3 283.8L68.1 283.7L68.9 283.8L69.7 283.8L70.6 283.8L71.4 283.8L72.2 283.8L73.0 283.8L73.8 283.8L74.6 283.7L75.4 283.7L76.3 283.7L77.1 283.8L77.9 283.7L78.7 283.7L79.5 283.7L80.3 283.8L81.1 283.8L81.9 283.8L82.8 283.8L83.6 283.8L84.4 283.8L85.2 283.8L86.0 283.7L86.8 283.8L87.6 283.8L88.5 283.8L89.3 283.8L90.1 283.7L90.9 283.7L91.7 283.7L92.5 283.8L93.3 283.8L94.1 283.7L95.0 283.7L95.8 283.8L96.6 283.8L97.4 283.9L98.2 283.8L99.0 283.8L99.8 283.7L100.7 283.0L101.5 282.2L102.3 281.5L103.1 275.7L103.9 270.0L104.7 264.3L105.5 258.4L106.3 253.5L107.2 248.4L108.0 243.6L108.8 238.7L109.6 234.7L110.4 231.2L111.2 227.3L112.0 223.7L112.9 220.6L113.7 217.8L114.5 214.9L115.3 211.8L116.1 208.4L116.9 205.8L117.7 203.2L118.6 201.0L119.4 199.5L120.2 198.5L121.0 197.5L121.8 197.1L122.6 196.5L123.4 195.9L124.2 194.9L125.1 193.7L125.9 192.4L126.7 191.4L127.5 190.4L128.3 189.8L129.1 190.0L129.9 190.4L130.8 191.0L131.6 191.2L132.4 191.4L133.2 190.5L134.0 189.6L134.8 188.9L135.6 188.8L136.4 189.1L137.3 189.7L138.1 190.4L138.9 190.4L139.7 190.1L140.5 189.3L141.3 188.5L142.1 188.1L143.0 187.8L143.8 187.7L144.6 187.3L145.4 186.7L146.2 186.1L147.0 185.5L147.8 185.2L148.6 184.8L149.5 184.4L150.3 183.5L151.1 182.1L151.9 180.8L152.7 179.3L153.5 178.4L154.3 177.4L155.2 176.7L156.0 176.6L156.8 176.7L157.6 177.2L158.4 177.2L159.2 176.9L160.0 176.8L160.9 176.3L161.7 176.2L162.5 175.7L163.3 175.5L164.1 174.9L164.9 174.6L165.7 174.0L166.5 173.1L167.4 132.3L168.2 170.6L169.0 169.5L169.8 168.4L170.6 167.3L171.4 166.6L172.2 166.3L173.1 166.1L173.9 166.4L174.7 166.4L175.5 166.5L176.3 166.2L177.1 165.8L177.9 166.7L178.7 167.3L179.6 168.2L180.4 168.8L181.2 169.5L182.0 169.0L182.8 168.4L183.6 167.5L184.4 166.0L185.3 164.8L186.1 164.2L186.9 165.6L187.7 167.5L188.5 169.2L189.3 171.0L190.1 172.7L190.9 174.8L191.8 176.3L192.6 177.6L193.4 178.5L194.2 179.9L195.0 181.5L195.8 183.2L196.6 185.1L197.5 186.7L198.3 188.3L199.1 190.2L199.9 192.0L200.7 193.7L201.5 195.1L202.3 196.4L203.1 197.9L204.0 199.5L204.8 201.2L205.6 202.8L206.4 204.3L207.2 205.9L208.0 207.2L208.8 208.9L209.7 210.6L210.5 212.3L211.3 214.2L212.1 215.8L212.9 217.5L213.7 218.8L214.5 220.5L215.4 222.5L216.2 223.5L217.0 224.6L217.8 225.5L218.6 226.9L219.4 228.3L220.2 229.8L221.0 230.9L221.9 231.8L222.7 232.9L223.5 234.2L224.3 235.1L225.1 235.8L225.9 236.4L226.7 237.1L227.6 238.0L228.4 239.1L229.2 240.5L230.0 242.1L230.8 243.7L231.6 244.9L232.4 245.8L233.2 246.4L234.1 247.0L234.9 247.4L235.7 248.2L236.5 249.1L237.3 250.1L238.1 250.9L238.9 252.0L239.8 252.9L240.6 254.2L241.4 255.5L242.2 257.1L243.0 258.4L243.8 259.7L244.6 260.9L245.4 262.2L246.3 263.3L247.1 178.2L247.9 203.1L248.7 257.3L249.5 262.6L250.3 265.1L251.1 265.4L252.0 234.2L252.8 247.6L253.6 266.7L254.4 262.7L255.2 267.2L256.0 260.4L256.8 268.0L257.7 250.5L258.5 215.9L259.3 233.6L260.1 260.8L260.9 270.1L261.7 250.2L262.5 237.0L263.3 261.0L264.2 271.6L265.0 271.8L265.8 272.1L266.6 273.3L267.4 247.2L268.2 275.9L269.0 277.2L269.9 277.3L270.7 277.5L271.5 277.7L272.3 277.9L273.1 278.1L273.9 278.2L274.7 278.4L275.5 278.6L276.4 278.7L277.2 278.9L278.0 279.0L278.8 279.1L279.6 279.2L280.4 279.3L281.2 279.5L282.1 279.6L282.9 279.8L283.7 280.0L284.5 280.1L285.3 280.2L286.1 280.3L286.9 280.4L287.7 280.5L288.6 280.6L289.4 280.7L290.2 280.8L291.0 280.9L291.8 281.0L292.6 281.1L293.4 281.2L294.3 281.4L295.1 281.6L295.9 281.7L296.7 281.8L297.5 281.9L298.3 282.0L299.1 282.1L300.0 282.2L300.8 282.2L301.6 282.4L302.4 282.5L303.2 282.7L304.0 282.8L304.8 282.8L305.6 282.9L306.5 283.1L307.3 283.1L308.1 283.2L308.9 283.3L309.7 283.4L310.5 283.5L311.3 283.5L312.2 283.6L313.0 283.7L313.8 283.7L314.6 283.8"/>
<path d="M49.4 284.0L50.2 284.0L51.0 284.0L51.8 284.0L52.7 284.0L53.5 284.0L54.3 284.0L55.1 284.0L55.9 284.1L56.7 284.1L57.5 284.0L58.4 284.0L59.2 284.0L60.0 284.0L60.8 284.0L61.6 284.0L62.4 284.0L63.2 283.9L64.0 283.9L64.9 283.9L65.7 284.0L66.5 284.0L67.3 284.0L68.1 284.0L68.9 284.0L69.7 284.0L70.6 284.0L71.4 283.9L72.2 284.0L73.0 284.0L73.8 284.1L74.6 284.0L75.4 284.1L76.3 284.1L77.1 284.1L77.9 284.1L78.7 284.1L79.5 284.0L80.3 284.0L81.1 284.0L81.9 284.1L82.8 284.1L83.6 284.1L84.4 284.1L85.2 284.1L86.0 284.0L86.8 284.0L87.6 284.1L88.5 284.1L89.3 284.1L90.1 284.1L90.9 284.0L91.7 284.0L92.5 284.0L93.3 284.1L94.1 284.1L95.0 284.0L95.8 284.0L96.6 284.1L97.4 284.1L98.2 284.0L99.0 284.0L99.8 284.0L100.7 283.2L101.5 282.4L102.3 281.4L103.1 275.1L103.9 268.9L104.7 262.7L105.5 256.7L106.3 251.5L107.2 246.3L108.0 241.2L108.8 236.3L109.6 232.3L110.4 228.4L111.2 224.3L112.0 220.7L112.9 218.0L113.7 215.5L114.5 213.1L115.3 210.8L116.1 208.0L116.9 206.0L117.7 203.8L118.6 201.4L119.4 198.9L120.2 196.5L121.0 194.1L121.8 192.7L122.6 191.3L123.4 190.2L124.2 188.8L125.1 187.8L125.9 187.2L126.7 186.9L127.5 186.3L128.3 186.1L129.1 186.6L129.9 187.1L130.8 187.0L131.6 187.4L132.4 187.3L133.2 187.4L134.0 187.0L134.8 187.1L135.6 187.3L136.4 187.7L137.3 188.0L138.1 188.3L138.9 188.5L139.7 188.3L140.5 188.2L141.3 188.0L142.1 187.4L143.0 186.4L143.8 185.2L144.6 184.3L145.4 183.6L146.2 183.3L147.0 183.2L147.8 183.0L148.6 182.9L149.5 182.7L150.3 182.0L151.1 180.8L151.9 179.6L152.7 178.6L153.5 177.7L154.3 177.3L155.2 177.2L156.0 177.2L156.8 176.7L157.6 176.2L158.4 175.3L159.2 174.7L160.0 174.1L160.9 174.0L161.7 174.1L162.5 173.8L163.3 173.1L164.1 172.0L164.9 171.2L165.7 170.4L166.5 169.6L167.4 168.7L168.2 168.1L169.0 167.6L169.8 166.9L170.6 166.0L171.4 165.0L172.2 164.0L173.1 162.7L173.9 161.7L174.7 161.1L175.5 161.1L176.3 160.8L177.1 160.7L177.9 161.9L178.7 163.6L179.6 164.9L180.4 166.2L181.2 166.9L182.0 166.4L182.8 165.6L183.6 164.9L184.4 164.6L185.3 164.8L186.1 165.5L186.9 167.7L187.7 169.8L188.5 171.6L189.3 172.7L190.1 173.7L190.9 174.7L191.8 175.1L192.6 176.2L193.4 177.4L194.2 179.0L195.0 180.6L195.8 182.0L196.6 183.7L197.5 185.2L198.3 186.1L199.1 187.3L199.9 188.6L200.7 190.5L201.5 191.8L202.3 193.3L203.1 194.8L204.0 196.7L204.8 198.5L205.6 199.8L206.4 201.2L207.2 202.4L208.0 203.6L208.8 205.0L209.7 206.7L210.5 208.6L211.3 210.7L212.1 212.9L212.9 215.3L213.7 217.9L214.5 220.5L215.4 222.6L216.2 223.7L217.0 224.9L217.8 226.0L218.6 227.1L219.4 228.0L220.2 229.3L221.0 230.1L221.9 231.2L222.7 232.4L223.5 233.8L224.3 234.8L225.1 235.9L225.9 236.9L226.7 237.9L227.6 238.9L228.4 240.0L229.2 240.9L230.0 241.9L230.8 243.1L231.6 244.2L232.4 245.3L233.2 246.2L234.1 246.9L234.9 247.5L235.7 247.9L236.5 248.7L237.3 249.8L238.1 250.8L238.9 252.2L239.8 253.4L240.6 254.7L241.4 255.7L242.2 256.9L243.0 257.8L243.8 258.8L244.6 259.7L245.4 260.9L246.3 262.1L247.1 215.2L247.9 210.4L248.7 246.9L249.5 257.5L250.3 265.3L251.1 265.7L252.0 230.5L252.8 265.5L253.6 266.6L254.4 263.1L255.2 267.3L256.0 263.9L256.8 268.0L257.7 262.1L258.5 216.3L259.3 237.9L260.1 249.7L260.9 269.8L261.7 245.2L262.5 227.5L263.3 262.8L264.2 271.8L265.0 272.2L265.8 272.6L266.6 273.6L267.4 259.1L268.2 275.9L269.0 277.1L269.9 277.2L270.7 277.4L271.5 277.7L272.3 278.0L273.1 278.1L273.9 278.2L274.7 278.5L275.5 278.8L276.4 279.0L277.2 279.1L278.0 279.2L278.8 279.3L279.6 279.4L280.4 279.5L281.2 279.7L282.1 279.7L282.9 279.9L283.7 280.0L284.5 280.1L285.3 280.1L286.1 280.2L286.9 280.4L287.7 280.4L288.6 280.6L289.4 280.7L290.2 280.9L291.0 281.1L291.8 281.2L292.6 281.3L293.4 281.4L294.3 281.6L295.1 281.7L295.9 281.8L296.7 281.8L297.5 282.0L298.3 282.1L299.1 282.3L300.0 282.4L300.8 282.5L301.6 282.6L302.4 282.7L303.2 282.8L304.0 282.9L304.8 283.0L305.6 283.1L306.5 283.3L307.3 283.4L308.1 283.5L308.9 283.6L309.7 283.6L310.5 283.7L311.3 283.8L312.2 283.8L313.0 283.9L313.8 284.0L314.6 284.1"/>
<path d="M49.4 283.9L50.2 283.9L51.0 283.9L51.8 283.9L52.7 283.9L53.5 283.8L54.3 283.8L55.1 283.7L55.9 283.7L56.7 283.7L57.5 283.8L58.4 283.8L59.2 283.8L60.0 283.9L60.8 283.8L61.6 283.8L62.4 283.8L63.2 283.8L64.0 283.9L64.9 283.9L65.7 283.9L66.5 283.9L67.3 283.8L68.1 283.8L68.9 283.9L69.7 283.9L70.6 283.9L71.4 283.8L72.2 283.8L73.0 283.8L73.8 283.9L74.6 283.8L75.4 283.8L76.3 283.8L77.1 283.8L77.9 283.8L78.7 283.8L79.5 283.8L80.3 283.8L81.1 283.8L81.9 283.9L82.8 283.9L83.6 283.9L84.4 283.8L85.2 283.8L86.0 283.8L86.8 283.8L87.6 283.8L88.5 283.8L89.3 283.8L90.1 283.9L90.9 283.8L91.7 283.8L92.5 283.8L93.3 283.8L94.1 283.8L95.0 283.8L95.8 283.8L96.6 283.8L97.4 283.8L98.2 283.8L99.0 283.8L99.8 283.8L100.7 282.9L101.5 282.1L102.3 281.2L103.1 275.3L103.9 269.2L104.7 263.4L105.5 257.5L106.3 252.6L107.2 247.6L108.0 242.6L108.8 237.4L109.6 233.1L110.4 228.7L111.2 224.6L112.0 220.6L112.9 217.9L113.7 214.7L114.5 211.5L115.3 208.4L116.1 205.4L116.9 204.0L117.7 202.0L118.6 199.9L119.4 197.2L120.2 195.0L121.0 193.0L121.8 191.9L122.6 190.5L123.4 188.8L124.2 187.2L125.1 186.0L125.9 185.4L126.7 185.6L127.5 185.8L128.3 186.6L129.1 187.4L129.9 188.1L130.8 188.1L131.6 187.8L132.4 187.6L133.2 187.2L134.0 187.2L134.8 186.8L135.6 186.4L136.4 185.4L137.3 184.6L138.1 183.9L138.9 183.5L139.7 183.3L140.5 183.9L141.3 185.0L142.1 185.8L143.0 186.1L143.8 186.1L144.6 186.1L145.4 185.8L146.2 185.0L147.0 184.8L147.8 184.3L148.6 184.3L149.5 183.5L150.3 183.3L151.1 182.7L151.9 182.1L152.7 181.0L153.5 180.3L154.3 179.8L155.2 179.0L156.0 178.2L156.8 177.5L157.6 177.2L158.4 176.7L159.2 176.1L160.0 175.2L160.9 78.6L161.7 173.0L162.5 172.1L163.3 171.4L164.1 170.9L164.9 170.5L165.7 170.0L166.5 170.1L167.4 169.9L168.2 169.4L169.0 168.3L169.8 167.1L170.6 166.1L171.4 165.4L172.2 164.9L173.1 164.6L173.9 164.0L174.7 163.4L175.5 162.6L176.3 161.9L177.1 161.0L177.9 161.7L178.7 162.9L179.6 164.2L180.4 165.4L181.2 166.7L182.0 166.6L182.8 166.4L183.6 165.8L184.4 165.7L185.3 165.2L186.1 165.2L186.9 166.1L187.7 167.3L188.5 168.2L189.3 168.7L190.1 169.6L190.9 170.5L191.8 172.1L192.6 173.6L193.4 175.2L194.2 176.6L195.0 178.7L195.8 179.9L196.6 181.5L197.5 182.9L198.3 184.5L199.1 186.0L199.9 187.7L200.7 189.9L201.5 191.6L202.3 193.2L203.1 194.6L204.0 196.3L204.8 197.6L205.6 198.8L206.4 200.7L207.2 203.0L208.0 205.7L208.8 208.0L209.7 210.5L210.5 212.4L211.3 214.1L212.1 215.6L212.9 216.9L213.7 218.2L214.5 219.7L215.4 221.0L216.2 221.8L217.0 222.5L217.8 223.7L218.6 225.1L219.4 226.6L220.2 228.3L221.0 229.7L221.9 230.9L222.7 231.9L223.5 232.7L224.3 233.6L225.1 234.3L225.9 234.9L226.7 235.3L227.6 235.9L228.4 236.5L229.2 237.4L230.0 238.6L230.8 240.1L231.6 241.4L232.4 242.6L233.2 243.8L234.1 245.0L234.9 246.2L235.7 247.0L236.5 247.9L237.3 248.8L238.1 249.7L238.9 250.8L239.8 252.1L240.6 253.3L241.4 254.5L242.2 255.7L243.0 257.0L243.8 258.1L244.6 259.3L245.4 260.3L246.3 261.4L247.1 182.4L247.9 176.6L248.7 263.2L249.5 262.4L250.3 264.4L251.1 265.0L252.0 227.4L252.8 251.1L253.6 266.1L254.4 265.2L255.2 266.5L256.0 262.7L256.8 267.1L257.7 263.4L258.5 220.3L259.3 236.1L260.1 264.0L260.9 269.4L261.7 248.3L262.5 224.0L263.3 247.5L264.2 271.0L265.0 271.3L265.8 271.6L266.6 272.8L267.4 251.5L268.2 275.3L269.0 276.6L269.9 276.8L270.7 277.0L271.5 277.2L272.3 277.4L273.1 277.6L273.9 277.8L274.7 278.0L275.5 278.3L276.4 278.5L277.2 278.8L278.0 278.9L278.8 279.1L279.6 279.2L280.4 279.3L281.2 279.5L282.1 279.5L282.9 279.6L283.7 279.7L284.5 279.8L285.3 279.9L286.1 280.0L286.9 280.2L287.7 280.2L288.6 280.4L289.4 280.6L290.2 280.7L291.0 280.8L291.8 280.8L292.6 281.0L293.4 281.1L294.3 281.2L295.1 281.2L295.9 281.3L296.7 281.6L297.5 281.7L298.3 281.9L299.1 281.9L300.0 282.0L300.8 282.1L301.6 282.3L302.4 282.4L303.2 282.5L304.0 282.6L304.8 282.7L305.6 282.8L306.5 282.9L307.3 283.0L308.1 283.1L308.9 283.2L309.7 283.3L310.5 283.4L311.3 283.5L312.2 283.5L313.0 283.5L313.8 283.6L314.6 283.7"/>
<path d="M49.4 283.6L50.2 283.6L51.0 283.6L51.8 283.6L52.7 283.7L53.5 283.7L54.3 283.7L55.1 283.7L55.9 283.7L56.7 283.7L57.5 283.6L58.4 283.7L59.2 283.7L60.0 283.6L60.8 283.6L61.6 283.6L62.4 283.7L63.2 283.7L64.0 283.8L64.9 283.7L65.7 283.8L66.5 283.8L67.3 283.8L68.1 283.8L68.9 283.7L69.7 283.7L70.6 283.7L71.4 283.7L72.2 283.7L73.0 283.7L73.8 283.7L74.6 283.7L75.4 283.7L76.3 283.7L77.1 283.7L77.9 283.7L78.7 283.7L79.5 283.7L80.3 283.7L81.1 283.7L81.9 283.7L82.8 283.8L83.6 283.8L84.4 283.7L85.2 283.7L86.0 283.7L86.8 283.7L87.6 283.7L88.5 283.7L89.3 283.6L90.1 283.7L90.9 283.7L91.7 283.8L92.5 283.8L93.3 283.7L94.1 283.8L95.0 283.7L95.8 283.7L96.6 283.6L97.4 283.7L98.2 283.7L99.0 283.7L99.8 283.7L100.7 282.8L101.5 282.0L102.3 281.1L103.1 274.8L103.9 268.6L104.7 262.7L105.5 256.8L106.3 251.9L107.2 246.9L108.0 241.9L108.8 236.7L109.6 232.4L110.4 228.2L111.2 224.0L112.0 220.2L112.9 217.2L113.7 214.0L114.5 210.5L115.3 206.9L116.1 202.9L116.9 200.5L117.7 197.9L118.6 195.6L119.4 193.3L120.2 191.3L121.0 189.9L121.8 189.5L122.6 189.6L123.4 189.3L124.2 188.6L125.1 187.3L125.9 186.4L126.7 185.6L127.5 184.9L128.3 184.5L129.1 185.2L129.9 186.2L130.8 186.9L131.6 187.6L132.4 188.2L133.2 188.4L134.0 188.4L134.8 187.6L135.6 187.1L136.4 186.3L137.3 186.6L138.1 186.6L138.9 186.9L139.7 186.6L140.5 186.5L141.3 185.6L142.1 184.5L143.0 182.9L143.8 182.0L144.6 181.1L145.4 181.2L146.2 181.4L147.0 182.0L147.8 182.4L148.6 182.6L149.5 182.6L150.3 181.6L151.1 180.4L151.9 179.1L152.7 178.5L153.5 177.6L154.3 176.4L155.2 175.1L156.0 174.6L156.8 173.8L157.6 173.3L158.4 172.5L159.2 171.9L160.0 171.4L160.9 171.0L161.7 170.5L162.5 169.9L163.3 168.9L164.1 168.0L164.9 167.2L165.7 166.6L166.5 165.8L167.4 165.6L168.2 165.6L169.0 165.7L169.8 165.6L170.6 164.8L171.4 163.7L172.2 162.4L173.1 161.3L173.9 160.3L174.7 159.2L175.5 158.5L176.3 157.9L177.1 157.8L177.9 159.4L178.7 161.0L179.6 162.2L180.4 163.5L181.2 164.7L182.0 164.6L182.8 164.0L183.6 163.7L184.4 163.4L185.3 163.7L186.1 164.0L186.9 165.5L187.7 166.8L188.5 167.5L189.3 168.3L190.1 168.9L190.9 170.3L191.8 171.2L192.6 172.4L193.4 173.9L194.2 175.2L195.0 177.4L195.8 179.0L196.6 181.2L197.5 182.3L198.3 183.5L199.1 184.5L199.9 186.0L200.7 187.4L201.5 189.0L202.3 190.9L203.1 192.9L204.0 194.9L204.8 196.8L205.6 198.9L206.4 201.3L207.2 203.7L208.0 205.6L208.8 207.1L209.7 208.3L210.5 209.5L211.3 210.9L212.1 212.5L212.9 214.4L213.7 216.6L214.5 218.4L215.4 220.1L216.2 221.1L217.0 222.2L217.8 223.5L218.6 224.7L219.4 226.0L220.2 227.2L221.0 228.1L221.9 229.0L222.7 229.7L223.5 230.5L224.3 231.5L225.1 232.7L225.9 233.8L226.7 234.8L227.6 235.8L228.4 236.8L229.2 237.8L230.0 238.9L230.8 239.9L231.6 241.0L232.4 242.0L233.2 243.2L234.1 244.0L234.9 244.9L235.7 245.3L236.5 246.3L237.3 247.4L238.1 248.6L238.9 249.9L239.8 251.2L240.6 252.6L241.4 253.8L242.2 255.1L243.0 256.1L243.8 257.1L244.6 258.2L245.4 259.5L246.3 260.9L247.1 190.0L247.9 211.6L248.7 251.0L249.5 254.8L250.3 264.2L251.1 264.4L252.0 207.0L252.8 251.7L253.6 265.5L254.4 263.4L255.2 266.3L256.0 261.2L256.8 266.9L257.7 248.8L258.5 220.0L259.3 232.1L260.1 267.1L260.9 268.8L261.7 243.4L262.5 231.0L263.3 248.3L264.2 270.3L265.0 270.5L265.8 270.9L266.6 272.2L267.4 253.6L268.2 275.0L269.0 276.3L269.9 276.6L270.7 276.9L271.5 277.1L272.3 277.2L273.1 277.4L273.9 277.5L274.7 277.6L275.5 277.8L276.4 278.1L277.2 278.4L278.0 278.5L278.8 278.6L279.6 278.7L280.4 278.9L281.2 279.1L282.1 279.2L282.9 279.3L283.7 279.3L284.5 279.6L285.3 279.7L286.1 279.8L286.9 279.9L287.7 280.0L288.6 280.2L289.4 280.3L290.2 280.5L291.0 280.6L291.8 280.7L292.6 280.8L293.4 280.9L294.3 281.0L295.1 281.2L295.9 281.3L296.7 281.4L297.5 281.4L298.3 281.5L299.1 281.6L300.0 281.7L300.8 281.9L301.6 282.0L302.4 282.1L303.2 282.1L304.0 282.3L304.8 282.5L305.6 282.6L306.5 282.7L307.3 282.8L308.1 282.9L308.9 282.9L309.7 283.0L310.5 283.1L311.3 283.3L312.2 283.4L313.0 283.5L313.8 283.5L314.6 283.6"/>
<path d="M49.4 284.3L50.2 284.3L51.0 284.3L51.8 284.3L52.7 284.3L53.5 284.4L54.3 284.4L55.1 284.3L55.9 284.2L56.7 284.2L57.5 284.2L58.4 284.2L59.2 284.3L60.0 284.3L60.8 284.3L61.6 284.2L62.4 284.3L63.2 284.3L64.0 284.3L64.9 284.3L65.7 284.2L66.5 284.2L67.3 284.2L68.1 284.2L68.9 284.2L69.7 284.2L70.6 284.3L71.4 284.3L72.2 284.2L73.0 284.2L73.8 284.3L74.6 284.3L75.4 284.3L76.3 284.3L77.1 284.2L77.9 284.2L78.7 284.2L79.5 284.2L80.3 284.2L81.1 284.2L81.9 284.2L82.8 284.2L83.6 284.2L84.4 284.3L85.2 284.3L86.0 284.3L86.8 284.2L87.6 284.2L88.5 284.2L89.3 284.1L90.1 284.1L90.9 284.1L91.7 284.2L92.5 284.2L93.3 284.2L94.1 284.3L95.0 284.3L95.8 284.2L96.6 284.3L97.4 284.3L98.2 284.2L99.0 284.2L99.8 284.3L100.7 283.5L101.5 282.6L102.3 281.6L103.1 275.1L103.9 268.7L104.7 262.3L105.5 256.0L106.3 250.6L107.2 245.3L108.0 240.1L108.8 234.9L109.6 230.8L110.4 226.7L111.2 222.8L112.0 218.6L112.9 215.1L113.7 211.4L114.5 207.2L115.3 203.3L116.1 199.6L116.9 197.9L117.7 196.2L118.6 194.5L119.4 192.8L120.2 190.8L121.0 188.9L121.8 187.8L122.6 186.9L123.4 186.1L124.2 185.4L125.1 184.9L125.9 184.9L126.7 184.3L127.5 183.7L128.3 182.8L129.1 182.7L129.9 182.2L130.8 181.9L131.6 181.7L132.4 181.7L133.2 181.6L134.0 181.6L134.8 181.8L135.6 181.6L136.4 181.5L137.3 181.6L138.1 181.9L138.9 182.5L139.7 182.7L140.5 182.5L141.3 181.9L142.1 180.5L143.0 179.6L143.8 178.9L144.6 179.3L145.4 180.3L146.2 180.7L147.0 180.8L147.8 180.2L148.6 179.4L149.5 178.3L150.3 177.2L151.1 176.1L151.9 175.4L152.7 174.7L153.5 174.1L154.3 173.1L155.2 171.8L156.0 171.2L156.8 171.3L157.6 171.7L158.4 171.6L159.2 171.8L160.0 172.0L160.9 172.0L161.7 171.8L162.5 171.8L163.3 171.3L164.1 170.7L164.9 169.5L165.7 168.5L166.5 167.7L167.4 166.6L168.2 165.6L169.0 163.8L169.8 162.4L170.6 161.0L171.4 160.3L172.2 159.7L173.1 159.5L173.9 159.0L174.7 158.9L175.5 159.1L176.3 159.7L177.1 159.9L177.9 161.2L178.7 162.0L179.6 163.0L180.4 163.8L181.2 165.6L182.0 166.2L182.8 166.8L183.6 166.8L184.4 166.4L185.3 165.5L186.1 164.9L186.9 165.1L187.7 166.2L188.5 166.9L189.3 168.3L190.1 169.9L190.9 172.3L191.8 173.8L192.6 175.1L193.4 175.8L194.2 176.8L195.0 177.9L195.8 178.9L196.6 180.3L197.5 181.4L198.3 182.4L199.1 183.5L199.9 184.9L200.7 186.4L201.5 187.9L202.3 189.5L203.1 191.3L204.0 192.9L204.8 194.4L205.6 196.0L206.4 198.3L207.2 200.5L208.0 203.0L208.8 205.1L209.7 207.5L210.5 209.3L211.3 211.4L212.1 213.2L212.9 215.2L213.7 217.1L214.5 218.9L215.4 220.6L216.2 221.7L217.0 222.8L217.8 223.9L218.6 224.9L219.4 226.0L220.2 227.2L221.0 227.9L221.9 228.7L222.7 229.5L223.5 230.4L224.3 231.6L225.1 232.7L225.9 233.5L226.7 234.1L227.6 234.6L228.4 235.2L229.2 236.0L230.0 236.9L230.8 238.3L231.6 239.3L232.4 240.7L233.2 241.7L234.1 243.1L234.9 244.1L235.7 245.4L236.5 246.7L237.3 247.9L238.1 249.0L238.9 250.2L239.8 251.4L240.6 252.6L241.4 254.2L242.2 255.6L243.0 256.9L243.8 258.0L244.6 259.1L245.4 260.0L246.3 261.0L247.1 207.7L247.9 202.8L248.7 242.5L249.5 256.7L250.3 263.1L251.1 263.7L252.0 210.5L252.8 251.5L253.6 265.3L254.4 258.3L255.2 266.4L256.0 266.1L256.8 267.4L257.7 261.5L258.5 226.2L259.3 244.2L260.1 263.0L260.9 268.9L261.7 253.4L262.5 213.6L263.3 268.6L264.2 270.4L265.0 270.9L265.8 271.3L266.6 272.6L267.4 249.2L268.2 275.2L269.0 276.6L269.9 276.9L270.7 277.2L271.5 277.4L272.3 277.6L273.1 277.7L273.9 277.9L274.7 278.1L275.5 278.3L276.4 278.6L277.2 278.8L278.0 279.0L278.8 279.2L279.6 279.3L280.4 279.4L281.2 279.5L282.1 279.6L282.9 279.7L283.7 279.8L284.5 279.8L285.3 279.9L286.1 280.0L286.9 280.1L287.7 280.2L288.6 280.4L289.4 280.6L290.2 280.7L291.0 280.9L291.8 281.0L292.6 281.1L293.4 281.3L294.3 281.4L295.1 281.5L295.9 281.5L296.7 281.8L297.5 281.9L298.3 282.1L299.1 282.2L300.0 282.2L300.8 282.3L301.6 282.4L302.4 282.6L303.2 282.8L304.0 282.9L304.8 283.0L305.6 283.1L306.5 283.1L307.3 283.2L308.1 283.4L308.9 283.5L309.7 283.6L310.5 283.7L311.3 283.8L312.2 283.9L313.0 284.0L313.8 284.0L314.6 284.0"/>
<path d="M49.4 283.9L50.2 284.0L51.0 284.0L51.8 283.9L52.7 283.9L53.5 283.9L54.3 283.9L55.1 283.9L55.9 283.8L56.7 283.8L57.5 283.9L58.4 283.9L59.2 283.9L60.0 284.0L60.8 284.0L61.6 283.9L62.4 283.9L63.2 283.9L64.0 283.9L64.9 283.9L65.7 284.0L66.5 284.0L67.3 283.9L68.1 283.9L68.9 283.9L69.7 283.9L70.6 283.9L71.4 283.9L72.2 283.9L73.0 283.9L73.8 283.9L74.6 284.0L75.4 283.9L76.3 283.9L77.1 283.9L77.9 284.0L78.7 284.0L79.5 284.0L80.3 283.9L81.1 284.0L81.9 284.0L82.8 284.0L83.6 284.0L84.4 284.0L85.2 283.9L86.0 283.9L86.8 283.9L87.6 283.9L88.5 283.9L89.3 284.0L90.1 283.9L90.9 284.0L91.7 284.0L92.5 284.0L93.3 284.0L94.1 284.0L95.0 284.0L95.8 284.0L96.6 283.9L97.4 284.0L98.2 284.0L99.0 284.0L99.8 284.0L100.7 283.1L101.5 282.2L102.3 281.3L103.1 274.9L103.9 268.6L104.7 261.9L105.5 255.3L106.3 249.5L107.2 243.8L108.0 237.8L108.8 232.0L109.6 227.6L110.4 223.6L111.2 220.2L112.0 217.3L112.9 215.5L113.7 212.9L114.5 209.4L115.3 205.7L116.1 201.5L116.9 198.1L117.7 194.5L118.6 191.3L119.4 189.0L120.2 187.4L121.0 186.5L121.8 185.9L122.6 185.4L123.4 184.6L124.2 183.8L125.1 182.9L125.9 182.3L126.7 182.2L127.5 181.5L128.3 181.0L129.1 181.5L129.9 181.9L130.8 182.3L131.6 182.4L132.4 183.0L133.2 182.8L134.0 182.4L134.8 181.6L135.6 180.9L136.4 179.6L137.3 179.3L138.1 179.1L138.9 179.5L139.7 179.3L140.5 179.3L141.3 179.0L142.1 178.4L143.0 177.7L143.8 177.4L144.6 176.8L145.4 175.9L146.2 174.9L147.0 174.1L147.8 173.9L148.6 173.5L149.5 173.6L150.3 173.5L151.1 173.3L151.9 172.9L152.7 171.8L153.5 171.2L154.3 170.5L155.2 170.7L156.0 170.7L156.8 171.1L157.6 171.2L158.4 171.7L159.2 171.6L160.0 171.1L160.9 169.8L161.7 168.5L162.5 167.7L163.3 167.1L164.1 166.6L164.9 166.3L165.7 166.0L166.5 165.3L167.4 164.3L168.2 163.5L169.0 162.4L169.8 161.9L170.6 161.3L171.4 161.5L172.2 161.5L173.1 162.0L173.9 162.3L174.7 162.2L175.5 161.5L176.3 160.4L177.1 159.2L177.9 159.7L178.7 160.4L179.6 161.2L180.4 161.9L181.2 162.3L182.0 161.7L182.8 161.3L183.6 161.5L184.4 161.8L185.3 161.8L186.1 162.0L186.9 163.3L187.7 164.4L188.5 165.2L189.3 166.2L190.1 167.4L190.9 168.4L191.8 169.6L192.6 171.0L193.4 172.0L194.2 173.2L195.0 174.5L195.8 176.1L196.6 177.7L197.5 179.2L198.3 180.8L199.1 182.0L199.9 183.4L200.7 184.4L201.5 186.0L202.3 187.9L203.1 190.0L204.0 192.2L204.8 194.4L205.6 196.5L206.4 198.1L207.2 199.9L208.0 201.8L208.8 204.0L209.7 206.2L210.5 208.6L211.3 211.0L212.1 213.1L212.9 214.9L213.7 216.8L214.5 218.5L215.4 219.8L216.2 219.9L217.0 220.0L217.8 220.7L218.6 221.7L219.4 223.4L220.2 225.2L221.0 227.0L221.9 228.3L222.7 229.3L223.5 229.9L224.3 230.6L225.1 231.5L225.9 232.5L226.7 233.5L227.6 234.7L228.4 235.9L229.2 237.1L230.0 238.2L230.8 239.3L231.6 240.4L232.4 241.7L233.2 242.9L234.1 243.8L234.9 244.7L235.7 245.2L236.5 245.8L237.3 246.3L238.1 247.2L238.9 248.4L239.8 249.6L240.6 250.8L241.4 252.0L242.2 253.3L243.0 254.7L243.8 256.3L244.6 257.7L245.4 259.2L246.3 260.4L247.1 215.0L247.9 181.4L248.7 242.4L249.5 260.0L250.3 263.9L251.1 264.3L252.0 222.6L252.8 260.3L253.6 265.4L254.4 261.1L255.2 265.8L256.0 260.4L256.8 266.5L257.7 245.2L258.5 196.1L259.3 232.3L260.1 267.2L260.9 268.6L261.7 259.5L262.5 209.7L263.3 251.8L264.2 269.8L265.0 270.2L265.8 270.7L266.6 272.1L267.4 252.1L268.2 274.7L269.0 275.9L269.9 276.3L270.7 276.5L271.5 276.9L272.3 277.1L273.1 277.4L273.9 277.7L274.7 277.9L275.5 278.1L276.4 278.2L277.2 278.4L278.0 278.5L278.8 278.5L279.6 278.7L280.4 278.8L281.2 279.0L282.1 279.2L282.9 279.3L283.7 279.5L284.5 279.6L285.3 279.7L286.1 279.8L286.9 279.9L287.7 280.0L288.6 280.2L289.4 280.2L290.2 280.3L291.0 280.4L291.8 280.5L292.6 280.8L293.4 280.9L294.3 281.0L295.1 281.1L295.9 281.2L296.7 281.3L297.5 281.4L298.3 281.6L299.1 281.7L300.0 281.8L300.8 281.8L301.6 282.0L302.4 282.1L303.2 282.3L304.0 282.4L304.8 282.5L305.6 282.7L306.5 282.8L307.3 282.9L308.1 283.0L308.9 283.1L309.7 283.2L310.5 283.3L311.3 283.3L312.2 283.4L313.0 283.5L313.8 283.7L314.6 283.7"/>
<path d="M49.4 284.1L50.2 284.2L51.0 284.1L51.8 284.2L52.7 284.2L53.5 284.2L54.3 284.2L55.1 284.2L55.9 284.2L56.7 284.1L57.5 284.1L58.4 284.2L59.2 284.2L60.0 284.2L60.8 284.2L61.6 284.1L62.4 284.1L63.2 284.1L64.0 284.1L64.9 284.2L65.7 284.1L66.5 284.1L67.3 284.1L68.1 284.1L68.9 284.1L69.7 284.1L70.6 284.2L71.4 284.2L72.2 284.2L73.0 284.2L73.8 284.1L74.6 284.1L75.4 284.1L76.3 284.1L77.1 284.1L77.9 284.3L78.7 284.2L79.5 284.2L80.3 284.1L81.1 284.2L81.9 284.2L82.8 284.1L83.6 284.1L84.4 284.1L85.2 284.1L86.0 284.1L86.8 284.1L87.6 284.1L88.5 284.1L89.3 284.2L90.1 284.2L90.9 284.2L91.7 284.2L92.5 284.2L93.3 284.2L94.1 284.1L95.0 284.1L95.8 284.1L96.6 284.2L97.4 284.2L98.2 284.2L99.0 284.2L99.8 284.2L100.7 283.2L101.5 282.2L102.3 281.2L103.1 274.1L103.9 266.9L104.7 259.9L105.5 252.7L106.3 247.0L107.2 241.1L108.0 235.4L108.8 229.4L109.6 224.7L110.4 219.9L111.2 215.6L112.0 211.1L112.9 207.0L113.7 202.9L114.5 198.7L115.3 195.0L116.1 190.9L116.9 188.5L117.7 185.9L118.6 183.2L119.4 180.3L120.2 177.5L121.0 174.7L121.8 173.1L122.6 171.4L123.4 169.5L124.2 168.3L125.1 167.0L125.9 166.5L126.7 165.7L127.5 165.0L128.3 164.7L129.1 165.4L129.9 166.1L130.8 167.0L131.6 167.5L132.4 168.3L133.2 168.0L134.0 167.6L134.8 167.1L135.6 166.6L136.4 166.5L137.3 167.3L138.1 167.8L138.9 168.2L139.7 168.5L140.5 169.1L141.3 169.8L142.1 168.9L143.0 168.3L143.8 167.8L144.6 168.0L145.4 168.0L146.2 167.7L147.0 167.3L147.8 166.9L148.6 166.6L149.5 166.3L150.3 166.1L151.1 166.0L151.9 165.8L152.7 165.7L153.5 165.7L154.3 165.6L155.2 165.5L156.0 165.0L156.8 164.3L157.6 164.1L158.4 164.1L159.2 164.5L160.0 164.5L160.9 164.6L161.7 164.6L162.5 164.6L163.3 164.1L164.1 163.4L164.9 162.4L165.7 161.8L166.5 161.8L167.4 161.5L168.2 161.2L169.0 161.0L169.8 161.4L170.6 161.8L171.4 161.4L172.2 160.5L173.1 159.4L173.9 158.5L174.7 157.9L175.5 157.6L176.3 157.1L177.1 156.7L177.9 158.1L178.7 159.6L179.6 160.6L180.4 161.6L181.2 162.8L182.0 162.6L182.8 162.3L183.6 162.0L184.4 161.7L185.3 161.2L186.1 160.7L186.9 162.0L187.7 162.9L188.5 163.7L189.3 164.3L190.1 165.7L190.9 167.0L191.8 168.1L192.6 169.6L193.4 170.7L194.2 172.0L195.0 173.0L195.8 174.8L196.6 176.3L197.5 178.4L198.3 180.3L199.1 182.5L199.9 184.8L200.7 186.4L201.5 188.0L202.3 189.3L203.1 190.8L204.0 192.1L204.8 193.5L205.6 195.4L206.4 197.3L207.2 199.1L208.0 201.0L208.8 203.0L209.7 205.0L210.5 206.8L211.3 208.7L212.1 210.4L212.9 211.8L213.7 213.5L214.5 215.1L215.4 216.8L216.2 218.1L217.0 219.6L217.8 221.4L218.6 223.0L219.4 224.7L220.2 225.9L221.0 227.0L221.9 227.9L222.7 228.8L223.5 229.7L224.3 230.3L225.1 231.2L225.9 231.9L226.7 232.7L227.6 233.9L228.4 234.8L229.2 235.8L230.0 236.6L230.8 237.8L231.6 239.0L232.4 240.3L233.2 241.3L234.1 242.5L234.9 243.6L235.7 244.7L236.5 245.9L237.3 246.9L238.1 247.9L238.9 248.9L239.8 250.2L240.6 251.4L241.4 252.6L242.2 253.6L243.0 254.7L243.8 255.8L244.6 257.1L245.4 258.4L246.3 259.9L247.1 210.4L247.9 177.6L248.7 254.5L249.5 259.4L250.3 262.8L251.1 263.1L252.0 229.4L252.8 258.7L253.6 264.3L254.4 258.2L255.2 265.3L256.0 260.1L256.8 266.2L257.7 264.4L258.5 214.2L259.3 237.2L260.1 262.9L260.9 268.1L261.7 264.2L262.5 227.6L263.3 257.4L264.2 269.8L265.0 270.2L265.8 270.7L266.6 272.0L267.4 246.7L268.2 274.5L269.0 275.9L269.9 276.2L270.7 276.5L271.5 276.8L272.3 277.0L273.1 277.2L273.9 277.4L274.7 277.7L275.5 278.0L276.4 278.2L277.2 278.5L278.0 278.6L278.8 278.7L279.6 278.9L280.4 279.0L281.2 279.2L282.1 279.1L282.9 279.3L283.7 279.4L284.5 279.6L285.3 279.7L286.1 279.8L286.9 279.9L287.7 280.0L288.6 280.2L289.4 280.3L290.2 280.5L291.0 280.5L291.8 280.6L292.6 280.8L293.4 280.9L294.3 281.2L295.1 281.3L295.9 281.5L296.7 281.6L297.5 281.7L298.3 281.8L299.1 281.8L300.0 282.0L300.8 282.1L301.6 282.2L302.4 282.3L303.2 282.4L304.0 282.5L304.8 282.6L305.6 282.8L306.5 282.9L307.3 283.1L308.1 283.2L308.9 283.3L309.7 283.4L310.5 283.5L311.3 283.6L312.2 283.7L313.0 283.7L313.8 283.8L314.6 283.9"/>
<path d="M49.4 -5V284.6" stroke-width="3.4"/>
</g>
<g clip-path="url(#cR)" fill="none" stroke="#fff" stroke-width="2.3" stroke-linejoin="round">
<path d="M329.4 283.7L330.2 283.8L331.0 283.7L331.8 283.7L332.7 283.7L333.5 283.8L334.3 283.8L335.1 283.8L335.9 283.8L336.7 283.7L337.5 283.7L338.4 283.7L339.2 283.7L340.0 283.7L340.8 283.8L341.6 283.7L342.4 283.7L343.2 283.7L344.0 283.8L344.9 283.7L345.7 283.7L346.5 283.7L347.3 283.7L348.1 283.7L348.9 283.7L349.7 283.7L350.6 283.7L351.4 283.8L352.2 283.8L353.0 283.7L353.8 283.7L354.6 283.8L355.4 283.8L356.3 283.8L357.1 283.7L357.9 283.7L358.7 283.7L359.5 283.7L360.3 283.7L361.1 283.7L361.9 283.7L362.8 283.7L363.6 283.8L364.4 283.8L365.2 283.8L366.0 283.8L366.8 283.8L367.6 283.7L368.5 283.8L369.3 283.7L370.1 283.7L370.9 283.7L371.7 283.7L372.5 283.7L373.3 283.7L374.1 283.7L375.0 283.7L375.8 283.7L376.6 283.7L377.4 283.7L378.2 283.7L379.0 283.7L379.8 283.7L380.7 282.9L381.5 282.2L382.3 281.3L383.1 275.5L383.9 269.6L384.7 263.9L385.5 258.4L386.3 254.0L387.2 249.6L388.0 245.2L388.8 240.6L389.6 237.6L390.4 234.0L391.2 230.7L392.0 226.8L392.9 224.3L393.7 221.6L394.5 219.7L395.3 217.5L396.1 215.0L396.9 213.1L397.7 211.1L398.6 209.2L399.4 207.3L400.2 205.8L401.0 204.3L401.8 203.2L402.6 201.7L403.4 200.5L404.2 199.5L405.1 198.5L405.9 198.0L406.7 197.3L407.5 196.7L408.3 195.6L409.1 195.1L409.9 194.0L410.8 193.0L411.6 192.0L412.4 192.0L413.2 192.5L414.0 193.2L414.8 193.6L415.6 194.2L416.4 194.3L417.3 193.9L418.1 193.2L418.9 192.5L419.7 192.4L420.5 192.4L421.3 192.9L422.1 192.4L423.0 191.8L423.8 191.1L424.6 190.6L425.4 190.5L426.2 189.9L427.0 189.7L427.8 189.0L428.6 188.3L429.5 187.8L430.3 187.6L431.1 187.5L431.9 186.6L432.7 186.0L433.5 185.3L434.3 185.1L435.2 184.8L436.0 184.7L436.8 184.8L437.6 184.8L438.4 184.3L439.2 183.7L440.0 183.2L440.9 183.0L441.7 182.4L442.5 181.7L443.3 180.8L444.1 180.0L444.9 179.3L445.7 178.8L446.5 178.7L447.4 178.6L448.2 178.2L449.0 177.9L449.8 177.5L450.6 177.1L451.4 176.5L452.2 175.8L453.1 175.5L453.9 175.4L454.7 175.1L455.5 174.2L456.3 173.0L457.1 172.7L457.9 172.5L458.7 172.2L459.6 172.7L460.4 173.3L461.2 174.0L462.0 174.7L462.8 175.5L463.6 176.0L464.4 176.2L465.3 176.7L466.1 177.4L466.9 178.2L467.7 178.7L468.5 179.6L469.3 180.1L470.1 181.1L470.9 181.5L471.8 182.4L472.6 182.9L473.4 184.1L474.2 185.3L475.0 186.5L475.8 187.7L476.6 188.8L477.5 190.2L478.3 191.6L479.1 193.3L479.9 195.0L480.7 197.3L481.5 199.0L482.3 200.2L483.1 200.6L484.0 201.1L484.8 201.6L485.6 202.5L486.4 203.6L487.2 205.4L488.0 207.7L488.8 210.4L489.7 213.0L490.5 215.4L491.3 217.9L492.1 219.9L492.9 221.7L493.7 223.0L494.5 224.1L495.4 225.6L496.2 226.9L497.0 228.5L497.8 229.8L498.6 231.3L499.4 232.6L500.2 233.9L501.0 235.3L501.9 236.6L502.7 237.5L503.5 238.3L504.3 238.9L505.1 239.3L505.9 239.8L506.7 240.4L507.6 241.3L508.4 242.3L509.2 242.9L510.0 243.9L510.8 244.9L511.6 246.0L512.4 246.8L513.2 247.8L514.1 248.9L514.9 250.0L515.7 250.8L516.5 251.3L517.3 252.1L518.1 252.9L518.9 253.7L519.8 254.6L520.6 255.9L521.4 257.3L522.2 258.7L523.0 260.0L523.8 261.2L524.6 262.4L525.4 263.4L526.3 264.8L527.1 196.8L527.9 209.1L528.7 214.5L529.5 248.2L530.3 267.6L531.1 267.9L532.0 178.2L532.8 230.8L533.6 230.6L534.4 257.4L535.2 268.2L536.0 205.1L536.8 252.4L537.7 221.3L538.5 222.1L539.3 208.8L540.1 237.5L540.9 228.6L541.7 219.2L542.5 199.3L543.3 216.9L544.2 265.6L545.0 273.7L545.8 274.1L546.6 275.2L547.4 231.7L548.2 277.5L549.0 278.6L549.9 278.7L550.7 278.9L551.5 279.0L552.3 279.2L553.1 279.3L553.9 279.3L554.7 279.5L555.5 279.6L556.4 279.7L557.2 279.8L558.0 279.8L558.8 279.9L559.6 280.0L560.4 280.2L561.2 280.3L562.1 280.4L562.9 280.5L563.7 280.6L564.5 280.8L565.3 280.9L566.1 281.1L566.9 281.1L567.7 281.1L568.6 281.2L569.4 281.5L570.2 281.5L571.0 281.6L571.8 281.6L572.6 281.8L573.4 281.8L574.3 282.0L575.1 282.0L575.9 282.1L576.7 282.2L577.5 282.4L578.3 282.4L579.1 282.6L580.0 282.7L580.8 282.8L581.6 283.0L582.4 283.1L583.2 283.1L584.0 283.2L584.8 283.4L585.6 283.5L586.5 283.5L587.3 283.7L588.1 283.8L588.9 283.8L589.7 283.8L590.5 283.8L591.3 283.9L592.2 283.8L593.0 283.9L593.8 284.0L594.6 284.1"/>
<path d="M329.4 283.6L330.2 283.6L331.0 283.6L331.8 283.6L332.7 283.6L333.5 283.6L334.3 283.6L335.1 283.6L335.9 283.6L336.7 283.6L337.5 283.6L338.4 283.6L339.2 283.6L340.0 283.5L340.8 283.6L341.6 283.6L342.4 283.7L343.2 283.6L344.0 283.6L344.9 283.6L345.7 283.6L346.5 283.6L347.3 283.6L348.1 283.7L348.9 283.6L349.7 283.6L350.6 283.5L351.4 283.6L352.2 283.6L353.0 283.6L353.8 283.6L354.6 283.6L355.4 283.6L356.3 283.5L357.1 283.5L357.9 283.6L358.7 283.6L359.5 283.6L360.3 283.6L361.1 283.6L361.9 283.6L362.8 283.6L363.6 283.6L364.4 283.6L365.2 283.6L366.0 283.7L366.8 283.7L367.6 283.6L368.5 283.6L369.3 283.6L370.1 283.7L370.9 283.7L371.7 283.6L372.5 283.6L373.3 283.6L374.1 283.6L375.0 283.6L375.8 283.6L376.6 283.6L377.4 283.6L378.2 283.6L379.0 283.6L379.8 283.6L380.7 282.7L381.5 281.9L382.3 281.0L383.1 275.3L383.9 269.8L384.7 264.5L385.5 259.5L386.3 255.4L387.2 251.4L388.0 247.1L388.8 242.7L389.6 239.2L390.4 235.2L391.2 231.1L392.0 226.9L392.9 223.6L393.7 220.4L394.5 217.6L395.3 215.2L396.1 212.9L396.9 211.4L397.7 210.1L398.6 208.9L399.4 208.1L400.2 207.0L401.0 206.0L401.8 204.9L402.6 204.0L403.4 202.7L404.2 201.3L405.1 199.5L405.9 197.9L406.7 196.3L407.5 194.5L408.3 192.9L409.1 192.4L409.9 192.2L410.8 192.1L411.6 192.3L412.4 192.9L413.2 193.6L414.0 194.3L414.8 195.0L415.6 195.7L416.4 196.0L417.3 195.9L418.1 195.8L418.9 195.3L419.7 194.7L420.5 193.6L421.3 192.6L422.1 190.9L423.0 189.8L423.8 188.6L424.6 187.9L425.4 187.3L426.2 187.3L427.0 187.5L427.8 187.5L428.6 187.0L429.5 186.3L430.3 185.3L431.1 184.2L431.9 183.1L432.7 182.2L433.5 181.2L434.3 180.9L435.2 180.6L436.0 180.8L436.8 180.6L437.6 181.3L438.4 181.7L439.2 181.9L440.0 181.5L440.9 181.2L441.7 181.2L442.5 181.1L443.3 180.6L444.1 180.1L444.9 179.7L445.7 179.6L446.5 179.1L447.4 178.7L448.2 178.0L449.0 177.1L449.8 176.1L450.6 175.5L451.4 175.0L452.2 174.6L453.1 174.6L453.9 174.6L454.7 174.6L455.5 174.0L456.3 173.5L457.1 173.8L457.9 174.3L458.7 174.5L459.6 174.6L460.4 174.8L461.2 174.8L462.0 175.6L462.8 176.3L463.6 176.7L464.4 176.6L465.3 176.8L466.1 177.5L466.9 178.2L467.7 178.2L468.5 178.5L469.3 179.3L470.1 179.6L470.9 180.0L471.8 180.2L472.6 181.4L473.4 182.7L474.2 183.9L475.0 185.0L475.8 186.2L476.6 187.8L477.5 188.8L478.3 190.3L479.1 191.6L479.9 193.4L480.7 195.4L481.5 197.4L482.3 199.5L483.1 201.0L484.0 202.4L484.8 203.4L485.6 204.5L486.4 205.8L487.2 207.1L488.0 209.4L488.8 211.4L489.7 213.8L490.5 215.9L491.3 218.0L492.1 219.8L492.9 221.6L493.7 222.8L494.5 224.0L495.4 225.0L496.2 226.7L497.0 227.9L497.8 229.2L498.6 230.3L499.4 231.7L500.2 232.9L501.0 234.2L501.9 235.2L502.7 235.9L503.5 236.3L504.3 237.0L505.1 237.9L505.9 238.6L506.7 239.4L507.6 240.0L508.4 241.1L509.2 242.2L510.0 243.3L510.8 244.2L511.6 245.0L512.4 246.1L513.2 247.2L514.1 248.2L514.9 248.9L515.7 249.5L516.5 249.9L517.3 250.4L518.1 251.0L518.9 252.0L519.8 253.2L520.6 254.6L521.4 256.1L522.2 257.4L523.0 258.8L523.8 259.9L524.6 261.0L525.4 262.1L526.3 263.7L527.1 168.1L527.9 169.9L528.7 258.8L529.5 249.5L530.3 267.2L531.1 267.5L532.0 186.4L532.8 227.3L533.6 254.0L534.4 261.4L535.2 247.6L536.0 227.6L536.8 224.4L537.7 258.2L538.5 208.4L539.3 207.2L540.1 228.4L540.9 246.6L541.7 215.9L542.5 203.4L543.3 228.5L544.2 262.7L545.0 273.1L545.8 273.5L546.6 274.6L547.4 228.2L548.2 276.9L549.0 278.0L549.9 278.2L550.7 278.4L551.5 278.6L552.3 278.8L553.1 278.9L553.9 279.0L554.7 279.1L555.5 279.2L556.4 279.4L557.2 279.6L558.0 279.7L558.8 279.8L559.6 279.9L560.4 280.0L561.2 280.1L562.1 280.2L562.9 280.3L563.7 280.4L564.5 280.6L565.3 280.8L566.1 280.8L566.9 280.9L567.7 280.9L568.6 281.1L569.4 281.2L570.2 281.3L571.0 281.4L571.8 281.4L572.6 281.5L573.4 281.6L574.3 281.7L575.1 281.8L575.9 281.9L576.7 282.0L577.5 282.1L578.3 282.4L579.1 282.4L580.0 282.5L580.8 282.5L581.6 282.6L582.4 282.7L583.2 282.7L584.0 282.9L584.8 283.0L585.6 283.2L586.5 283.3L587.3 283.4L588.1 283.5L588.9 283.5L589.7 283.5L590.5 283.6L591.3 283.6L592.2 283.7L593.0 283.7L593.8 283.8L594.6 283.8"/>
<path d="M329.4 284.2L330.2 284.2L331.0 284.3L331.8 284.3L332.7 284.3L333.5 284.2L334.3 284.2L335.1 284.2L335.9 284.2L336.7 284.1L337.5 284.2L338.4 284.1L339.2 284.1L340.0 284.1L340.8 284.2L341.6 284.1L342.4 284.1L343.2 284.1L344.0 284.1L344.9 284.1L345.7 284.1L346.5 284.1L347.3 284.1L348.1 284.2L348.9 284.1L349.7 284.2L350.6 284.1L351.4 284.2L352.2 284.2L353.0 284.2L353.8 284.1L354.6 284.1L355.4 284.2L356.3 284.2L357.1 284.2L357.9 284.2L358.7 284.2L359.5 284.3L360.3 284.3L361.1 284.3L361.9 284.3L362.8 284.3L363.6 284.3L364.4 284.2L365.2 284.2L366.0 284.2L366.8 284.3L367.6 284.2L368.5 284.3L369.3 284.2L370.1 284.3L370.9 284.2L371.7 284.2L372.5 284.2L373.3 284.2L374.1 284.2L375.0 284.2L375.8 284.2L376.6 284.2L377.4 284.2L378.2 284.2L379.0 284.2L379.8 284.2L380.7 283.4L381.5 282.6L382.3 281.7L383.1 275.7L383.9 269.7L384.7 263.7L385.5 257.7L386.3 252.6L387.2 247.6L388.0 242.8L388.8 238.4L389.6 235.6L390.4 233.1L391.2 230.2L392.0 227.0L392.9 224.3L393.7 221.7L394.5 219.1L395.3 216.6L396.1 213.4L396.9 211.1L397.7 208.8L398.6 207.0L399.4 205.4L400.2 203.8L401.0 202.4L401.8 201.5L402.6 201.2L403.4 200.7L404.2 200.5L405.1 199.5L405.9 198.5L406.7 196.7L407.5 194.9L408.3 193.5L409.1 192.9L409.9 192.2L410.8 191.6L411.6 191.5L412.4 191.6L413.2 191.8L414.0 191.9L414.8 192.2L415.6 192.8L416.4 192.9L417.3 193.1L418.1 193.0L418.9 192.9L419.7 192.4L420.5 192.0L421.3 191.8L422.1 191.4L423.0 191.2L423.8 190.9L424.6 190.6L425.4 189.9L426.2 189.6L427.0 189.1L427.8 188.9L428.6 188.1L429.5 187.5L430.3 186.3L431.1 185.6L431.9 185.1L432.7 184.9L433.5 184.8L434.3 184.6L435.2 184.8L436.0 184.6L436.8 184.0L437.6 183.0L438.4 181.7L439.2 179.7L440.0 178.3L440.9 177.1L441.7 177.1L442.5 176.9L443.3 177.0L444.1 176.5L444.9 176.0L445.7 175.5L446.5 175.1L447.4 174.4L448.2 173.7L449.0 173.1L449.8 173.0L450.6 173.4L451.4 173.7L452.2 174.1L453.1 173.5L453.9 172.7L454.7 172.0L455.5 171.0L456.3 170.3L457.1 170.7L457.9 171.7L458.7 172.5L459.6 173.5L460.4 174.3L461.2 173.9L462.0 173.2L462.8 172.4L463.6 172.5L464.4 172.9L465.3 173.4L466.1 174.4L466.9 175.4L467.7 176.5L468.5 177.1L469.3 177.5L470.1 178.0L470.9 178.6L471.8 179.0L472.6 179.4L473.4 179.8L474.2 180.5L475.0 181.2L475.8 182.5L476.6 184.0L477.5 185.9L478.3 187.9L479.1 190.1L479.9 191.7L480.7 193.5L481.5 195.1L482.3 196.9L483.1 198.3L484.0 199.4L484.8 200.4L485.6 201.6L486.4 202.8L487.2 204.0L488.0 205.9L488.8 208.1L489.7 210.6L490.5 212.9L491.3 214.8L492.1 216.7L492.9 218.3L493.7 220.0L494.5 221.6L495.4 223.7L496.2 226.3L497.0 228.0L497.8 229.3L498.6 229.8L499.4 230.6L500.2 231.1L501.0 231.8L501.9 232.7L502.7 233.5L503.5 234.6L504.3 235.4L505.1 236.6L505.9 237.5L506.7 238.4L507.6 239.3L508.4 240.1L509.2 240.9L510.0 241.7L510.8 242.6L511.6 243.7L512.4 244.8L513.2 246.0L514.1 246.9L514.9 248.2L515.7 249.5L516.5 250.7L517.3 251.9L518.1 252.8L518.9 254.0L519.8 255.0L520.6 255.9L521.4 256.6L522.2 257.6L523.0 258.6L523.8 259.7L524.6 260.7L525.4 262.0L526.3 263.8L527.1 169.5L527.9 164.7L528.7 225.9L529.5 240.7L530.3 267.1L531.1 267.5L532.0 194.6L532.8 219.2L533.6 264.9L534.4 260.5L535.2 261.5L536.0 202.0L536.8 235.9L537.7 237.7L538.5 205.0L539.3 220.5L540.1 254.2L540.9 239.0L541.7 244.1L542.5 218.5L543.3 233.7L544.2 256.9L545.0 273.7L545.8 274.1L546.6 275.2L547.4 246.5L548.2 277.4L549.0 278.5L549.9 278.6L550.7 278.7L551.5 278.9L552.3 279.0L553.1 279.2L553.9 279.3L554.7 279.5L555.5 279.7L556.4 279.8L557.2 280.0L558.0 280.0L558.8 280.2L559.6 280.3L560.4 280.4L561.2 280.5L562.1 280.6L562.9 280.7L563.7 280.8L564.5 280.8L565.3 280.9L566.1 281.0L566.9 281.2L567.7 281.4L568.6 281.5L569.4 281.5L570.2 281.6L571.0 281.7L571.8 281.8L572.6 281.9L573.4 282.1L574.3 282.2L575.1 282.3L575.9 282.3L576.7 282.4L577.5 282.6L578.3 282.7L579.1 282.9L580.0 283.0L580.8 283.0L581.6 283.2L582.4 283.3L583.2 283.4L584.0 283.5L584.8 283.6L585.6 283.7L586.5 283.8L587.3 283.9L588.1 284.0L588.9 284.1L589.7 284.2L590.5 284.2L591.3 284.2L592.2 284.2L593.0 284.2L593.8 284.3L594.6 284.3"/>
<path d="M329.4 283.8L330.2 283.8L331.0 283.7L331.8 283.7L332.7 283.8L333.5 283.8L334.3 283.7L335.1 283.7L335.9 283.7L336.7 283.7L337.5 283.7L338.4 283.7L339.2 283.7L340.0 283.8L340.8 283.9L341.6 283.8L342.4 283.8L343.2 283.8L344.0 283.8L344.9 283.8L345.7 283.7L346.5 283.7L347.3 283.8L348.1 283.8L348.9 283.7L349.7 283.7L350.6 283.7L351.4 283.8L352.2 283.8L353.0 283.8L353.8 283.8L354.6 283.8L355.4 283.8L356.3 283.8L357.1 283.8L357.9 283.8L358.7 283.8L359.5 283.8L360.3 283.7L361.1 283.8L361.9 283.8L362.8 283.8L363.6 283.9L364.4 283.8L365.2 283.8L366.0 283.7L366.8 283.8L367.6 283.8L368.5 283.8L369.3 283.7L370.1 283.8L370.9 283.8L371.7 283.8L372.5 283.8L373.3 283.8L374.1 283.9L375.0 283.8L375.8 283.8L376.6 283.7L377.4 283.8L378.2 283.9L379.0 283.8L379.8 283.8L380.7 282.9L381.5 282.2L382.3 281.4L383.1 275.6L383.9 269.9L384.7 264.3L385.5 258.8L386.3 254.1L387.2 249.5L388.0 244.6L388.8 239.7L389.6 236.3L390.4 232.9L391.2 229.5L392.0 225.8L392.9 222.9L393.7 219.9L394.5 216.2L395.3 213.0L396.1 209.9L396.9 208.0L397.7 206.1L398.6 204.1L399.4 202.2L400.2 200.5L401.0 199.2L401.8 198.7L402.6 198.3L403.4 197.8L404.2 196.8L405.1 196.1L405.9 195.7L406.7 195.5L407.5 194.7L408.3 194.2L409.1 194.1L409.9 193.8L410.8 193.0L411.6 192.5L412.4 192.3L413.2 192.5L414.0 192.7L414.8 193.1L415.6 194.0L416.4 194.5L417.3 195.4L418.1 195.4L418.9 195.3L419.7 194.8L420.5 194.7L421.3 194.5L422.1 193.9L423.0 193.2L423.8 192.9L424.6 192.5L425.4 191.9L426.2 191.2L427.0 190.5L427.8 189.4L428.6 73.8L429.5 186.4L430.3 184.6L431.1 183.4L431.9 182.7L432.7 182.8L433.5 182.6L434.3 182.4L435.2 182.0L436.0 181.1L436.8 180.5L437.6 179.3L438.4 178.5L439.2 177.6L440.0 177.6L440.9 177.6L441.7 177.6L442.5 177.6L443.3 177.9L444.1 178.2L444.9 178.2L445.7 178.3L446.5 177.7L447.4 177.1L448.2 176.3L449.0 175.3L449.8 174.2L450.6 172.7L451.4 171.4L452.2 170.6L453.1 170.1L453.9 169.9L454.7 169.9L455.5 169.9L456.3 169.5L457.1 170.3L457.9 171.2L458.7 171.7L459.6 171.9L460.4 172.1L461.2 171.8L462.0 171.8L462.8 171.6L463.6 171.6L464.4 171.5L465.3 171.9L466.1 172.8L466.9 173.9L467.7 174.4L468.5 175.2L469.3 175.9L470.1 177.1L470.9 178.0L471.8 178.8L472.6 178.9L473.4 179.4L474.2 179.9L475.0 181.2L475.8 182.3L476.6 183.5L477.5 184.9L478.3 186.0L479.1 187.3L479.9 188.5L480.7 190.0L481.5 191.6L482.3 193.4L483.1 195.6L484.0 197.4L484.8 199.3L485.6 201.4L486.4 204.0L487.2 206.4L488.0 208.6L488.8 210.1L489.7 211.1L490.5 212.1L491.3 213.2L492.1 214.5L492.9 215.6L493.7 217.4L494.5 219.4L495.4 221.8L496.2 223.9L497.0 225.8L497.8 227.4L498.6 229.1L499.4 230.7L500.2 232.1L501.0 233.1L501.9 234.3L502.7 235.0L503.5 235.6L504.3 236.3L505.1 237.1L505.9 237.8L506.7 238.5L507.6 239.3L508.4 240.1L509.2 240.9L510.0 241.8L510.8 242.9L511.6 243.7L512.4 244.6L513.2 245.6L514.1 246.6L514.9 247.6L515.7 248.6L516.5 249.7L517.3 250.7L518.1 251.4L518.9 252.2L519.8 253.0L520.6 254.2L521.4 255.1L522.2 256.2L523.0 257.2L523.8 258.5L524.6 259.6L525.4 260.6L526.3 262.1L527.1 207.4L527.9 171.3L528.7 251.7L529.5 261.4L530.3 266.1L531.1 266.7L532.0 214.7L532.8 215.6L533.6 225.7L534.4 257.0L535.2 244.6L536.0 227.0L536.8 242.3L537.7 227.1L538.5 221.8L539.3 215.8L540.1 225.6L540.9 264.8L541.7 260.0L542.5 212.3L543.3 222.0L544.2 264.8L545.0 272.5L545.8 272.9L546.6 274.1L547.4 242.7L548.2 276.5L549.0 277.8L549.9 278.0L550.7 278.3L551.5 278.4L552.3 278.5L553.1 278.6L553.9 278.7L554.7 278.9L555.5 279.0L556.4 279.2L557.2 279.4L558.0 279.5L558.8 279.6L559.6 279.7L560.4 279.8L561.2 279.9L562.1 280.0L562.9 280.1L563.7 280.2L564.5 280.3L565.3 280.5L566.1 280.6L566.9 280.8L567.7 280.8L568.6 280.9L569.4 281.0L570.2 281.0L571.0 281.1L571.8 281.3L572.6 281.4L573.4 281.5L574.3 281.6L575.1 281.8L575.9 281.9L576.7 282.0L577.5 282.2L578.3 282.2L579.1 282.4L580.0 282.4L580.8 282.4L581.6 282.5L582.4 282.7L583.2 282.8L584.0 283.0L584.8 283.0L585.6 283.2L586.5 283.3L587.3 283.4L588.1 283.5L588.9 283.6L589.7 283.6L590.5 283.7L591.3 283.7L592.2 283.7L593.0 283.8L593.8 283.9L594.6 283.9"/>
<path d="M329.4 284.2L330.2 284.1L331.0 284.2L331.8 284.2L332.7 284.2L333.5 284.2L334.3 284.1L335.1 284.2L335.9 284.2L336.7 284.2L337.5 284.2L338.4 284.2L339.2 284.2L340.0 284.2L340.8 284.2L341.6 284.1L342.4 284.1L343.2 284.1L344.0 284.1L344.9 284.2L345.7 284.1L346.5 284.2L347.3 284.2L348.1 284.2L348.9 284.2L349.7 284.2L350.6 284.1L351.4 284.2L352.2 284.1L353.0 284.1L353.8 284.1L354.6 284.1L355.4 284.1L356.3 284.2L357.1 284.2L357.9 284.2L358.7 284.1L359.5 284.1L360.3 284.1L361.1 284.1L361.9 284.1L362.8 284.1L363.6 284.1L364.4 284.1L365.2 284.2L366.0 284.1L366.8 284.1L367.6 284.1L368.5 284.1L369.3 284.1L370.1 284.1L370.9 284.1L371.7 284.1L372.5 284.0L373.3 284.1L374.1 284.1L375.0 284.2L375.8 284.1L376.6 284.2L377.4 284.1L378.2 284.1L379.0 284.1L379.8 284.1L380.7 283.3L381.5 282.5L382.3 281.7L383.1 275.6L383.9 269.6L384.7 263.7L385.5 257.9L386.3 253.4L387.2 249.1L388.0 244.5L388.8 239.6L389.6 235.6L390.4 231.4L391.2 226.9L392.0 222.9L392.9 219.9L393.7 216.7L394.5 213.9L395.3 210.9L396.1 208.2L396.9 206.0L397.7 203.9L398.6 202.0L399.4 200.5L400.2 199.3L401.0 198.2L401.8 197.4L402.6 196.5L403.4 195.7L404.2 195.2L405.1 194.6L405.9 194.6L406.7 193.9L407.5 193.6L408.3 192.8L409.1 192.6L409.9 191.9L410.8 191.5L411.6 191.1L412.4 191.0L413.2 190.7L414.0 190.8L414.8 191.1L415.6 190.8L416.4 190.5L417.3 189.8L418.1 189.3L418.9 188.8L419.7 189.2L420.5 189.8L421.3 190.7L422.1 190.6L423.0 190.1L423.8 189.1L424.6 188.2L425.4 187.4L426.2 186.5L427.0 185.9L427.8 185.6L428.6 185.5L429.5 185.5L430.3 185.7L431.1 186.0L431.9 186.5L432.7 186.5L433.5 186.0L434.3 184.7L435.2 183.0L436.0 180.9L436.8 179.2L437.6 177.7L438.4 176.4L439.2 175.2L440.0 174.2L440.9 173.9L441.7 173.8L442.5 174.2L443.3 174.3L444.1 174.6L444.9 175.1L445.7 175.6L446.5 175.8L447.4 175.4L448.2 175.4L449.0 174.9L449.8 174.3L450.6 172.8L451.4 172.0L452.2 171.5L453.1 171.4L453.9 171.1L454.7 170.5L455.5 169.8L456.3 168.8L457.1 168.9L457.9 169.3L458.7 169.8L459.6 170.6L460.4 171.5L461.2 171.3L462.0 171.1L462.8 170.3L463.6 169.8L464.4 169.4L465.3 169.6L466.1 171.1L466.9 172.5L467.7 173.7L468.5 174.7L469.3 175.5L470.1 176.2L470.9 177.0L471.8 177.7L472.6 178.5L473.4 179.2L474.2 180.6L475.0 181.7L475.8 182.8L476.6 184.1L477.5 185.2L478.3 186.7L479.1 187.6L479.9 189.1L480.7 190.3L481.5 191.6L482.3 193.1L483.1 194.6L484.0 196.1L484.8 197.4L485.6 199.1L486.4 200.5L487.2 202.3L488.0 204.3L488.8 206.9L489.7 209.2L490.5 211.0L491.3 212.7L492.1 214.4L492.9 216.3L493.7 218.3L494.5 220.3L495.4 222.3L496.2 224.3L497.0 226.2L497.8 227.4L498.6 229.0L499.4 230.2L500.2 231.7L501.0 232.9L501.9 233.9L502.7 234.3L503.5 234.5L504.3 234.8L505.1 235.2L505.9 235.9L506.7 236.7L507.6 237.7L508.4 238.6L509.2 239.7L510.0 240.8L510.8 242.0L511.6 242.9L512.4 243.8L513.2 244.4L514.1 245.4L514.9 246.3L515.7 247.7L516.5 249.0L517.3 250.2L518.1 251.4L518.9 252.6L519.8 253.7L520.6 254.9L521.4 255.9L522.2 256.8L523.0 257.7L523.8 258.7L524.6 259.7L525.4 260.8L526.3 262.6L527.1 188.7L527.9 207.9L528.7 239.5L529.5 238.2L530.3 266.7L531.1 267.1L532.0 200.1L532.8 229.2L533.6 243.0L534.4 265.6L535.2 246.5L536.0 214.8L536.8 243.4L537.7 258.0L538.5 203.4L539.3 210.0L540.1 220.9L540.9 257.7L541.7 245.3L542.5 192.4L543.3 237.6L544.2 260.2L545.0 272.7L545.8 273.2L546.6 274.3L547.4 235.5L548.2 276.7L549.0 277.8L549.9 278.0L550.7 278.2L551.5 278.4L552.3 278.6L553.1 278.8L553.9 279.1L554.7 279.2L555.5 279.4L556.4 279.5L557.2 279.6L558.0 279.8L558.8 279.9L559.6 280.0L560.4 280.0L561.2 280.1L562.1 280.3L562.9 280.5L563.7 280.7L564.5 280.7L565.3 280.8L566.1 280.8L566.9 280.9L567.7 281.1L568.6 281.2L569.4 281.2L570.2 281.3L571.0 281.4L571.8 281.6L572.6 281.7L573.4 281.8L574.3 281.9L575.1 282.0L575.9 282.2L576.7 282.2L577.5 282.3L578.3 282.4L579.1 282.6L580.0 282.7L580.8 282.8L581.6 282.9L582.4 283.0L583.2 283.1L584.0 283.2L584.8 283.3L585.6 283.4L586.5 283.5L587.3 283.7L588.1 283.8L588.9 283.9L589.7 283.9L590.5 283.9L591.3 283.9L592.2 284.0L593.0 284.1L593.8 284.2L594.6 284.2"/>
<path d="M329.4 284.4L330.2 284.4L331.0 284.3L331.8 284.3L332.7 284.4L333.5 284.3L334.3 284.3L335.1 284.3L335.9 284.3L336.7 284.2L337.5 284.2L338.4 284.2L339.2 284.3L340.0 284.3L340.8 284.4L341.6 284.3L342.4 284.3L343.2 284.3L344.0 284.3L344.9 284.3L345.7 284.3L346.5 284.3L347.3 284.4L348.1 284.4L348.9 284.4L349.7 284.4L350.6 284.4L351.4 284.4L352.2 284.3L353.0 284.3L353.8 284.3L354.6 284.3L355.4 284.4L356.3 284.3L357.1 284.3L357.9 284.3L358.7 284.4L359.5 284.4L360.3 284.3L361.1 284.3L361.9 284.3L362.8 284.4L363.6 284.4L364.4 284.4L365.2 284.4L366.0 284.3L366.8 284.3L367.6 284.4L368.5 284.4L369.3 284.4L370.1 284.4L370.9 284.4L371.7 284.5L372.5 284.4L373.3 284.4L374.1 284.3L375.0 284.4L375.8 284.3L376.6 284.3L377.4 284.3L378.2 284.3L379.0 284.4L379.8 284.4L380.7 283.5L381.5 282.6L382.3 281.7L383.1 275.6L383.9 269.6L384.7 263.7L385.5 257.7L386.3 252.7L387.2 247.4L388.0 242.0L388.8 236.8L389.6 233.0L390.4 229.3L391.2 225.8L392.0 222.1L392.9 219.2L393.7 216.2L394.5 213.4L395.3 211.1L396.1 208.4L396.9 206.9L397.7 205.1L398.6 203.6L399.4 202.0L400.2 200.0L401.0 198.1L401.8 196.9L402.6 195.9L403.4 195.4L404.2 195.0L405.1 194.8L405.9 194.7L406.7 194.5L407.5 193.6L408.3 192.7L409.1 191.8L409.9 191.1L410.8 190.4L411.6 190.0L412.4 189.6L413.2 189.1L414.0 188.9L414.8 188.6L415.6 188.2L416.4 188.3L417.3 188.6L418.1 188.5L418.9 188.6L419.7 188.7L420.5 188.5L421.3 187.9L422.1 186.8L423.0 186.1L423.8 185.7L424.6 185.6L425.4 186.0L426.2 186.5L427.0 186.9L427.8 187.4L428.6 187.5L429.5 187.4L430.3 186.5L431.1 185.1L431.9 183.7L432.7 148.6L433.5 181.5L434.3 180.5L435.2 179.8L436.0 179.4L436.8 179.4L437.6 178.9L438.4 178.6L439.2 178.1L440.0 177.8L440.9 177.2L441.7 176.2L442.5 175.6L443.3 174.9L444.1 174.7L444.9 174.4L445.7 174.0L446.5 173.8L447.4 173.4L448.2 173.0L449.0 172.0L449.8 171.6L450.6 170.8L451.4 170.1L452.2 169.3L453.1 168.7L453.9 168.2L454.7 167.7L455.5 167.0L456.3 166.9L457.1 167.7L457.9 169.1L458.7 170.2L459.6 171.5L460.4 172.7L461.2 172.5L462.0 172.3L462.8 171.8L463.6 170.8L464.4 169.7L465.3 168.9L466.1 169.5L466.9 170.7L467.7 172.0L468.5 173.8L469.3 175.6L470.1 177.6L470.9 179.1L471.8 180.1L472.6 180.4L473.4 180.5L474.2 180.3L475.0 180.4L475.8 180.5L476.6 181.7L477.5 182.9L478.3 184.5L479.1 186.1L479.9 188.4L480.7 190.5L481.5 192.8L482.3 194.2L483.1 196.0L484.0 197.3L484.8 198.6L485.6 199.3L486.4 200.2L487.2 201.3L488.0 202.8L488.8 204.4L489.7 206.4L490.5 208.5L491.3 210.8L492.1 213.0L492.9 215.2L493.7 217.2L494.5 219.3L495.4 221.5L496.2 223.7L497.0 225.4L497.8 226.8L498.6 227.9L499.4 229.2L500.2 230.1L501.0 231.2L501.9 232.1L502.7 232.7L503.5 233.5L504.3 234.1L505.1 234.9L505.9 235.6L506.7 236.4L507.6 237.6L508.4 239.1L509.2 240.5L510.0 241.9L510.8 242.7L511.6 243.8L512.4 244.4L513.2 245.3L514.1 246.1L514.9 247.1L515.7 248.2L516.5 249.2L517.3 250.2L518.1 251.1L518.9 252.1L519.8 253.2L520.6 254.4L521.4 255.6L522.2 256.8L523.0 257.8L523.8 258.9L524.6 259.8L525.4 260.9L526.3 262.3L527.1 173.9L527.9 165.6L528.7 208.1L529.5 231.2L530.3 265.6L531.1 266.0L532.0 190.2L532.8 222.4L533.6 247.7L534.4 266.0L535.2 262.1L536.0 202.2L536.8 253.0L537.7 260.7L538.5 215.0L539.3 223.6L540.1 254.2L540.9 256.2L541.7 257.9L542.5 212.9L543.3 231.9L544.2 252.1L545.0 272.6L545.8 272.9L546.6 274.1L547.4 243.4L548.2 276.5L549.0 277.6L549.9 277.8L550.7 277.9L551.5 278.1L552.3 278.3L553.1 278.5L553.9 278.7L554.7 278.9L555.5 279.1L556.4 279.4L557.2 279.6L558.0 279.8L558.8 279.8L559.6 279.8L560.4 279.8L561.2 280.0L562.1 280.1L562.9 280.3L563.7 280.3L564.5 280.4L565.3 280.5L566.1 280.6L566.9 280.8L567.7 280.9L568.6 281.0L569.4 281.1L570.2 281.3L571.0 281.4L571.8 281.6L572.6 281.7L573.4 281.8L574.3 282.0L575.1 282.2L575.9 282.2L576.7 282.3L577.5 282.4L578.3 282.6L579.1 282.7L580.0 282.7L580.8 282.8L581.6 282.9L582.4 283.1L583.2 283.1L584.0 283.3L584.8 283.4L585.6 283.6L586.5 283.6L587.3 283.7L588.1 283.8L588.9 283.9L589.7 284.0L590.5 284.1L591.3 284.1L592.2 284.1L593.0 284.2L593.8 284.2L594.6 284.4"/>
<path d="M329.4 283.6L330.2 283.7L331.0 283.7L331.8 283.7L332.7 283.7L333.5 283.6L334.3 283.7L335.1 283.7L335.9 283.7L336.7 283.7L337.5 283.7L338.4 283.7L339.2 283.7L340.0 283.8L340.8 283.8L341.6 283.7L342.4 283.7L343.2 283.7L344.0 283.7L344.9 283.7L345.7 283.7L346.5 283.7L347.3 283.7L348.1 283.7L348.9 283.7L349.7 283.7L350.6 283.7L351.4 283.7L352.2 283.7L353.0 283.7L353.8 283.7L354.6 283.7L355.4 283.6L356.3 283.6L357.1 283.7L357.9 283.6L358.7 283.6L359.5 283.6L360.3 283.7L361.1 283.7L361.9 283.6L362.8 283.6L363.6 283.7L364.4 283.8L365.2 283.8L366.0 283.7L366.8 283.7L367.6 283.7L368.5 283.7L369.3 283.7L370.1 283.7L370.9 283.7L371.7 283.7L372.5 283.7L373.3 283.7L374.1 283.7L375.0 283.7L375.8 283.7L376.6 283.7L377.4 283.6L378.2 283.6L379.0 283.6L379.8 283.6L380.7 282.8L381.5 281.9L382.3 281.1L383.1 275.1L383.9 269.3L384.7 263.4L385.5 257.6L386.3 252.7L387.2 247.7L388.0 242.4L388.8 236.9L389.6 232.3L390.4 227.7L391.2 223.3L392.0 219.2L392.9 216.2L393.7 213.2L394.5 210.7L395.3 208.4L396.1 206.4L396.9 205.4L397.7 204.6L398.6 203.2L399.4 201.5L400.2 199.4L401.0 197.5L401.8 195.9L402.6 194.1L403.4 192.3L404.2 190.8L405.1 189.8L405.9 189.1L406.7 188.4L407.5 187.4L408.3 186.7L409.1 186.8L409.9 186.8L410.8 186.9L411.6 186.9L412.4 186.5L413.2 185.7L414.0 184.9L414.8 184.9L415.6 185.1L416.4 186.3L417.3 187.4L418.1 188.6L418.9 189.2L419.7 189.7L420.5 189.6L421.3 189.1L422.1 188.2L423.0 187.3L423.8 186.9L424.6 186.6L425.4 186.3L426.2 185.7L427.0 185.1L427.8 184.3L428.6 183.5L429.5 182.8L430.3 182.3L431.1 182.2L431.9 181.8L432.7 181.7L433.5 181.4L434.3 181.3L435.2 180.7L436.0 180.3L436.8 179.6L437.6 178.8L438.4 178.1L439.2 177.5L440.0 177.3L440.9 176.9L441.7 176.4L442.5 175.9L443.3 175.0L444.1 174.4L444.9 174.0L445.7 173.7L446.5 174.0L447.4 111.2L448.2 174.4L449.0 173.7L449.8 172.2L450.6 170.7L451.4 168.7L452.2 167.3L453.1 165.9L453.9 165.0L454.7 164.3L455.5 164.2L456.3 163.9L457.1 165.3L457.9 166.5L458.7 168.1L459.6 169.8L460.4 170.8L461.2 170.6L462.0 169.7L462.8 169.4L463.6 168.5L464.4 167.8L465.3 167.2L466.1 167.5L466.9 168.4L467.7 169.3L468.5 170.7L469.3 171.9L470.1 173.4L470.9 175.0L471.8 176.2L472.6 177.1L473.4 177.9L474.2 178.9L475.0 179.6L475.8 180.3L476.6 180.7L477.5 181.2L478.3 181.9L479.1 183.3L479.9 185.1L480.7 187.4L481.5 189.8L482.3 192.5L483.1 194.5L484.0 196.6L484.8 198.1L485.6 199.3L486.4 200.4L487.2 201.7L488.0 203.9L488.8 205.4L489.7 207.3L490.5 209.0L491.3 211.2L492.1 213.5L492.9 215.4L493.7 216.9L494.5 218.2L495.4 219.9L496.2 221.6L497.0 223.1L497.8 224.3L498.6 225.6L499.4 226.8L500.2 228.2L501.0 229.5L501.9 230.6L502.7 231.5L503.5 232.5L504.3 233.6L505.1 234.2L505.9 235.0L506.7 235.7L507.6 236.7L508.4 237.2L509.2 238.3L510.0 239.4L510.8 240.7L511.6 241.8L512.4 243.2L513.2 244.5L514.1 245.5L514.9 246.3L515.7 247.4L516.5 248.5L517.3 249.5L518.1 250.4L518.9 251.3L519.8 252.1L520.6 252.9L521.4 253.6L522.2 254.5L523.0 255.7L523.8 256.9L524.6 258.3L525.4 259.4L526.3 260.9L527.1 201.8L527.9 165.9L528.7 236.9L529.5 248.6L530.3 265.0L531.1 265.4L532.0 195.8L532.8 224.7L533.6 253.8L534.4 263.5L535.2 253.7L536.0 205.8L536.8 226.4L537.7 252.5L538.5 216.7L539.3 227.8L540.1 217.3L540.9 244.4L541.7 250.5L542.5 203.1L543.3 228.0L544.2 259.7L545.0 271.8L545.8 272.1L546.6 273.2L547.4 245.7L548.2 275.8L549.0 277.0L549.9 277.2L550.7 277.3L551.5 277.6L552.3 277.7L553.1 277.9L553.9 278.0L554.7 278.2L555.5 278.4L556.4 278.7L557.2 278.7L558.0 278.9L558.8 278.9L559.6 279.0L560.4 279.2L561.2 279.4L562.1 279.6L562.9 279.7L563.7 279.8L564.5 279.9L565.3 280.0L566.1 280.1L566.9 280.2L567.7 280.3L568.6 280.4L569.4 280.5L570.2 280.6L571.0 280.6L571.8 280.7L572.6 280.9L573.4 281.0L574.3 281.2L575.1 281.3L575.9 281.4L576.7 281.5L577.5 281.6L578.3 281.8L579.1 281.9L580.0 282.0L580.8 282.1L581.6 282.2L582.4 282.3L583.2 282.4L584.0 282.5L584.8 282.7L585.6 282.8L586.5 282.9L587.3 283.0L588.1 283.0L588.9 283.1L589.7 283.2L590.5 283.3L591.3 283.3L592.2 283.4L593.0 283.4L593.8 283.5L594.6 283.6"/>
<path d="M329.4 283.6L330.2 283.6L331.0 283.6L331.8 283.6L332.7 283.6L333.5 283.7L334.3 283.6L335.1 283.6L335.9 283.6L336.7 283.7L337.5 283.6L338.4 283.6L339.2 283.6L340.0 283.6L340.8 283.7L341.6 283.7L342.4 283.6L343.2 283.6L344.0 283.7L344.9 283.7L345.7 283.7L346.5 283.6L347.3 283.6L348.1 283.6L348.9 283.6L349.7 283.6L350.6 283.6L351.4 283.6L352.2 283.6L353.0 283.7L353.8 283.8L354.6 283.8L355.4 283.7L356.3 283.6L357.1 283.6L357.9 283.6L358.7 283.7L359.5 283.6L360.3 283.7L361.1 283.6L361.9 283.7L362.8 283.7L363.6 283.7L364.4 283.6L365.2 283.6L366.0 283.6L366.8 283.7L367.6 283.6L368.5 283.7L369.3 283.7L370.1 283.7L370.9 283.7L371.7 283.7L372.5 283.7L373.3 283.7L374.1 283.6L375.0 283.7L375.8 283.6L376.6 283.7L377.4 283.7L378.2 283.6L379.0 283.6L379.8 283.6L380.7 282.7L381.5 281.7L382.3 280.8L383.1 274.5L383.9 268.1L384.7 261.7L385.5 255.3L386.3 250.5L387.2 245.5L388.0 240.4L388.8 235.0L389.6 230.9L390.4 226.9L391.2 223.4L392.0 220.0L392.9 217.6L393.7 215.1L394.5 212.6L395.3 210.3L396.1 207.9L396.9 206.1L397.7 204.0L398.6 201.3L399.4 198.8L400.2 196.1L401.0 194.2L401.8 193.0L402.6 192.3L403.4 191.4L404.2 190.7L405.1 189.7L405.9 189.2L406.7 188.8L407.5 188.3L408.3 187.6L409.1 187.5L409.9 187.5L410.8 187.5L411.6 187.3L412.4 187.1L413.2 186.8L414.0 186.4L414.8 186.1L415.6 186.0L416.4 186.2L417.3 186.5L418.1 186.4L418.9 186.6L419.7 186.2L420.5 186.2L421.3 185.6L422.1 185.5L423.0 185.0L423.8 184.9L424.6 184.2L425.4 183.4L426.2 182.5L427.0 182.5L427.8 182.7L428.6 183.0L429.5 183.0L430.3 182.4L431.1 181.5L431.9 180.3L432.7 179.2L433.5 178.3L434.3 177.8L435.2 177.4L436.0 177.3L436.8 176.8L437.6 176.8L438.4 176.8L439.2 176.9L440.0 177.2L440.9 176.7L441.7 176.4L442.5 175.0L443.3 174.0L444.1 172.8L444.9 172.1L445.7 171.6L446.5 171.0L447.4 170.6L448.2 170.2L449.0 169.7L449.8 169.2L450.6 168.5L451.4 167.7L452.2 166.5L453.1 165.9L453.9 165.5L454.7 165.2L455.5 164.4L456.3 163.6L457.1 164.5L457.9 165.4L458.7 166.4L459.6 166.8L460.4 167.3L461.2 166.3L462.0 165.4L462.8 165.0L463.6 164.8L464.4 165.4L465.3 165.9L466.1 167.3L466.9 168.2L467.7 169.1L468.5 169.4L469.3 169.5L470.1 169.6L470.9 170.3L471.8 171.5L472.6 172.7L473.4 174.3L474.2 176.2L475.0 178.0L475.8 179.7L476.6 181.0L477.5 182.3L478.3 183.3L479.1 184.7L479.9 186.3L480.7 187.7L481.5 189.0L482.3 190.2L483.1 192.1L484.0 193.4L484.8 195.2L485.6 196.6L486.4 198.3L487.2 199.4L488.0 200.5L488.8 201.7L489.7 203.6L490.5 205.4L491.3 207.3L492.1 208.9L492.9 210.8L493.7 212.7L494.5 214.6L495.4 216.6L496.2 218.6L497.0 220.4L497.8 222.1L498.6 224.0L499.4 225.9L500.2 227.6L501.0 229.2L501.9 230.2L502.7 231.0L503.5 231.8L504.3 232.5L505.1 233.2L505.9 233.6L506.7 234.1L507.6 234.6L508.4 235.4L509.2 236.3L510.0 237.2L510.8 238.2L511.6 239.0L512.4 239.9L513.2 240.8L514.1 241.8L514.9 242.7L515.7 243.9L516.5 245.5L517.3 247.2L518.1 248.8L518.9 250.3L519.8 251.5L520.6 252.6L521.4 253.6L522.2 254.4L523.0 255.2L523.8 256.3L524.6 257.6L525.4 258.8L526.3 260.7L527.1 209.9L527.9 199.6L528.7 225.7L529.5 257.5L530.3 264.7L531.1 265.0L532.0 192.0L532.8 204.1L533.6 251.2L534.4 250.4L535.2 253.3L536.0 228.9L536.8 239.3L537.7 249.8L538.5 214.4L539.3 215.0L540.1 267.1L540.9 257.6L541.7 269.0L542.5 186.6L543.3 229.8L544.2 243.6L545.0 271.5L545.8 271.8L546.6 272.9L547.4 240.1L548.2 275.4L549.0 276.6L549.9 276.8L550.7 277.0L551.5 277.2L552.3 277.4L553.1 277.6L553.9 277.8L554.7 277.9L555.5 278.0L556.4 278.3L557.2 278.5L558.0 278.7L558.8 278.8L559.6 279.0L560.4 279.1L561.2 279.3L562.1 279.4L562.9 279.4L563.7 279.5L564.5 279.5L565.3 279.7L566.1 279.9L566.9 280.0L567.7 280.1L568.6 280.2L569.4 280.4L570.2 280.6L571.0 280.7L571.8 280.8L572.6 280.8L573.4 281.0L574.3 281.1L575.1 281.2L575.9 281.4L576.7 281.4L577.5 281.6L578.3 281.6L579.1 281.8L580.0 281.8L580.8 281.9L581.6 281.9L582.4 282.2L583.2 282.3L584.0 282.5L584.8 282.6L585.6 282.7L586.5 282.8L587.3 282.9L588.1 283.0L588.9 283.1L589.7 283.1L590.5 283.2L591.3 283.3L592.2 283.4L593.0 283.5L593.8 283.5L594.6 283.6"/>
<path d="M329.4 284.1L330.2 284.2L331.0 284.1L331.8 284.1L332.7 284.1L333.5 284.1L334.3 284.1L335.1 284.1L335.9 284.1L336.7 284.1L337.5 284.1L338.4 284.1L339.2 284.1L340.0 284.1L340.8 284.1L341.6 284.1L342.4 284.1L343.2 284.1L344.0 284.2L344.9 284.1L345.7 284.0L346.5 284.0L347.3 284.1L348.1 284.1L348.9 284.1L349.7 284.2L350.6 284.2L351.4 284.2L352.2 284.2L353.0 284.2L353.8 284.2L354.6 284.1L355.4 284.1L356.3 284.1L357.1 284.1L357.9 284.2L358.7 284.2L359.5 284.1L360.3 284.0L361.1 284.1L361.9 284.1L362.8 284.1L363.6 284.1L364.4 284.1L365.2 284.1L366.0 284.1L366.8 284.1L367.6 284.2L368.5 284.1L369.3 284.1L370.1 284.1L370.9 284.1L371.7 284.2L372.5 284.1L373.3 284.1L374.1 284.1L375.0 284.2L375.8 284.1L376.6 284.1L377.4 284.1L378.2 284.2L379.0 284.1L379.8 284.1L380.7 283.2L381.5 282.3L382.3 281.3L383.1 274.8L383.9 268.3L384.7 261.7L385.5 255.3L386.3 250.1L387.2 245.0L388.0 239.9L388.8 235.0L389.6 231.2L390.4 227.3L391.2 223.5L392.0 219.4L392.9 216.3L393.7 213.0L394.5 209.7L395.3 207.1L396.1 204.3L396.9 203.2L397.7 202.1L398.6 201.0L399.4 199.8L400.2 198.4L401.0 196.7L401.8 195.2L402.6 192.9L403.4 190.9L404.2 189.0L405.1 187.2L405.9 186.6L406.7 186.2L407.5 185.8L408.3 185.1L409.1 185.0L409.9 185.3L410.8 185.6L411.6 185.6L412.4 185.6L413.2 185.3L414.0 185.2L414.8 185.2L415.6 185.0L416.4 185.0L417.3 185.1L418.1 184.9L418.9 184.4L419.7 183.4L420.5 182.9L421.3 182.5L422.1 182.4L423.0 182.5L423.8 182.8L424.6 183.0L425.4 183.1L426.2 182.6L427.0 181.3L427.8 180.1L428.6 179.1L429.5 178.2L430.3 177.1L431.1 176.4L431.9 176.6L432.7 176.7L433.5 177.3L434.3 177.3L435.2 177.5L436.0 177.1L436.8 176.7L437.6 176.1L438.4 175.3L439.2 174.6L440.0 173.8L440.9 103.5L441.7 172.3L442.5 171.9L443.3 171.7L444.1 171.2L444.9 170.3L445.7 169.7L446.5 169.5L447.4 169.7L448.2 169.4L449.0 168.9L449.8 168.3L450.6 168.0L451.4 167.6L452.2 167.2L453.1 166.5L453.9 165.8L454.7 165.5L455.5 165.4L456.3 165.6L457.1 166.6L457.9 167.7L458.7 168.2L459.6 168.6L460.4 168.9L461.2 167.8L462.0 167.6L462.8 167.5L463.6 167.3L464.4 167.2L465.3 166.3L466.1 166.5L466.9 166.3L467.7 166.5L468.5 167.2L469.3 168.0L470.1 169.4L470.9 170.3L471.8 171.2L472.6 172.1L473.4 173.1L474.2 174.2L475.0 175.1L475.8 176.6L476.6 178.2L477.5 180.2L478.3 182.3L479.1 184.6L479.9 186.2L480.7 187.8L481.5 188.9L482.3 190.4L483.1 191.8L484.0 193.1L484.8 194.5L485.6 196.3L486.4 198.2L487.2 200.0L488.0 202.0L488.8 203.9L489.7 205.8L490.5 207.5L491.3 208.9L492.1 210.3L492.9 212.0L493.7 213.7L494.5 215.4L495.4 216.9L496.2 219.0L497.0 220.8L497.8 222.5L498.6 223.9L499.4 225.3L500.2 226.4L501.0 227.6L501.9 228.8L502.7 229.6L503.5 230.7L504.3 231.6L505.1 232.6L505.9 233.4L506.7 234.7L507.6 236.0L508.4 237.2L509.2 238.3L510.0 239.4L510.8 240.4L511.6 241.2L512.4 242.0L513.2 243.1L514.1 244.0L514.9 245.3L515.7 246.5L516.5 247.6L517.3 248.8L518.1 249.6L518.9 250.3L519.8 250.9L520.6 251.7L521.4 252.5L522.2 253.4L523.0 254.4L523.8 255.7L524.6 257.1L525.4 258.6L526.3 260.6L527.1 212.1L527.9 175.3L528.7 226.9L529.5 241.7L530.3 264.4L531.1 264.7L532.0 178.3L532.8 230.1L533.6 252.7L534.4 244.5L535.2 261.6L536.0 207.7L536.8 248.8L537.7 248.6L538.5 196.9L539.3 209.4L540.1 245.0L540.9 247.2L541.7 241.8L542.5 186.9L543.3 216.8L544.2 251.1L545.0 271.4L545.8 271.9L546.6 273.1L547.4 235.4L548.2 275.7L549.0 276.9L549.9 277.1L550.7 277.4L551.5 277.6L552.3 277.9L553.1 278.1L553.9 278.3L554.7 278.4L555.5 278.7L556.4 278.9L557.2 279.1L558.0 279.1L558.8 279.2L559.6 279.1L560.4 279.1L561.2 279.3L562.1 279.4L562.9 279.6L563.7 279.7L564.5 279.8L565.3 280.0L566.1 280.2L566.9 280.4L567.7 280.5L568.6 280.6L569.4 280.7L570.2 280.9L571.0 281.0L571.8 281.2L572.6 281.3L573.4 281.4L574.3 281.4L575.1 281.4L575.9 281.5L576.7 281.6L577.5 281.8L578.3 281.9L579.1 282.1L580.0 282.2L580.8 282.4L581.6 282.6L582.4 282.7L583.2 282.8L584.0 282.9L584.8 283.0L585.6 283.1L586.5 283.2L587.3 283.3L588.1 283.4L588.9 283.5L589.7 283.5L590.5 283.5L591.3 283.6L592.2 283.8L593.0 283.9L593.8 284.0L594.6 283.9"/>
<path d="M329.4 284.1L330.2 284.1L331.0 284.1L331.8 284.1L332.7 284.1L333.5 284.0L334.3 284.0L335.1 284.0L335.9 284.0L336.7 284.0L337.5 284.1L338.4 284.2L339.2 284.2L340.0 284.1L340.8 284.1L341.6 284.1L342.4 284.1L343.2 284.1L344.0 284.1L344.9 284.1L345.7 284.1L346.5 284.1L347.3 284.2L348.1 284.2L348.9 284.2L349.7 284.1L350.6 284.1L351.4 284.1L352.2 284.1L353.0 284.2L353.8 284.1L354.6 284.1L355.4 284.1L356.3 284.1L357.1 284.1L357.9 284.1L358.7 284.1L359.5 284.1L360.3 284.0L361.1 284.1L361.9 284.1L362.8 284.1L363.6 284.1L364.4 284.1L365.2 284.2L366.0 284.2L366.8 284.2L367.6 284.2L368.5 284.1L369.3 284.1L370.1 284.1L370.9 284.1L371.7 284.1L372.5 284.1L373.3 284.1L374.1 284.0L375.0 284.0L375.8 284.1L376.6 284.1L377.4 284.0L378.2 284.0L379.0 284.0L379.8 284.1L380.7 283.2L381.5 282.2L382.3 281.3L383.1 274.7L383.9 268.0L384.7 261.3L385.5 254.2L386.3 248.5L387.2 242.5L388.0 236.8L388.8 231.3L389.6 227.4L390.4 223.8L391.2 220.4L392.0 217.0L392.9 214.8L393.7 212.5L394.5 209.6L395.3 206.6L396.1 203.1L396.9 201.1L397.7 198.6L398.6 195.9L399.4 193.3L400.2 190.5L401.0 187.9L401.8 186.2L402.6 184.7L403.4 183.6L404.2 182.6L405.1 182.2L405.9 182.5L406.7 182.8L407.5 182.9L408.3 183.0L409.1 183.9L409.9 184.1L410.8 184.2L411.6 184.0L412.4 183.9L413.2 183.9L414.0 183.6L414.8 183.6L415.6 183.2L416.4 183.5L417.3 184.0L418.1 184.7L418.9 184.5L419.7 183.8L420.5 182.9L421.3 182.0L422.1 181.0L423.0 180.1L423.8 179.8L424.6 179.7L425.4 179.7L426.2 179.1L427.0 179.0L427.8 178.8L428.6 178.3L429.5 177.8L430.3 177.0L431.1 176.5L431.9 176.2L432.7 176.2L433.5 176.4L434.3 176.0L435.2 176.0L436.0 175.4L436.8 174.9L437.6 173.9L438.4 173.2L439.2 172.7L440.0 172.4L440.9 172.2L441.7 172.4L442.5 172.3L443.3 172.2L444.1 171.8L444.9 171.4L445.7 171.1L446.5 170.6L447.4 170.0L448.2 169.1L449.0 168.2L449.8 167.9L450.6 167.6L451.4 167.1L452.2 166.3L453.1 165.4L453.9 164.4L454.7 163.1L455.5 162.0L456.3 161.3L457.1 162.5L457.9 164.1L458.7 165.8L459.6 167.5L460.4 169.2L461.2 169.0L462.0 168.9L462.8 168.0L463.6 167.4L464.4 166.3L465.3 165.8L466.1 166.2L466.9 166.6L467.7 166.8L468.5 167.3L469.3 167.8L470.1 168.7L470.9 169.5L471.8 171.1L472.6 172.5L473.4 173.9L474.2 175.0L475.0 175.7L475.8 176.4L476.6 177.7L477.5 178.8L478.3 180.5L479.1 182.2L479.9 184.3L480.7 186.2L481.5 188.2L482.3 189.9L483.1 191.9L484.0 193.0L484.8 194.7L485.6 196.1L486.4 198.0L487.2 199.3L488.0 201.0L488.8 202.1L489.7 203.3L490.5 204.6L491.3 206.5L492.1 208.2L492.9 210.3L493.7 212.3L494.5 214.2L495.4 215.5L496.2 216.8L497.0 218.2L497.8 219.5L498.6 221.0L499.4 222.5L500.2 224.2L501.0 225.6L501.9 226.9L502.7 228.1L503.5 229.8L504.3 231.1L505.1 232.1L505.9 232.7L506.7 233.5L507.6 234.4L508.4 235.4L509.2 236.6L510.0 237.8L510.8 239.1L511.6 240.2L512.4 241.2L513.2 242.0L514.1 242.7L514.9 243.3L515.7 244.2L516.5 245.1L517.3 246.1L518.1 247.1L518.9 248.3L519.8 249.6L520.6 250.8L521.4 251.9L522.2 253.1L523.0 254.1L523.8 255.3L524.6 256.5L525.4 257.8L526.3 259.6L527.1 195.6L527.9 205.8L528.7 215.7L529.5 244.5L530.3 264.0L531.1 264.4L532.0 213.7L532.8 202.0L533.6 248.0L534.4 264.8L535.2 253.2L536.0 210.5L536.8 248.1L537.7 243.7L538.5 188.2L539.3 231.7L540.1 235.0L540.9 238.1L541.7 223.5L542.5 216.3L543.3 237.2L544.2 265.1L545.0 270.8L545.8 271.1L546.6 272.3L547.4 233.3L548.2 274.9L549.0 276.2L549.9 276.4L550.7 276.7L551.5 277.1L552.3 277.3L553.1 277.6L553.9 277.8L554.7 278.0L555.5 278.2L556.4 278.5L557.2 278.6L558.0 278.8L558.8 278.9L559.6 279.0L560.4 279.1L561.2 279.3L562.1 279.5L562.9 279.7L563.7 279.7L564.5 279.8L565.3 279.9L566.1 280.0L566.9 280.1L567.7 280.2L568.6 280.3L569.4 280.5L570.2 280.6L571.0 280.8L571.8 280.9L572.6 281.1L573.4 281.2L574.3 281.3L575.1 281.4L575.9 281.5L576.7 281.6L577.5 281.7L578.3 281.9L579.1 282.0L580.0 282.2L580.8 282.3L581.6 282.3L582.4 282.4L583.2 282.6L584.0 282.7L584.8 282.8L585.6 282.9L586.5 283.1L587.3 283.2L588.1 283.3L588.9 283.4L589.7 283.4L590.5 283.5L591.3 283.6L592.2 283.8L593.0 283.8L593.8 283.8L594.6 283.9"/>
<path d="M329.4 284.2L330.2 284.2L331.0 284.2L331.8 284.2L332.7 284.3L333.5 284.3L334.3 284.2L335.1 284.2L335.9 284.2L336.7 284.2L337.5 284.1L338.4 284.1L339.2 284.1L340.0 284.1L340.8 284.1L341.6 284.1L342.4 284.2L343.2 284.2L344.0 284.2L344.9 284.2L345.7 284.2L346.5 284.2L347.3 284.2L348.1 284.2L348.9 284.1L349.7 284.2L350.6 284.1L351.4 284.2L352.2 284.2L353.0 284.2L353.8 284.2L354.6 284.2L355.4 284.2L356.3 284.2L357.1 284.2L357.9 284.1L358.7 284.1L359.5 284.1L360.3 284.2L361.1 284.1L361.9 284.1L362.8 284.2L363.6 284.2L364.4 284.2L365.2 284.1L366.0 284.1L366.8 284.1L367.6 284.2L368.5 284.1L369.3 284.1L370.1 284.1L370.9 284.2L371.7 284.2L372.5 284.2L373.3 284.2L374.1 284.2L375.0 284.2L375.8 284.1L376.6 284.2L377.4 284.2L378.2 284.2L379.0 284.1L379.8 284.1L380.7 283.2L381.5 282.3L382.3 281.4L383.1 274.8L383.9 268.0L384.7 261.1L385.5 254.1L386.3 248.7L387.2 243.4L388.0 238.2L388.8 233.1L389.6 228.7L390.4 224.1L391.2 219.7L392.0 214.8L392.9 211.4L393.7 208.0L394.5 204.8L395.3 201.2L396.1 197.8L396.9 195.9L397.7 194.3L398.6 192.7L399.4 191.1L400.2 190.0L401.0 188.7L401.8 188.4L402.6 187.5L403.4 187.2L404.2 186.8L405.1 186.6L405.9 186.5L406.7 186.5L407.5 186.1L408.3 185.5L409.1 185.0L409.9 184.1L410.8 183.5L411.6 182.9L412.4 182.9L413.2 182.2L414.0 182.1L414.8 182.2L415.6 182.0L416.4 182.2L417.3 182.4L418.1 183.4L418.9 184.0L419.7 184.9L420.5 185.1L421.3 184.6L422.1 183.2L423.0 181.3L423.8 179.8L424.6 178.2L425.4 177.8L426.2 177.1L427.0 177.0L427.8 176.5L428.6 176.2L429.5 175.7L430.3 175.2L431.1 174.9L431.9 174.6L432.7 174.6L433.5 174.8L434.3 175.5L435.2 175.9L436.0 175.9L436.8 175.5L437.6 174.6L438.4 173.5L439.2 172.2L440.0 170.7L440.9 169.9L441.7 169.3L442.5 169.3L443.3 169.6L444.1 169.7L444.9 169.7L445.7 169.1L446.5 168.7L447.4 167.9L448.2 166.6L449.0 165.3L449.8 164.4L450.6 163.7L451.4 163.2L452.2 162.5L453.1 162.6L453.9 163.0L454.7 163.8L455.5 164.3L456.3 164.4L457.1 165.7L457.9 166.6L458.7 167.6L459.6 167.9L460.4 168.0L461.2 166.8L462.0 166.0L462.8 165.3L463.6 164.8L464.4 164.4L465.3 164.5L466.1 165.8L466.9 167.2L467.7 168.2L468.5 168.8L469.3 169.4L470.1 169.5L470.9 169.2L471.8 169.1L472.6 169.6L473.4 170.8L474.2 172.0L475.0 173.0L475.8 174.3L476.6 175.6L477.5 177.2L478.3 178.6L479.1 180.4L479.9 182.2L480.7 184.5L481.5 186.1L482.3 187.8L483.1 188.9L484.0 190.6L484.8 192.3L485.6 194.0L486.4 195.5L487.2 196.7L488.0 198.2L488.8 199.6L489.7 201.0L490.5 202.5L491.3 204.0L492.1 206.2L492.9 208.3L493.7 210.8L494.5 212.8L495.4 215.0L496.2 217.1L497.0 218.7L497.8 220.2L498.6 221.6L499.4 223.4L500.2 224.8L501.0 226.2L501.9 227.4L502.7 228.4L503.5 229.3L504.3 229.7L505.1 230.5L505.9 231.5L506.7 232.7L507.6 233.9L508.4 235.0L509.2 236.4L510.0 237.4L510.8 238.3L511.6 238.8L512.4 239.7L513.2 240.3L514.1 241.1L514.9 241.9L515.7 243.1L516.5 244.3L517.3 245.5L518.1 246.6L518.9 247.5L519.8 248.9L520.6 249.9L521.4 251.2L522.2 252.0L523.0 253.2L523.8 254.3L524.6 255.5L525.4 257.0L526.3 259.0L527.1 162.9L527.9 178.7L528.7 246.1L529.5 252.9L530.3 263.2L531.1 263.6L532.0 197.4L532.8 209.7L533.6 255.0L534.4 239.5L535.2 252.5L536.0 224.4L536.8 264.8L537.7 249.8L538.5 217.0L539.3 211.9L540.1 265.7L540.9 248.8L541.7 238.2L542.5 219.3L543.3 220.5L544.2 264.0L545.0 270.7L545.8 271.2L546.6 272.5L547.4 233.8L548.2 275.0L549.0 276.2L549.9 276.4L550.7 276.6L551.5 276.9L552.3 277.2L553.1 277.5L553.9 277.7L554.7 277.9L555.5 278.1L556.4 278.4L557.2 278.6L558.0 278.7L558.8 278.8L559.6 279.0L560.4 279.2L561.2 279.3L562.1 279.4L562.9 279.4L563.7 279.6L564.5 279.6L565.3 279.8L566.1 279.8L566.9 280.0L567.7 280.2L568.6 280.4L569.4 280.5L570.2 280.7L571.0 280.8L571.8 280.8L572.6 280.9L573.4 281.0L574.3 281.2L575.1 281.3L575.9 281.5L576.7 281.6L577.5 281.7L578.3 281.9L579.1 282.0L580.0 282.2L580.8 282.3L581.6 282.3L582.4 282.4L583.2 282.5L584.0 282.7L584.8 282.8L585.6 282.9L586.5 283.1L587.3 283.2L588.1 283.3L588.9 283.3L589.7 283.4L590.5 283.4L591.3 283.5L592.2 283.7L593.0 283.7L593.8 283.8L594.6 283.8"/>
<path d="M329.4 283.8L330.2 283.8L331.0 283.8L331.8 283.8L332.7 283.8L333.5 283.8L334.3 283.8L335.1 283.8L335.9 283.8L336.7 283.8L337.5 283.8L338.4 283.8L339.2 283.8L340.0 283.8L340.8 283.9L341.6 283.9L342.4 283.8L343.2 283.9L344.0 283.9L344.9 283.9L345.7 283.8L346.5 283.8L347.3 283.8L348.1 283.8L348.9 283.8L349.7 283.8L350.6 283.8L351.4 283.8L352.2 283.8L353.0 283.8L353.8 283.7L354.6 283.7L355.4 283.7L356.3 283.8L357.1 283.8L357.9 283.8L358.7 283.8L359.5 283.8L360.3 283.8L361.1 283.9L361.9 283.9L362.8 283.9L363.6 283.9L364.4 283.8L365.2 283.9L366.0 283.8L366.8 283.9L367.6 283.9L368.5 283.9L369.3 283.9L370.1 283.9L370.9 283.8L371.7 283.8L372.5 283.8L373.3 283.9L374.1 283.9L375.0 283.8L375.8 283.9L376.6 283.9L377.4 283.9L378.2 283.9L379.0 283.9L379.8 283.8L380.7 282.8L381.5 281.9L382.3 281.0L383.1 274.0L383.9 267.0L384.7 260.1L385.5 253.2L386.3 248.0L387.2 242.7L388.0 237.4L388.8 231.8L389.6 227.2L390.4 222.6L391.2 218.4L392.0 214.1L392.9 210.9L393.7 207.8L394.5 204.7L395.3 201.6L396.1 198.4L396.9 196.5L397.7 194.3L398.6 192.3L399.4 190.1L400.2 188.0L401.0 185.4L401.8 183.8L402.6 182.1L403.4 180.6L404.2 179.1L405.1 178.3L405.9 178.2L406.7 178.3L407.5 177.7L408.3 177.7L409.1 178.0L409.9 178.9L410.8 179.4L411.6 180.1L412.4 180.2L413.2 180.0L414.0 179.6L414.8 179.2L415.6 178.6L416.4 177.9L417.3 177.8L418.1 178.0L418.9 178.2L419.7 178.8L420.5 178.8L421.3 179.0L422.1 178.3L423.0 178.3L423.8 178.2L424.6 178.2L425.4 177.5L426.2 177.1L427.0 176.8L427.8 176.4L428.6 176.2L429.5 175.9L430.3 176.1L431.1 176.0L431.9 176.3L432.7 176.3L433.5 176.1L434.3 175.6L435.2 174.8L436.0 173.9L436.8 173.0L437.6 172.3L438.4 171.7L439.2 171.0L440.0 170.8L440.9 170.2L441.7 169.9L442.5 169.0L443.3 169.0L444.1 168.7L444.9 168.5L445.7 167.9L446.5 167.3L447.4 166.3L448.2 165.3L449.0 164.3L449.8 163.2L450.6 162.4L451.4 162.1L452.2 161.8L453.1 161.3L453.9 160.8L454.7 160.1L455.5 159.3L456.3 158.4L457.1 159.7L457.9 161.4L458.7 162.9L459.6 164.0L460.4 165.1L461.2 165.1L462.0 164.9L462.8 164.5L463.6 163.9L464.4 163.7L465.3 163.4L466.1 164.2L466.9 164.9L467.7 165.7L468.5 166.5L469.3 167.3L470.1 168.3L470.9 169.2L471.8 170.1L472.6 170.5L473.4 171.0L474.2 171.3L475.0 172.0L475.8 173.1L476.6 174.8L477.5 176.7L478.3 178.2L479.1 179.8L479.9 180.9L480.7 182.4L481.5 183.9L482.3 186.7L483.1 189.1L484.0 191.5L484.8 193.0L485.6 194.7L486.4 196.1L487.2 197.6L488.0 199.4L488.8 200.8L489.7 202.5L490.5 204.2L491.3 206.1L492.1 207.6L492.9 209.0L493.7 210.4L494.5 212.0L495.4 213.8L496.2 215.9L497.0 217.4L497.8 218.8L498.6 220.0L499.4 221.7L500.2 223.0L501.0 224.3L501.9 225.5L502.7 226.6L503.5 227.6L504.3 228.4L505.1 229.2L505.9 230.2L506.7 231.1L507.6 232.3L508.4 233.3L509.2 234.5L510.0 235.4L510.8 236.4L511.6 237.4L512.4 238.4L513.2 239.1L514.1 240.1L514.9 240.9L515.7 242.0L516.5 243.1L517.3 244.3L518.1 245.5L518.9 246.7L519.8 247.7L520.6 249.0L521.4 250.3L522.2 251.4L523.0 252.5L523.8 253.7L524.6 255.1L525.4 256.4L526.3 258.4L527.1 170.0L527.9 173.2L528.7 231.9L529.5 251.5L530.3 262.8L531.1 263.0L532.0 185.3L532.8 226.4L533.6 258.3L534.4 262.4L535.2 259.7L536.0 202.2L536.8 262.1L537.7 251.1L538.5 222.8L539.3 206.0L540.1 242.8L540.9 240.7L541.7 229.8L542.5 201.9L543.3 240.3L544.2 243.2L545.0 270.0L545.8 270.4L546.6 271.8L547.4 219.9L548.2 274.4L549.0 275.6L549.9 275.9L550.7 276.1L551.5 276.4L552.3 276.6L553.1 276.9L553.9 277.1L554.7 277.4L555.5 277.6L556.4 277.8L557.2 278.1L558.0 278.2L558.8 278.3L559.6 278.5L560.4 278.7L561.2 278.8L562.1 278.8L562.9 279.0L563.7 279.1L564.5 279.3L565.3 279.5L566.1 279.6L566.9 279.7L567.7 279.8L568.6 280.0L569.4 280.1L570.2 280.2L571.0 280.3L571.8 280.4L572.6 280.6L573.4 280.7L574.3 280.7L575.1 280.8L575.9 281.0L576.7 281.1L577.5 281.2L578.3 281.3L579.1 281.5L580.0 281.7L580.8 281.9L581.6 281.9L582.4 282.0L583.2 282.1L584.0 282.3L584.8 282.4L585.6 282.5L586.5 282.6L587.3 282.7L588.1 282.9L588.9 283.1L589.7 283.2L590.5 283.2L591.3 283.2L592.2 283.2L593.0 283.4L593.8 283.5L594.6 283.5"/>
<path d="M329.4 -5V284.6" stroke-width="3.4"/>
</g>
<text x="182" y="16.3" font-size="16.5" text-anchor="middle">7.3 (Tile073=73) X</text>
<text x="462" y="16.3" font-size="16.5" text-anchor="middle">7.3 (Tile073=73) Y</text>
<text x="31.9" y="41.5" font-size="13.2" text-anchor="end">On</text>
<text x="611.5" y="41.5" font-size="13.2">On</text>
<text x="31.9" y="58.2" font-size="13.2" text-anchor="end">Y</text>
<text x="611.5" y="58.2" font-size="13.2">Y</text>
<text x="31.9" y="74.9" font-size="13.2" text-anchor="end">Off</text>
<text x="611.5" y="74.9" font-size="13.2">Off</text>
<text x="31.9" y="91.6" font-size="13.2" text-anchor="end">P</text>
<text x="611.5" y="91.6" font-size="13.2">P</text>
<text x="31.9" y="108.3" font-size="13.2" text-anchor="end">O</text>
<text x="611.5" y="108.3" font-size="13.2">O</text>
<text x="31.9" y="125.0" font-size="13.2" text-anchor="end">N</text>
<text x="611.5" y="125.0" font-size="13.2">N</text>
<text x="31.9" y="141.7" font-size="13.2" text-anchor="end">M</text>
<text x="611.5" y="141.7" font-size="13.2">M</text>
<text x="31.9" y="158.4" font-size="13.2" text-anchor="end">L</text>
<text x="611.5" y="158.4" font-size="13.2">L</text>
<text x="31.9" y="175.0" font-size="13.2" text-anchor="end">K</text>
<text x="611.5" y="175.0" font-size="13.2">K</text>
<text x="31.9" y="191.7" font-size="13.2" text-anchor="end">J</text>
<text x="611.5" y="191.7" font-size="13.2">J</text>
<text x="31.9" y="208.4" font-size="13.2" text-anchor="end">I</text>
<text x="611.5" y="208.4" font-size="13.2">I</text>
<text x="31.9" y="225.1" font-size="13.2" text-anchor="end">H</text>
<text x="611.5" y="225.1" font-size="13.2">H</text>
<text x="31.9" y="241.8" font-size="13.2" text-anchor="end">G</text>
<text x="611.5" y="241.8" font-size="13.2">G</text>
<text x="31.9" y="258.5" font-size="13.2" text-anchor="end">F</text>
<text x="611.5" y="258.5" font-size="13.2">F</text>
<text x="31.9" y="275.2" font-size="13.2" text-anchor="end">E</text>
<text x="611.5" y="275.2" font-size="13.2">E</text>
<text x="31.9" y="291.8" font-size="13.2" text-anchor="end">D</text>
<text x="611.5" y="291.8" font-size="13.2">D</text>
<text x="31.9" y="308.5" font-size="13.2" text-anchor="end">C</text>
<text x="611.5" y="308.5" font-size="13.2">C</text>
<text x="31.9" y="325.2" font-size="13.2" text-anchor="end">B</text>
<text x="611.5" y="325.2" font-size="13.2">B</text>
<text x="31.9" y="341.9" font-size="13.2" text-anchor="end">A</text>
<text x="611.5" y="341.9" font-size="13.2">A</text>
<text x="31.9" y="358.6" font-size="13.2" text-anchor="end">Off</text>
<text x="611.5" y="358.6" font-size="13.2">Off</text>
<text x="31.9" y="375.3" font-size="13.2" text-anchor="end">X</text>
<text x="611.5" y="375.3" font-size="13.2">X</text>
<text x="31.9" y="392.0" font-size="13.2" text-anchor="end">On</text>
<text x="611.5" y="392.0" font-size="13.2">On</text>
<text transform="translate(2.75,217.8) rotate(-90)" font-size="13.89" text-anchor="middle">Dipole</text>
<text x="39.3" y="49.0" font-size="13.89" text-anchor="end" class="w">25</text>
<text x="79.0" y="49.0" font-size="13.89" class="w">25</text>
<rect x="69.7" y="43.5" width="4.6" height="1.0" fill="#fff"/>
<text x="319.3" y="49.0" font-size="13.89" text-anchor="end" class="w">25</text>
<text x="359.0" y="49.0" font-size="13.89" class="w">25</text>
<rect x="349.7" y="43.5" width="4.6" height="1.0" fill="#fff"/>
<text x="39.3" y="97.0" font-size="13.89" text-anchor="end" class="w">20</text>
<text x="79.0" y="97.0" font-size="13.89" class="w">20</text>
<rect x="69.7" y="91.5" width="4.6" height="1.0" fill="#fff"/>
<text x="319.3" y="97.0" font-size="13.89" text-anchor="end" class="w">20</text>
<text x="359.0" y="97.0" font-size="13.89" class="w">20</text>
<rect x="349.7" y="91.5" width="4.6" height="1.0" fill="#fff"/>
<text x="39.3" y="145.1" font-size="13.89" text-anchor="end" class="w">15</text>
<text x="79.0" y="145.1" font-size="13.89" class="w">15</text>
<rect x="69.7" y="139.5" width="4.6" height="1.0" fill="#fff"/>
<text x="319.3" y="145.1" font-size="13.89" text-anchor="end" class="w">15</text>
<text x="359.0" y="145.1" font-size="13.89" class="w">15</text>
<rect x="349.7" y="139.5" width="4.6" height="1.0" fill="#fff"/>
<text x="39.3" y="193.1" font-size="13.89" text-anchor="end" class="w">10</text>
<text x="79.0" y="193.1" font-size="13.89" class="w">10</text>
<rect x="69.7" y="187.5" width="4.6" height="1.0" fill="#fff"/>
<text x="319.3" y="193.1" font-size="13.89" text-anchor="end" class="w">10</text>
<text x="359.0" y="193.1" font-size="13.89" class="w">10</text>
<rect x="349.7" y="187.5" width="4.6" height="1.0" fill="#fff"/>
<text x="39.3" y="241.1" font-size="13.89" text-anchor="end" class="w">5</text>
<text x="79.0" y="241.1" font-size="13.89" class="w">5</text>
<rect x="69.7" y="235.5" width="4.6" height="1.0" fill="#fff"/>
<text x="319.3" y="241.1" font-size="13.89" text-anchor="end" class="w">5</text>
<text x="359.0" y="241.1" font-size="13.89" class="w">5</text>
<rect x="349.7" y="235.5" width="4.6" height="1.0" fill="#fff"/>
<text x="39.3" y="289.1" font-size="13.89" text-anchor="end" class="w">0</text>
<text x="79.0" y="289.1" font-size="13.89" class="w">0</text>
<text x="319.3" y="289.1" font-size="13.89" text-anchor="end" class="w">0</text>
<text x="359.0" y="289.1" font-size="13.89" class="w">0</text>
<rect x="48.96" y="408.3" width="0.9" height="4.9" fill="#000"/>
<text x="48.5" y="426.0" font-size="9.4" text-anchor="middle" class="s">0</text>
<rect x="89.63" y="408.3" width="0.9" height="4.9" fill="#000"/>
<text x="89.2" y="426.0" font-size="9.4" text-anchor="middle" class="s">50</text>
<rect x="130.30" y="408.3" width="0.9" height="4.9" fill="#000"/>
<text x="129.9" y="426.0" font-size="9.4" text-anchor="middle" class="s">100</text>
<rect x="170.98" y="408.3" width="0.9" height="4.9" fill="#000"/>
<text x="170.5" y="426.0" font-size="9.4" text-anchor="middle" class="s">150</text>
<rect x="211.65" y="408.3" width="0.9" height="4.9" fill="#000"/>
<text x="211.2" y="426.0" font-size="9.4" text-anchor="middle" class="s">200</text>
<rect x="252.32" y="408.3" width="0.9" height="4.9" fill="#000"/>
<text x="251.9" y="426.0" font-size="9.4" text-anchor="middle" class="s">250</text>
<rect x="292.99" y="408.3" width="0.9" height="4.9" fill="#000"/>
<text x="292.5" y="426.0" font-size="9.4" text-anchor="middle" class="s">300</text>
<rect x="328.96" y="408.3" width="0.9" height="4.9" fill="#000"/>
<text x="328.5" y="426.0" font-size="9.4" text-anchor="middle" class="s">0</text>
<rect x="369.63" y="408.3" width="0.9" height="4.9" fill="#000"/>
<text x="369.2" y="426.0" font-size="9.4" text-anchor="middle" class="s">50</text>
<rect x="410.30" y="408.3" width="0.9" height="4.9" fill="#000"/>
<text x="409.9" y="426.0" font-size="9.4" text-anchor="middle" class="s">100</text>
<rect x="450.98" y="408.3" width="0.9" height="4.9" fill="#000"/>
<text x="450.5" y="426.0" font-size="9.4" text-anchor="middle" class="s">150</text>
<rect x="491.65" y="408.3" width="0.9" height="4.9" fill="#000"/>
<text x="491.2" y="426.0" font-size="9.4" text-anchor="middle" class="s">200</text>
<rect x="532.32" y="408.3" width="0.9" height="4.9" fill="#000"/>
<text x="531.9" y="426.0" font-size="9.4" text-anchor="middle" class="s">250</text>
<rect x="572.99" y="408.3" width="0.9" height="4.9" fill="#000"/>
<text x="572.5" y="426.0" font-size="9.4" text-anchor="middle" class="s">300</text>
</svg>
</body></html>
